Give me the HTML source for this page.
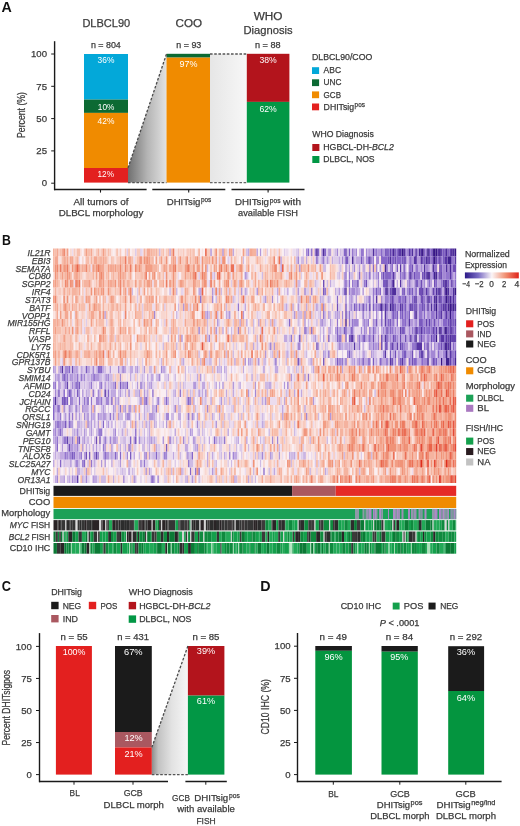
<!DOCTYPE html>
<html><head><meta charset="utf-8"><style>
html,body{margin:0;padding:0;background:#fff;}
svg{display:block;font-family:"Liberation Sans",sans-serif;will-change:transform;}
</style></head><body>
<svg width="520" height="826" viewBox="0 0 520 826">
<defs>
<filter id="hb" filterUnits="userSpaceOnUse" x="52" y="247" width="406" height="238"><feGaussianBlur stdDeviation="0.45 0.6"/></filter>
<linearGradient id="g1" x1="0" x2="1" y1="0" y2="0"><stop offset="0" stop-color="#707070"/><stop offset="0.5" stop-color="#b4b4b4"/><stop offset="1" stop-color="#e2e2e2"/></linearGradient>
<linearGradient id="g2" x1="0" x2="1" y1="0" y2="0"><stop offset="0" stop-color="#e6e6e6"/><stop offset="1" stop-color="#f7f7f7"/></linearGradient>
<linearGradient id="g3" x1="0" x2="1" y1="0" y2="0"><stop offset="0" stop-color="#2c1a88"/><stop offset="0.25" stop-color="#7a6cc4"/><stop offset="0.5" stop-color="#fbf5f7"/><stop offset="0.75" stop-color="#f19274"/><stop offset="1" stop-color="#e0241a"/></linearGradient>
<linearGradient id="g4" x1="0" x2="1" y1="0" y2="0"><stop offset="0" stop-color="#8c8c8c"/><stop offset="0.18" stop-color="#c2c2c2"/><stop offset="0.55" stop-color="#e2e2e2"/><stop offset="1" stop-color="#f6f6f6"/></linearGradient>
</defs>
<text x="1.60" y="11.70" font-size="14.2" fill="#111" stroke="#111" stroke-width="0" font-weight="bold" textLength="10.30" lengthAdjust="spacingAndGlyphs">A</text><text x="82.40" y="27.20" font-size="11.66" fill="#3a3a3a" stroke="#3a3a3a" stroke-width="0.25" textLength="47.80" lengthAdjust="spacingAndGlyphs">DLBCL90</text><text x="175.50" y="27.40" font-size="11.66" fill="#3a3a3a" stroke="#3a3a3a" stroke-width="0.25" textLength="26.50" lengthAdjust="spacingAndGlyphs">COO</text><text x="253.70" y="20.30" font-size="11.66" fill="#3a3a3a" stroke="#3a3a3a" stroke-width="0.25" textLength="28.80" lengthAdjust="spacingAndGlyphs">WHO</text><text x="243.50" y="34.00" font-size="11.66" fill="#3a3a3a" stroke="#3a3a3a" stroke-width="0.25" textLength="49.20" lengthAdjust="spacingAndGlyphs">Diagnosis</text><text x="90.90" y="48.10" font-size="8.86" fill="#3a3a3a" stroke="#3a3a3a" stroke-width="0.25" textLength="29.90" lengthAdjust="spacingAndGlyphs">n = 804</text><text x="176.30" y="48.00" font-size="8.86" fill="#3a3a3a" stroke="#3a3a3a" stroke-width="0.25" textLength="25.00" lengthAdjust="spacingAndGlyphs">n = 93</text><text x="255.00" y="48.10" font-size="8.86" fill="#3a3a3a" stroke="#3a3a3a" stroke-width="0.25" textLength="25.60" lengthAdjust="spacingAndGlyphs">n = 88</text><polygon points="128,168 166.5,54 166.5,182.6 128,182.6" fill="url(#g1)"/><rect x="210" y="54" width="36.8" height="128.6" fill="url(#g2)"/><rect x="84.00" y="54.00" width="44.00" height="45.60" fill="#03a8d9"/><rect x="84.00" y="99.60" width="44.00" height="13.30" fill="#0c6a33"/><rect x="84.00" y="112.90" width="44.00" height="55.10" fill="#f08b00"/><rect x="84.00" y="168.00" width="44.00" height="14.60" fill="#e3201f"/><rect x="166.50" y="53.80" width="43.50" height="3.80" fill="#0c6a33"/><rect x="166.50" y="57.60" width="43.50" height="125.00" fill="#f08b00"/><rect x="246.80" y="53.80" width="42.60" height="48.10" fill="#b3141c"/><rect x="246.80" y="101.90" width="42.60" height="80.70" fill="#029745"/><line x1="128.00" y1="168.00" x2="166.50" y2="54.00" stroke="#4a4a4a" stroke-width="1.3" stroke-dasharray="2.6 1.6"/><line x1="128.00" y1="182.60" x2="166.50" y2="182.60" stroke="#555" stroke-width="1.3" stroke-dasharray="2.6 1.6"/><line x1="210.00" y1="54.00" x2="246.80" y2="54.00" stroke="#555" stroke-width="1.3" stroke-dasharray="2.6 1.6"/><line x1="210.00" y1="182.60" x2="246.80" y2="182.60" stroke="#666" stroke-width="1.3" stroke-dasharray="2.6 1.6"/><text x="97.60" y="62.70" font-size="9.18" fill="#ffffff" stroke="#ffffff" stroke-width="0" textLength="16.80" lengthAdjust="spacingAndGlyphs">36%</text><text x="97.80" y="109.70" font-size="9.18" fill="#ffffff" stroke="#ffffff" stroke-width="0" textLength="16.60" lengthAdjust="spacingAndGlyphs">10%</text><text x="97.60" y="123.50" font-size="9.18" fill="#ffffff" stroke="#ffffff" stroke-width="0" textLength="16.80" lengthAdjust="spacingAndGlyphs">42%</text><text x="97.50" y="177.10" font-size="9.18" fill="#ffffff" stroke="#ffffff" stroke-width="0" textLength="16.50" lengthAdjust="spacingAndGlyphs">12%</text><text x="179.50" y="67.30" font-size="9.18" fill="#ffffff" stroke="#ffffff" stroke-width="0" textLength="18.00" lengthAdjust="spacingAndGlyphs">97%</text><text x="259.40" y="63.10" font-size="9.18" fill="#ffffff" stroke="#ffffff" stroke-width="0" textLength="17.30" lengthAdjust="spacingAndGlyphs">38%</text><text x="259.40" y="111.70" font-size="9.18" fill="#ffffff" stroke="#ffffff" stroke-width="0" textLength="17.30" lengthAdjust="spacingAndGlyphs">62%</text><line x1="54.60" y1="41.20" x2="54.60" y2="190.20" stroke="#1a1a1a" stroke-width="1.4"/><line x1="54.00" y1="189.50" x2="146.60" y2="189.50" stroke="#1a1a1a" stroke-width="1.4"/><line x1="152.30" y1="189.50" x2="225.30" y2="189.50" stroke="#1a1a1a" stroke-width="1.4"/><line x1="231.50" y1="189.50" x2="304.50" y2="189.50" stroke="#1a1a1a" stroke-width="1.4"/><line x1="100.50" y1="189.50" x2="100.50" y2="192.60" stroke="#1a1a1a" stroke-width="1.1"/><line x1="188.70" y1="189.50" x2="188.70" y2="192.60" stroke="#1a1a1a" stroke-width="1.1"/><line x1="268.10" y1="189.50" x2="268.10" y2="192.60" stroke="#1a1a1a" stroke-width="1.1"/><line x1="51.20" y1="54.00" x2="54.70" y2="54.00" stroke="#1a1a1a" stroke-width="1.0"/><text x="47.00" y="57.20" font-size="9.61" fill="#3a3a3a" stroke="#3a3a3a" text-anchor="end" stroke-width="0.25">100</text><line x1="51.20" y1="86.30" x2="54.70" y2="86.30" stroke="#1a1a1a" stroke-width="1.0"/><text x="47.00" y="89.50" font-size="9.61" fill="#3a3a3a" stroke="#3a3a3a" text-anchor="end" stroke-width="0.25">75</text><line x1="51.20" y1="118.60" x2="54.70" y2="118.60" stroke="#1a1a1a" stroke-width="1.0"/><text x="47.00" y="121.80" font-size="9.61" fill="#3a3a3a" stroke="#3a3a3a" text-anchor="end" stroke-width="0.25">50</text><line x1="51.20" y1="150.90" x2="54.70" y2="150.90" stroke="#1a1a1a" stroke-width="1.0"/><text x="47.00" y="154.10" font-size="9.61" fill="#3a3a3a" stroke="#3a3a3a" text-anchor="end" stroke-width="0.25">25</text><line x1="51.20" y1="183.20" x2="54.70" y2="183.20" stroke="#1a1a1a" stroke-width="1.0"/><text x="47.00" y="186.40" font-size="9.61" fill="#3a3a3a" stroke="#3a3a3a" text-anchor="end" stroke-width="0.25">0</text><text transform="translate(21.30,115.00) rotate(-90)" x="-23.00" y="0" font-size="10" fill="#3a3a3a" stroke="#3a3a3a" stroke-width="0.25" textLength="46.00" lengthAdjust="spacingAndGlyphs" dominant-baseline="central">Percent (%)</text><text x="73.50" y="205.00" font-size="9.5" fill="#3a3a3a" stroke="#3a3a3a" stroke-width="0.25" textLength="55.00" lengthAdjust="spacingAndGlyphs">All tumors of</text><text x="58.70" y="216.00" font-size="9.5" fill="#3a3a3a" stroke="#3a3a3a" stroke-width="0.25" textLength="84.60" lengthAdjust="spacingAndGlyphs">DLBCL morphology</text><text x="166.70" y="204.50" font-size="9.5" fill="#3a3a3a" stroke="#3a3a3a" stroke-width="0.25" textLength="33.70" lengthAdjust="spacingAndGlyphs">DHITsig</text><text x="200.90" y="202.10" font-size="7.13" fill="#3a3a3a" stroke="#3a3a3a" stroke-width="0.25" textLength="10.40" lengthAdjust="spacingAndGlyphs">pos</text><text x="235.00" y="205.00" font-size="9.5" fill="#3a3a3a" stroke="#3a3a3a" stroke-width="0.25" textLength="34.00" lengthAdjust="spacingAndGlyphs">DHITsig</text><text x="269.70" y="202.60" font-size="7.13" fill="#3a3a3a" stroke="#3a3a3a" stroke-width="0.25" textLength="10.80" lengthAdjust="spacingAndGlyphs">pos</text><text x="283.10" y="205.00" font-size="9.5" fill="#3a3a3a" stroke="#3a3a3a" stroke-width="0.25" textLength="17.90" lengthAdjust="spacingAndGlyphs">with</text><text x="238.00" y="216.20" font-size="9.5" fill="#3a3a3a" stroke="#3a3a3a" stroke-width="0.25" textLength="60.00" lengthAdjust="spacingAndGlyphs">available FISH</text><text x="312.00" y="59.50" font-size="8.86" fill="#3a3a3a" stroke="#3a3a3a" stroke-width="0.25" textLength="60.30" lengthAdjust="spacingAndGlyphs">DLBCL90/COO</text><rect x="312.00" y="67.20" width="7.10" height="6.80" fill="#03a8d9"/><text x="323.60" y="73.30" font-size="8.86" fill="#3a3a3a" stroke="#3a3a3a" stroke-width="0.25" textLength="17.40" lengthAdjust="spacingAndGlyphs">ABC</text><rect x="312.00" y="79.30" width="7.10" height="6.80" fill="#0c6a33"/><text x="323.60" y="85.40" font-size="8.86" fill="#3a3a3a" stroke="#3a3a3a" stroke-width="0.25" textLength="17.90" lengthAdjust="spacingAndGlyphs">UNC</text><rect x="312.00" y="91.40" width="7.10" height="6.80" fill="#f08b00"/><text x="323.60" y="97.50" font-size="8.86" fill="#3a3a3a" stroke="#3a3a3a" stroke-width="0.25" textLength="17.40" lengthAdjust="spacingAndGlyphs">GCB</text><rect x="312.00" y="103.50" width="7.10" height="6.80" fill="#e3201f"/><text x="323.60" y="109.60" font-size="8.86" fill="#3a3a3a" stroke="#3a3a3a" stroke-width="0.25" textLength="30.50" lengthAdjust="spacingAndGlyphs">DHITsig</text><text x="354.60" y="107.20" font-size="6.64" fill="#3a3a3a" stroke="#3a3a3a" stroke-width="0.25" textLength="10.30" lengthAdjust="spacingAndGlyphs">pos</text><text x="312.30" y="136.90" font-size="8.86" fill="#3a3a3a" stroke="#3a3a3a" stroke-width="0.25" textLength="61.50" lengthAdjust="spacingAndGlyphs">WHO Diagnosis</text><rect x="312.30" y="144.00" width="7.10" height="7.00" fill="#b3141c"/><rect x="312.30" y="156.00" width="7.10" height="7.00" fill="#029745"/><text x="323.30" y="150.40" font-size="8.2" fill="#3a3a3a" stroke="#3a3a3a" stroke-width="0.25" textLength="70.50" lengthAdjust="spacingAndGlyphs"><tspan>HGBCL-DH-</tspan><tspan font-style="italic">BCL2</tspan></text><text x="323.30" y="161.90" font-size="8.86" fill="#3a3a3a" stroke="#3a3a3a" stroke-width="0.25" textLength="51.30" lengthAdjust="spacingAndGlyphs">DLBCL, NOS</text><text x="2.00" y="244.80" font-size="14.2" fill="#111" stroke="#111" stroke-width="0" font-weight="bold" textLength="8.90" lengthAdjust="spacingAndGlyphs">B</text><text x="27.52" y="256.00" font-size="9.4" fill="#3a3a3a" stroke="#3a3a3a" stroke-width="0.25" font-style="italic" textLength="22.98" lengthAdjust="spacingAndGlyphs">IL21R</text><text x="31.83" y="263.82" font-size="9.4" fill="#3a3a3a" stroke="#3a3a3a" stroke-width="0.25" font-style="italic" textLength="18.67" lengthAdjust="spacingAndGlyphs">EBI3</text><text x="15.56" y="271.64" font-size="9.4" fill="#3a3a3a" stroke="#3a3a3a" stroke-width="0.25" font-style="italic" textLength="34.94" lengthAdjust="spacingAndGlyphs">SEMA7A</text><text x="28.48" y="279.46" font-size="9.4" fill="#3a3a3a" stroke="#3a3a3a" stroke-width="0.25" font-style="italic" textLength="22.02" lengthAdjust="spacingAndGlyphs">CD80</text><text x="21.78" y="287.28" font-size="9.4" fill="#3a3a3a" stroke="#3a3a3a" stroke-width="0.25" font-style="italic" textLength="28.72" lengthAdjust="spacingAndGlyphs">SGPP2</text><text x="31.85" y="295.10" font-size="9.4" fill="#3a3a3a" stroke="#3a3a3a" stroke-width="0.25" font-style="italic" textLength="18.65" lengthAdjust="spacingAndGlyphs">IRF4</text><text x="24.98" y="302.92" font-size="9.4" fill="#3a3a3a" stroke="#3a3a3a" stroke-width="0.25" font-style="italic" textLength="25.52" lengthAdjust="spacingAndGlyphs">STAT3</text><text x="29.13" y="310.74" font-size="9.4" fill="#3a3a3a" stroke="#3a3a3a" stroke-width="0.25" font-style="italic" textLength="21.37" lengthAdjust="spacingAndGlyphs">BATF</text><text x="21.78" y="318.56" font-size="9.4" fill="#3a3a3a" stroke="#3a3a3a" stroke-width="0.25" font-style="italic" textLength="28.72" lengthAdjust="spacingAndGlyphs">VOPP1</text><text x="7.44" y="326.38" font-size="9.4" fill="#3a3a3a" stroke="#3a3a3a" stroke-width="0.25" font-style="italic" textLength="43.06" lengthAdjust="spacingAndGlyphs">MIR155HG</text><text x="28.98" y="334.20" font-size="9.4" fill="#3a3a3a" stroke="#3a3a3a" stroke-width="0.25" font-style="italic" textLength="21.52" lengthAdjust="spacingAndGlyphs">RFFL</text><text x="28.00" y="342.02" font-size="9.4" fill="#3a3a3a" stroke="#3a3a3a" stroke-width="0.25" font-style="italic" textLength="22.50" lengthAdjust="spacingAndGlyphs">VASP</text><text x="31.18" y="349.84" font-size="9.4" fill="#3a3a3a" stroke="#3a3a3a" stroke-width="0.25" font-style="italic" textLength="19.32" lengthAdjust="spacingAndGlyphs">LY75</text><text x="16.52" y="357.66" font-size="9.4" fill="#3a3a3a" stroke="#3a3a3a" stroke-width="0.25" font-style="italic" textLength="33.98" lengthAdjust="spacingAndGlyphs">CDK5R1</text><text x="11.73" y="365.48" font-size="9.4" fill="#3a3a3a" stroke="#3a3a3a" stroke-width="0.25" font-style="italic" textLength="38.77" lengthAdjust="spacingAndGlyphs">GPR137B</text><text x="27.06" y="373.30" font-size="9.4" fill="#3a3a3a" stroke="#3a3a3a" stroke-width="0.25" font-style="italic" textLength="23.44" lengthAdjust="spacingAndGlyphs">SYBU</text><text x="18.44" y="381.12" font-size="9.4" fill="#3a3a3a" stroke="#3a3a3a" stroke-width="0.25" font-style="italic" textLength="32.06" lengthAdjust="spacingAndGlyphs">SMIM14</text><text x="23.72" y="388.94" font-size="9.4" fill="#3a3a3a" stroke="#3a3a3a" stroke-width="0.25" font-style="italic" textLength="26.78" lengthAdjust="spacingAndGlyphs">AFMID</text><text x="28.48" y="396.76" font-size="9.4" fill="#3a3a3a" stroke="#3a3a3a" stroke-width="0.25" font-style="italic" textLength="22.02" lengthAdjust="spacingAndGlyphs">CD24</text><text x="19.40" y="404.58" font-size="9.4" fill="#3a3a3a" stroke="#3a3a3a" stroke-width="0.25" font-style="italic" textLength="31.10" lengthAdjust="spacingAndGlyphs">JCHAIN</text><text x="25.14" y="412.40" font-size="9.4" fill="#3a3a3a" stroke="#3a3a3a" stroke-width="0.25" font-style="italic" textLength="25.36" lengthAdjust="spacingAndGlyphs">RGCC</text><text x="22.26" y="420.22" font-size="9.4" fill="#3a3a3a" stroke="#3a3a3a" stroke-width="0.25" font-style="italic" textLength="28.24" lengthAdjust="spacingAndGlyphs">QRSL1</text><text x="16.05" y="428.04" font-size="9.4" fill="#3a3a3a" stroke="#3a3a3a" stroke-width="0.25" font-style="italic" textLength="34.45" lengthAdjust="spacingAndGlyphs">SNHG19</text><text x="25.63" y="435.86" font-size="9.4" fill="#3a3a3a" stroke="#3a3a3a" stroke-width="0.25" font-style="italic" textLength="24.87" lengthAdjust="spacingAndGlyphs">GAMT</text><text x="22.74" y="443.68" font-size="9.4" fill="#3a3a3a" stroke="#3a3a3a" stroke-width="0.25" font-style="italic" textLength="27.76" lengthAdjust="spacingAndGlyphs">PEG10</text><text x="17.98" y="451.50" font-size="9.4" fill="#3a3a3a" stroke="#3a3a3a" stroke-width="0.25" font-style="italic" textLength="32.52" lengthAdjust="spacingAndGlyphs">TNFSF8</text><text x="22.74" y="459.32" font-size="9.4" fill="#3a3a3a" stroke="#3a3a3a" stroke-width="0.25" font-style="italic" textLength="27.76" lengthAdjust="spacingAndGlyphs">ALOX5</text><text x="8.85" y="467.14" font-size="9.4" fill="#3a3a3a" stroke="#3a3a3a" stroke-width="0.25" font-style="italic" textLength="41.65" lengthAdjust="spacingAndGlyphs">SLC25A27</text><text x="31.36" y="474.96" font-size="9.4" fill="#3a3a3a" stroke="#3a3a3a" stroke-width="0.25" font-style="italic" textLength="19.14" lengthAdjust="spacingAndGlyphs">MYC</text><text x="17.47" y="482.78" font-size="9.4" fill="#3a3a3a" stroke="#3a3a3a" stroke-width="0.25" font-style="italic" textLength="33.03" lengthAdjust="spacingAndGlyphs">OR13A1</text><g filter="url(#hb)"><g transform="translate(53.0,248.5) scale(1.70847,7.82)" stroke-width="1" fill="none"><path stroke="#381886" d="M232 7.5h1"/><path stroke="#381886" d="M219 0.5h1"/><path stroke="#381886" d="M235 5.5h1M224 11.5h1M227 14.5h1"/><path stroke="#381886" d="M223 0.5h1M219 3.5h1M230 6.5h1M224 7.5h1"/><path stroke="#381886" d="M204 0.5h1M216 0.5h1M224 0.5h1M226 0.5h1M235 0.5h1M223 1.5h1M230 5.5h1M232 8.5h1M226 10.5h1M229 10.5h1"/><path stroke="#40208e" d="M222 0.5h1M231 1.5h1M232 1.5h1M223 3.5h1M195 5.5h1M197 7.5h1M234 7.5h1M230 13.5h1M230 14.5h1M231 14.5h1"/><path stroke="#482795" d="M199 0.5h1M205 0.5h1M214 0.5h1M233 0.5h1M194 2.5h1M232 2.5h1M224 3.5h1M199 4.5h1M226 5.5h1M224 6.5h1M232 6.5h1M192 7.5h1M231 7.5h1M212 8.5h1M212 11.5h1M229 12.5h1M230 12.5h1M219 14.5h1M235 14.5h1"/><path stroke="#502e9c" d="M154 0.5h1M158 0.5h1M187 0.5h1M210 0.5h1M215 0.5h1M230 0.5h1M234 0.5h1M175 1.5h1M197 1.5h1M218 1.5h1M217 2.5h1M222 2.5h1M230 2.5h1M229 4.5h1M199 5.5h1M200 5.5h1M224 5.5h1M229 5.5h1M231 5.5h1M234 5.5h1M219 6.5h1M223 6.5h1M226 6.5h1M234 6.5h1M221 7.5h1M229 7.5h1M233 7.5h1M235 7.5h1M171 9.5h1M212 10.5h1M230 10.5h1M232 11.5h1M232 12.5h1M1 19.5h1"/><path stroke="#5836a4" d="M202 0.5h1M203 0.5h1M208 0.5h1M212 0.5h1M225 0.5h1M211 1.5h1M212 1.5h1M215 1.5h1M219 1.5h1M222 1.5h1M226 1.5h1M229 1.5h1M230 1.5h1M235 1.5h1M203 2.5h1M199 3.5h1M209 3.5h1M220 3.5h1M232 3.5h1M195 4.5h1M203 4.5h1M230 4.5h1M171 5.5h1M198 5.5h1M218 5.5h1M189 6.5h1M212 6.5h1M194 7.5h1M203 7.5h1M209 7.5h1M219 7.5h1M228 7.5h1M194 8.5h1M224 8.5h1M227 8.5h1M230 8.5h1M208 9.5h1M215 10.5h1M224 10.5h1M233 10.5h1M175 11.5h1M194 11.5h1M227 11.5h1M228 11.5h1M230 11.5h1M176 12.5h1M213 12.5h1M214 12.5h1M215 12.5h1M231 12.5h1M194 13.5h1M232 13.5h1M197 14.5h1M204 14.5h1M5 15.5h1"/><path stroke="#6442ad" d="M197 0.5h1M227 0.5h1M232 0.5h1M185 1.5h1M220 1.5h1M224 1.5h1M226 2.5h1M217 3.5h1M226 3.5h1M228 4.5h1M233 4.5h1M216 5.5h1M222 5.5h1M225 5.5h1M198 6.5h1M229 6.5h1M231 6.5h1M185 7.5h1M198 7.5h1M199 7.5h1M204 7.5h1M212 7.5h1M223 7.5h1M194 9.5h1M218 9.5h1M220 9.5h1M232 9.5h1M235 9.5h1M203 10.5h1M222 10.5h1M232 10.5h1M174 11.5h1M209 11.5h1M231 11.5h1M233 11.5h1M234 11.5h1M235 11.5h1M198 12.5h1M201 12.5h1M203 12.5h1M219 12.5h1M215 13.5h1M216 13.5h1M219 13.5h1M235 13.5h1M232 14.5h1M8 17.5h1M30 18.5h1M8 24.5h1M25 26.5h1M14 29.5h1"/><path stroke="#6f4eb6" d="M171 0.5h1M195 0.5h1M220 0.5h1M229 0.5h1M196 1.5h1M200 1.5h1M205 1.5h1M216 1.5h1M210 2.5h1M234 2.5h1M235 2.5h1M193 3.5h1M195 3.5h1M211 3.5h1M216 3.5h1M218 3.5h1M227 3.5h1M158 4.5h1M178 4.5h1M183 4.5h1M198 4.5h1M212 4.5h1M215 4.5h1M223 4.5h1M194 5.5h1M197 5.5h1M205 5.5h1M214 5.5h1M215 5.5h1M206 6.5h1M211 6.5h1M215 6.5h1M216 6.5h1M220 6.5h1M166 7.5h1M181 7.5h1M191 7.5h1M195 7.5h1M210 7.5h1M216 7.5h1M227 7.5h1M230 7.5h1M171 8.5h1M226 8.5h1M223 9.5h1M231 9.5h1M233 9.5h1M195 10.5h1M227 10.5h1M187 11.5h1M192 11.5h1M199 11.5h1M203 11.5h1M206 11.5h1M215 11.5h1M221 11.5h1M226 11.5h1M192 12.5h1M212 12.5h1M227 12.5h1M200 13.5h1M210 13.5h1M198 14.5h1M210 14.5h1M222 14.5h1M11 15.5h1M6 19.5h1M25 24.5h1M9 25.5h1M19 26.5h1"/><path stroke="#7a5abf" d="M173 0.5h1M194 0.5h1M198 0.5h1M200 0.5h1M209 0.5h1M228 0.5h1M171 1.5h1M172 1.5h1M180 1.5h1M199 1.5h1M204 1.5h1M206 1.5h1M217 1.5h1M228 1.5h1M233 1.5h1M201 2.5h1M205 2.5h1M227 2.5h1M205 3.5h1M208 3.5h1M193 4.5h1M194 4.5h1M213 4.5h1M231 4.5h1M158 5.5h1M189 5.5h1M208 5.5h1M210 5.5h1M212 5.5h1M219 5.5h1M227 6.5h1M233 6.5h1M235 6.5h1M171 7.5h1M176 7.5h1M187 7.5h1M200 7.5h1M206 7.5h1M211 7.5h1M217 7.5h1M226 7.5h1M199 8.5h1M201 8.5h1M204 8.5h1M208 8.5h1M229 8.5h1M189 9.5h1M197 9.5h1M214 9.5h1M215 9.5h1M234 9.5h1M170 10.5h1M204 10.5h1M205 10.5h1M213 10.5h1M217 10.5h1M219 10.5h1M231 10.5h1M235 10.5h1M144 11.5h1M173 11.5h1M182 11.5h1M195 11.5h1M229 11.5h1M154 12.5h1M194 12.5h1M195 12.5h1M204 12.5h1M173 13.5h1M197 13.5h1M205 13.5h1M206 13.5h1M233 13.5h1M143 14.5h1M158 14.5h1M166 14.5h1M181 14.5h1M187 14.5h1M203 14.5h1M224 14.5h1M19 15.5h1M27 15.5h1M6 16.5h1M15 17.5h1M39 17.5h1M43 17.5h1M3 18.5h1M9 18.5h1M14 18.5h1M5 19.5h1M8 19.5h1M20 19.5h1M3 20.5h1M7 22.5h1M15 24.5h1M27 24.5h1M48 24.5h1M66 25.5h1M11 26.5h1M21 26.5h1M45 26.5h1"/><path stroke="#8666c8" d="M149 0.5h1M155 0.5h1M159 0.5h1M170 0.5h1M192 0.5h1M196 0.5h1M201 0.5h1M217 0.5h1M221 0.5h1M231 0.5h1M154 1.5h1M184 1.5h1M192 1.5h1M193 1.5h1M194 1.5h1M195 1.5h1M198 1.5h1M201 1.5h1M202 1.5h1M203 1.5h1M209 1.5h1M225 1.5h1M187 2.5h1M195 2.5h1M198 2.5h1M209 2.5h1M179 3.5h1M185 3.5h1M194 3.5h1M196 3.5h1M197 3.5h1M203 3.5h1M212 3.5h1M222 3.5h1M233 3.5h1M171 4.5h1M173 4.5h1M220 4.5h1M224 4.5h1M235 4.5h1M170 5.5h1M191 5.5h1M204 5.5h1M166 6.5h1M185 6.5h1M195 6.5h1M197 6.5h1M199 6.5h1M202 6.5h1M203 6.5h1M210 6.5h1M221 6.5h1M179 7.5h1M208 7.5h1M192 8.5h1M203 8.5h1M206 8.5h1M211 8.5h1M217 8.5h1M233 8.5h1M234 8.5h1M138 9.5h1M192 9.5h1M196 9.5h1M201 9.5h1M206 9.5h1M216 9.5h1M228 9.5h1M229 9.5h1M230 9.5h1M147 10.5h1M166 10.5h1M171 10.5h1M174 10.5h1M187 10.5h1M197 10.5h1M214 10.5h1M216 10.5h1M220 10.5h1M223 10.5h1M234 10.5h1M161 11.5h1M166 11.5h1M171 11.5h1M181 11.5h1M185 11.5h1M200 11.5h1M211 11.5h1M219 11.5h1M222 11.5h1M223 11.5h1M217 12.5h1M234 12.5h1M214 13.5h1M225 13.5h1M229 13.5h1M191 14.5h1M195 14.5h1M208 14.5h1M211 14.5h1M212 14.5h1M216 14.5h1M223 14.5h1M234 14.5h1M9 15.5h1M26 15.5h1M28 15.5h1M13 17.5h1M36 17.5h1M6 18.5h1M10 18.5h1M32 18.5h1M7 19.5h1M10 19.5h1M15 19.5h1M34 19.5h1M54 19.5h1M66 19.5h1M79 19.5h1M0 20.5h1M0 21.5h1M9 22.5h1M29 22.5h1M4 23.5h1M27 23.5h1M45 24.5h1M94 24.5h1M2 25.5h1M12 26.5h1M30 26.5h1M36 26.5h1M39 26.5h1M60 26.5h1M81 26.5h1M4 27.5h1M18 27.5h1M80 28.5h1M58 29.5h1"/><path stroke="#9476ce" d="M151 0.5h1M153 0.5h1M175 0.5h1M180 0.5h1M181 0.5h1M189 0.5h1M206 0.5h1M218 0.5h1M158 1.5h1M187 1.5h1M221 1.5h1M227 1.5h1M234 1.5h1M208 2.5h1M212 2.5h1M213 2.5h1M223 2.5h1M224 2.5h1M233 2.5h1M171 3.5h1M173 3.5h1M190 3.5h1M192 3.5h1M198 3.5h1M213 3.5h1M214 3.5h1M230 3.5h1M231 3.5h1M235 3.5h1M175 4.5h1M182 4.5h1M208 4.5h1M227 4.5h1M159 5.5h1M173 5.5h1M187 5.5h1M209 5.5h1M223 5.5h1M227 5.5h1M233 5.5h1M86 6.5h1M187 6.5h1M194 6.5h1M204 6.5h1M205 6.5h1M217 6.5h1M225 6.5h1M228 6.5h1M108 7.5h1M177 7.5h1M183 7.5h1M189 7.5h1M205 7.5h1M214 7.5h1M215 7.5h1M158 8.5h1M173 8.5h1M181 8.5h1M198 8.5h1M200 8.5h1M214 8.5h1M215 8.5h1M219 8.5h1M221 8.5h1M222 8.5h1M225 8.5h1M231 8.5h1M235 8.5h1M166 9.5h1M173 9.5h1M175 9.5h1M184 9.5h1M199 9.5h1M204 9.5h1M205 9.5h1M212 9.5h1M219 9.5h1M221 9.5h1M225 9.5h1M151 10.5h1M175 10.5h1M185 10.5h1M198 10.5h1M210 10.5h1M218 10.5h1M221 10.5h1M139 11.5h1M167 11.5h1M168 11.5h1M179 11.5h1M214 11.5h1M179 12.5h1M187 12.5h1M190 12.5h1M197 12.5h1M199 12.5h1M205 12.5h1M210 12.5h1M211 12.5h1M225 12.5h1M226 12.5h1M228 12.5h1M161 13.5h1M204 13.5h1M234 13.5h1M130 14.5h1M169 14.5h1M171 14.5h1M184 14.5h1M185 14.5h1M202 14.5h1M205 14.5h1M233 14.5h1M8 16.5h1M14 16.5h1M16 16.5h1M24 16.5h1M149 16.5h1M1 17.5h1M14 17.5h1M22 17.5h1M28 17.5h1M51 17.5h1M23 18.5h1M58 18.5h1M74 18.5h1M18 19.5h1M22 19.5h1M28 19.5h1M61 19.5h1M13 20.5h1M39 20.5h1M60 20.5h1M4 21.5h1M9 21.5h1M11 21.5h1M33 21.5h1M44 21.5h1M79 21.5h1M2 22.5h1M3 22.5h1M28 23.5h1M48 23.5h1M2 24.5h1M6 24.5h1M7 24.5h1M11 24.5h1M14 24.5h1M30 24.5h1M68 24.5h1M100 24.5h1M29 25.5h1M44 25.5h1M7 26.5h1M10 26.5h1M16 26.5h1M65 26.5h1M17 27.5h1M22 27.5h1M53 27.5h1M79 27.5h1M83 28.5h1M85 28.5h1M123 28.5h1"/><path stroke="#a387d4" d="M148 0.5h1M157 0.5h1M166 0.5h1M177 0.5h1M183 0.5h1M188 0.5h1M207 0.5h1M213 0.5h1M143 1.5h1M169 1.5h1M181 1.5h1M183 1.5h1M186 1.5h1M189 1.5h1M190 1.5h1M208 1.5h1M171 2.5h1M176 2.5h1M185 2.5h1M189 2.5h1M197 2.5h1M215 2.5h1M218 2.5h1M219 2.5h1M228 2.5h1M229 2.5h1M231 2.5h1M204 3.5h1M206 3.5h1M210 3.5h1M225 3.5h1M228 3.5h1M229 3.5h1M190 4.5h1M217 4.5h1M219 4.5h1M234 4.5h1M147 5.5h1M151 5.5h1M175 5.5h1M176 5.5h1M190 5.5h1M196 5.5h1M202 5.5h1M207 5.5h1M217 5.5h1M232 5.5h1M93 6.5h1M128 6.5h1M171 6.5h1M192 6.5h1M196 6.5h1M208 6.5h1M218 6.5h1M158 7.5h1M174 7.5h1M190 7.5h1M193 7.5h1M201 7.5h1M202 7.5h1M222 7.5h1M225 7.5h1M59 8.5h1M169 8.5h1M185 8.5h1M189 8.5h1M195 8.5h1M205 8.5h1M207 8.5h1M223 8.5h1M157 9.5h1M176 9.5h1M177 9.5h1M178 9.5h1M182 9.5h1M187 9.5h1M195 9.5h1M198 9.5h1M217 9.5h1M222 9.5h1M85 10.5h1M108 10.5h1M180 10.5h1M182 10.5h1M188 10.5h1M193 10.5h1M196 10.5h1M200 10.5h1M208 10.5h1M211 10.5h1M228 10.5h1M91 11.5h1M190 11.5h1M197 11.5h1M201 11.5h1M208 11.5h1M216 11.5h1M217 11.5h1M127 12.5h1M143 12.5h1M144 12.5h1M167 12.5h1M185 12.5h1M218 12.5h1M221 12.5h1M223 12.5h1M235 12.5h1M172 13.5h1M193 13.5h1M202 13.5h1M209 13.5h1M221 13.5h1M222 13.5h1M223 13.5h1M228 13.5h1M167 14.5h1M168 14.5h1M179 14.5h1M192 14.5h1M200 14.5h1M209 14.5h1M215 14.5h1M217 14.5h1M218 14.5h1M4 15.5h1M7 15.5h1M8 15.5h1M23 15.5h1M38 15.5h1M41 15.5h1M63 15.5h1M3 16.5h1M5 16.5h1M7 16.5h1M10 16.5h1M18 16.5h1M23 16.5h1M32 16.5h1M39 16.5h1M62 16.5h1M0 17.5h1M3 17.5h1M7 17.5h1M11 17.5h1M27 17.5h1M41 17.5h1M137 17.5h1M1 18.5h1M26 18.5h1M44 18.5h1M118 18.5h1M0 19.5h1M11 19.5h1M25 19.5h1M26 19.5h1M31 19.5h1M32 19.5h1M51 19.5h1M53 19.5h1M80 19.5h1M2 20.5h1M6 20.5h1M9 20.5h1M17 20.5h1M71 20.5h1M90 20.5h1M18 21.5h1M20 21.5h1M26 21.5h1M35 21.5h1M43 21.5h1M66 21.5h1M67 21.5h1M81 21.5h1M148 21.5h1M1 22.5h1M4 22.5h1M10 22.5h1M20 22.5h1M84 22.5h1M1 23.5h1M3 23.5h1M14 23.5h1M36 23.5h1M33 24.5h1M50 24.5h1M76 24.5h1M82 24.5h1M128 24.5h1M131 24.5h1M14 25.5h1M8 26.5h1M24 26.5h1M26 26.5h1M43 26.5h1M54 26.5h1M66 26.5h1M103 26.5h1M105 26.5h1M122 26.5h1M13 27.5h1M14 27.5h1M51 27.5h1M2 29.5h1M11 29.5h1M19 29.5h1M41 29.5h1M57 29.5h1M61 29.5h1"/><path stroke="#b298da" d="M92 0.5h1M99 0.5h1M121 0.5h1M161 0.5h1M162 0.5h1M185 0.5h1M190 0.5h1M191 0.5h1M193 0.5h1M211 0.5h1M157 1.5h1M160 1.5h1M210 1.5h1M213 1.5h1M214 1.5h1M144 2.5h1M173 2.5h1M179 2.5h1M191 2.5h1M112 3.5h1M170 3.5h1M183 3.5h1M187 3.5h1M189 3.5h1M200 3.5h1M221 3.5h1M170 4.5h1M176 4.5h1M177 4.5h1M196 4.5h1M197 4.5h1M207 4.5h1M209 4.5h1M214 4.5h1M216 4.5h1M221 4.5h1M226 4.5h1M232 4.5h1M93 5.5h1M110 5.5h1M119 5.5h1M143 5.5h1M167 5.5h1M174 5.5h1M177 5.5h1M178 5.5h1M181 5.5h1M188 5.5h1M201 5.5h1M220 5.5h1M124 6.5h1M174 6.5h1M177 6.5h1M184 6.5h1M200 6.5h1M201 6.5h1M222 6.5h1M76 7.5h1M143 7.5h1M154 7.5h1M182 7.5h1M188 7.5h1M196 7.5h1M213 7.5h1M218 7.5h1M220 7.5h1M90 8.5h1M103 8.5h1M111 8.5h1M141 8.5h1M147 8.5h1M161 8.5h1M166 8.5h1M216 8.5h1M220 8.5h1M228 8.5h1M96 9.5h1M147 9.5h1M162 9.5h1M181 9.5h1M183 9.5h1M188 9.5h1M207 9.5h1M209 9.5h1M210 9.5h1M224 9.5h1M227 9.5h1M95 10.5h1M148 10.5h1M165 10.5h1M168 10.5h1M183 10.5h1M194 10.5h1M199 10.5h1M225 10.5h1M75 11.5h1M153 11.5h1M158 11.5h1M178 11.5h1M184 11.5h1M196 11.5h1M198 11.5h1M210 11.5h1M220 11.5h1M129 12.5h1M155 12.5h1M168 12.5h1M171 12.5h1M173 12.5h1M188 12.5h1M189 12.5h1M200 12.5h1M206 12.5h1M207 12.5h1M124 13.5h1M158 13.5h1M174 13.5h1M181 13.5h1M186 13.5h1M199 13.5h1M220 13.5h1M226 13.5h1M231 13.5h1M112 14.5h1M114 14.5h1M120 14.5h1M176 14.5h1M178 14.5h1M206 14.5h1M221 14.5h1M228 14.5h1M229 14.5h1M0 15.5h1M13 15.5h1M20 15.5h1M33 15.5h1M40 15.5h1M49 15.5h1M53 15.5h1M123 15.5h1M130 15.5h1M1 16.5h1M11 16.5h1M22 16.5h1M25 16.5h1M26 16.5h1M31 16.5h1M86 16.5h1M139 16.5h1M147 16.5h1M30 17.5h1M35 17.5h1M40 17.5h1M42 17.5h1M49 17.5h1M57 17.5h1M82 17.5h1M83 17.5h1M99 17.5h1M105 17.5h1M118 17.5h1M135 17.5h1M8 18.5h1M15 18.5h1M17 18.5h1M34 18.5h1M39 18.5h1M50 18.5h1M53 18.5h1M85 18.5h1M89 18.5h1M114 18.5h1M27 19.5h1M36 19.5h1M38 19.5h1M78 19.5h1M98 19.5h1M124 19.5h1M152 19.5h1M10 20.5h1M22 20.5h1M24 20.5h1M29 20.5h1M35 20.5h1M42 20.5h1M44 20.5h1M45 20.5h1M58 20.5h1M7 21.5h1M13 21.5h1M15 21.5h1M22 21.5h1M29 21.5h1M30 21.5h1M38 21.5h1M50 21.5h1M56 21.5h1M57 21.5h1M58 21.5h1M162 21.5h1M5 22.5h1M6 22.5h1M11 22.5h1M22 22.5h1M26 22.5h1M32 22.5h1M48 22.5h1M66 22.5h1M95 22.5h1M0 23.5h1M5 23.5h1M18 23.5h1M22 23.5h1M26 23.5h1M80 23.5h1M1 24.5h1M18 24.5h1M35 24.5h1M36 24.5h1M47 24.5h1M57 24.5h1M64 24.5h1M5 25.5h1M10 25.5h1M11 25.5h1M17 25.5h1M25 25.5h1M30 25.5h1M34 25.5h1M45 25.5h1M84 25.5h1M6 26.5h1M9 26.5h1M15 26.5h1M18 26.5h1M31 26.5h1M32 26.5h1M34 26.5h1M37 26.5h1M53 26.5h1M56 26.5h1M78 26.5h1M127 26.5h1M132 26.5h1M10 27.5h1M28 27.5h1M30 27.5h1M39 27.5h1M19 28.5h1M44 28.5h1M54 28.5h1M56 28.5h1M93 28.5h1M6 29.5h1M23 29.5h1M47 29.5h1M81 29.5h1"/><path stroke="#c0a8e0" d="M68 0.5h1M105 0.5h1M114 0.5h1M119 0.5h1M176 0.5h1M184 0.5h1M186 0.5h1M133 1.5h1M148 1.5h1M163 1.5h1M167 1.5h1M177 1.5h1M178 1.5h1M179 1.5h1M133 2.5h1M181 2.5h1M182 2.5h1M206 2.5h1M214 2.5h1M216 2.5h1M220 2.5h1M113 3.5h1M182 3.5h1M234 3.5h1M162 4.5h1M201 4.5h1M211 4.5h1M225 4.5h1M85 5.5h1M86 5.5h1M112 5.5h1M131 5.5h1M137 5.5h1M165 5.5h1M179 5.5h1M193 5.5h1M211 5.5h1M221 5.5h1M228 5.5h1M150 6.5h1M156 6.5h1M161 6.5h1M173 6.5h1M175 6.5h1M183 6.5h1M207 6.5h1M209 6.5h1M213 6.5h1M214 6.5h1M112 7.5h1M136 7.5h1M140 7.5h1M148 7.5h1M173 7.5h1M178 7.5h1M180 7.5h1M207 7.5h1M30 8.5h1M89 8.5h1M101 8.5h1M156 8.5h1M165 8.5h1M167 8.5h1M177 8.5h1M213 8.5h1M109 9.5h1M113 9.5h1M120 9.5h1M156 9.5h1M169 9.5h1M203 9.5h1M211 9.5h1M226 9.5h1M99 10.5h1M140 10.5h1M158 10.5h1M161 10.5h1M162 10.5h1M167 10.5h1M190 10.5h1M192 10.5h1M201 10.5h1M202 10.5h1M206 10.5h1M209 10.5h1M135 11.5h1M136 11.5h1M176 11.5h1M180 11.5h1M183 11.5h1M186 11.5h1M188 11.5h1M193 11.5h1M202 11.5h1M204 11.5h1M205 11.5h1M207 11.5h1M218 11.5h1M117 12.5h1M169 12.5h1M172 12.5h1M174 12.5h1M178 12.5h1M181 12.5h1M186 12.5h1M202 12.5h1M209 12.5h1M224 12.5h1M233 12.5h1M137 13.5h1M159 13.5h1M182 13.5h1M187 13.5h1M207 13.5h1M208 13.5h1M212 13.5h1M217 13.5h1M227 13.5h1M76 14.5h1M106 14.5h1M115 14.5h1M144 14.5h1M151 14.5h1M165 14.5h1M175 14.5h1M180 14.5h1M182 14.5h1M183 14.5h1M189 14.5h1M193 14.5h1M194 14.5h1M199 14.5h1M213 14.5h1M214 14.5h1M225 14.5h1M226 14.5h1M1 15.5h1M3 15.5h1M12 15.5h1M14 15.5h1M16 15.5h1M21 15.5h1M29 15.5h1M42 15.5h1M45 15.5h1M46 15.5h1M48 15.5h1M64 15.5h1M65 15.5h1M96 15.5h1M98 15.5h1M100 15.5h1M111 15.5h1M131 15.5h1M152 15.5h1M169 15.5h1M207 15.5h1M2 16.5h1M12 16.5h1M13 16.5h1M17 16.5h1M20 16.5h1M27 16.5h1M30 16.5h1M45 16.5h1M55 16.5h1M57 16.5h1M58 16.5h1M61 16.5h1M67 16.5h1M84 16.5h1M116 16.5h1M4 17.5h1M6 17.5h1M12 17.5h1M21 17.5h1M32 17.5h1M34 17.5h1M53 17.5h1M56 17.5h1M87 17.5h1M88 17.5h1M95 17.5h1M97 17.5h1M109 17.5h1M126 17.5h1M127 17.5h1M12 18.5h1M19 18.5h1M27 18.5h1M35 18.5h1M36 18.5h1M42 18.5h1M55 18.5h1M71 18.5h1M87 18.5h1M101 18.5h1M105 18.5h1M141 18.5h1M145 18.5h1M2 19.5h1M13 19.5h1M19 19.5h1M55 19.5h1M65 19.5h1M67 19.5h1M82 19.5h1M92 19.5h1M122 19.5h1M135 19.5h1M1 20.5h1M15 20.5h1M18 20.5h1M19 20.5h1M20 20.5h1M36 20.5h1M41 20.5h1M47 20.5h1M53 20.5h1M134 20.5h1M147 20.5h1M2 21.5h1M3 21.5h1M23 21.5h1M24 21.5h1M27 21.5h1M28 21.5h1M42 21.5h1M53 21.5h1M59 21.5h1M73 21.5h1M74 21.5h1M82 21.5h1M84 21.5h1M93 21.5h1M97 21.5h1M134 21.5h1M14 22.5h1M15 22.5h1M24 22.5h1M34 22.5h1M54 22.5h1M56 22.5h1M59 22.5h1M79 22.5h1M122 22.5h1M12 23.5h1M35 23.5h1M40 23.5h1M56 23.5h1M71 23.5h1M81 23.5h1M85 23.5h1M102 23.5h1M0 24.5h1M5 24.5h1M9 24.5h1M10 24.5h1M17 24.5h1M20 24.5h1M37 24.5h1M53 24.5h1M56 24.5h1M59 24.5h1M91 24.5h1M95 24.5h1M97 24.5h1M108 24.5h1M113 24.5h1M1 25.5h1M8 25.5h1M12 25.5h1M13 25.5h1M19 25.5h1M23 25.5h1M39 25.5h1M42 25.5h1M56 25.5h1M60 25.5h1M77 25.5h1M78 25.5h1M83 25.5h1M1 26.5h1M4 26.5h1M5 26.5h1M13 26.5h1M14 26.5h1M29 26.5h1M47 26.5h1M70 26.5h1M79 26.5h1M90 26.5h1M93 26.5h1M100 26.5h1M106 26.5h1M107 26.5h1M138 26.5h1M141 26.5h1M147 26.5h1M0 27.5h1M24 27.5h1M34 27.5h1M44 27.5h1M90 27.5h1M2 28.5h1M14 28.5h1M15 28.5h1M75 28.5h1M129 28.5h1M159 28.5h1M1 29.5h1M9 29.5h1M12 29.5h1M13 29.5h1M17 29.5h1M24 29.5h1M25 29.5h1M35 29.5h1M59 29.5h1M78 29.5h1M106 29.5h1M114 29.5h1"/><path stroke="#cebae4" d="M62 0.5h1M113 0.5h1M143 0.5h1M165 0.5h1M168 0.5h1M172 0.5h1M179 0.5h1M111 1.5h1M142 1.5h1M145 1.5h1M146 1.5h1M155 1.5h1M161 1.5h1M170 1.5h1M173 1.5h1M176 1.5h1M207 1.5h1M90 2.5h1M158 2.5h1M159 2.5h1M168 2.5h1M175 2.5h1M200 2.5h1M211 2.5h1M221 2.5h1M94 3.5h1M122 3.5h1M167 3.5h1M174 3.5h1M175 3.5h1M178 3.5h1M181 3.5h1M184 3.5h1M188 3.5h1M143 4.5h1M144 4.5h1M153 4.5h1M160 4.5h1M172 4.5h1M181 4.5h1M187 4.5h1M204 4.5h1M210 4.5h1M46 5.5h1M68 5.5h1M72 5.5h1M98 5.5h1M113 5.5h1M169 5.5h1M185 5.5h1M206 5.5h1M95 6.5h1M105 6.5h1M123 6.5h1M131 6.5h1M143 6.5h1M144 6.5h1M157 6.5h1M158 6.5h1M182 6.5h1M193 6.5h1M73 7.5h1M101 7.5h1M156 7.5h1M163 7.5h1M175 7.5h1M184 7.5h1M72 8.5h1M91 8.5h1M96 8.5h1M102 8.5h1M143 8.5h1M144 8.5h1M145 8.5h1M151 8.5h1M159 8.5h1M162 8.5h1M172 8.5h1M175 8.5h1M183 8.5h1M187 8.5h1M196 8.5h1M197 8.5h1M218 8.5h1M90 9.5h1M117 9.5h1M124 9.5h1M127 9.5h1M129 9.5h1M143 9.5h1M149 9.5h1M154 9.5h1M158 9.5h1M159 9.5h1M174 9.5h1M213 9.5h1M90 10.5h1M104 10.5h1M114 10.5h1M117 10.5h1M131 10.5h1M144 10.5h1M149 10.5h1M156 10.5h1M169 10.5h1M172 10.5h1M173 10.5h1M186 10.5h1M189 10.5h1M207 10.5h1M67 11.5h1M73 11.5h1M90 11.5h1M104 11.5h1M119 11.5h1M138 11.5h1M141 11.5h1M148 11.5h1M152 11.5h1M156 11.5h1M165 11.5h1M64 12.5h1M72 12.5h1M112 12.5h1M119 12.5h1M126 12.5h1M159 12.5h1M166 12.5h1M170 12.5h1M175 12.5h1M177 12.5h1M220 12.5h1M85 13.5h1M91 13.5h1M101 13.5h1M105 13.5h1M128 13.5h1M131 13.5h1M136 13.5h1M141 13.5h1M148 13.5h1M166 13.5h1M175 13.5h1M179 13.5h1M188 13.5h1M198 13.5h1M203 13.5h1M63 14.5h1M75 14.5h1M86 14.5h1M91 14.5h1M92 14.5h1M97 14.5h1M116 14.5h1M123 14.5h1M124 14.5h1M129 14.5h1M136 14.5h1M150 14.5h1M170 14.5h1M174 14.5h1M188 14.5h1M196 14.5h1M6 15.5h1M10 15.5h1M17 15.5h1M25 15.5h1M30 15.5h1M56 15.5h1M57 15.5h1M77 15.5h1M93 15.5h1M97 15.5h1M101 15.5h1M142 15.5h1M145 15.5h1M9 16.5h1M21 16.5h1M28 16.5h1M33 16.5h1M34 16.5h1M52 16.5h1M60 16.5h1M71 16.5h1M77 16.5h1M101 16.5h1M10 17.5h1M18 17.5h1M20 17.5h1M33 17.5h1M52 17.5h1M55 17.5h1M74 17.5h1M76 17.5h1M124 17.5h1M125 17.5h1M2 18.5h1M20 18.5h1M21 18.5h1M31 18.5h1M38 18.5h1M48 18.5h1M49 18.5h1M66 18.5h1M70 18.5h1M78 18.5h1M80 18.5h1M125 18.5h1M136 18.5h1M188 18.5h1M3 19.5h1M12 19.5h1M17 19.5h1M30 19.5h1M37 19.5h1M50 19.5h1M58 19.5h1M73 19.5h1M87 19.5h1M89 19.5h1M100 19.5h1M103 19.5h1M11 20.5h1M14 20.5h1M28 20.5h1M30 20.5h1M38 20.5h1M55 20.5h1M59 20.5h1M73 20.5h1M74 20.5h1M83 20.5h1M95 20.5h1M105 20.5h1M111 20.5h1M182 20.5h1M6 21.5h1M19 21.5h1M31 21.5h1M39 21.5h1M40 21.5h1M45 21.5h1M48 21.5h1M69 21.5h1M70 21.5h1M78 21.5h1M100 21.5h1M108 21.5h1M110 21.5h1M122 21.5h1M145 21.5h1M155 21.5h1M16 22.5h1M18 22.5h1M21 22.5h1M31 22.5h1M36 22.5h1M41 22.5h1M42 22.5h1M45 22.5h1M52 22.5h1M60 22.5h1M64 22.5h1M74 22.5h1M87 22.5h1M99 22.5h1M123 22.5h1M141 22.5h1M2 23.5h1M11 23.5h1M13 23.5h1M16 23.5h1M19 23.5h1M21 23.5h1M25 23.5h1M43 23.5h1M50 23.5h1M53 23.5h1M87 23.5h1M126 23.5h1M141 23.5h1M12 24.5h1M22 24.5h1M24 24.5h1M29 24.5h1M31 24.5h1M34 24.5h1M41 24.5h1M42 24.5h1M51 24.5h1M55 24.5h1M58 24.5h1M70 24.5h1M72 24.5h1M79 24.5h1M83 24.5h1M88 24.5h1M98 24.5h1M107 24.5h1M121 24.5h1M123 24.5h1M150 24.5h1M160 24.5h1M21 25.5h1M27 25.5h1M52 25.5h1M53 25.5h1M82 25.5h1M87 25.5h1M103 25.5h1M107 25.5h1M114 25.5h1M123 25.5h1M132 25.5h1M3 26.5h1M23 26.5h1M33 26.5h1M35 26.5h1M50 26.5h1M58 26.5h1M59 26.5h1M61 26.5h1M62 26.5h1M64 26.5h1M74 26.5h1M80 26.5h1M98 26.5h1M118 26.5h1M120 26.5h1M128 26.5h1M139 26.5h1M140 26.5h1M146 26.5h1M170 26.5h1M186 26.5h1M6 27.5h1M15 27.5h1M20 27.5h1M45 27.5h1M61 27.5h1M80 27.5h1M81 27.5h1M95 27.5h1M104 27.5h1M121 27.5h1M139 27.5h1M40 28.5h1M46 28.5h1M69 28.5h1M117 28.5h1M126 28.5h1M150 28.5h1M179 28.5h1M4 29.5h1M5 29.5h1M8 29.5h1M28 29.5h1M29 29.5h1M30 29.5h1M48 29.5h1M77 29.5h1M85 29.5h1M95 29.5h1M107 29.5h1M116 29.5h1M118 29.5h1"/><path stroke="#ddcbe9" d="M43 0.5h1M48 0.5h1M51 0.5h1M125 0.5h1M135 0.5h1M142 0.5h1M146 0.5h1M150 0.5h1M160 0.5h1M164 0.5h1M169 0.5h1M174 0.5h1M98 1.5h1M102 1.5h1M151 1.5h1M153 1.5h1M156 1.5h1M159 1.5h1M164 1.5h1M165 1.5h1M166 1.5h1M168 1.5h1M174 1.5h1M182 1.5h1M141 2.5h1M167 2.5h1M172 2.5h1M178 2.5h1M192 2.5h1M196 2.5h1M204 2.5h1M85 3.5h1M93 3.5h1M145 3.5h1M166 3.5h1M202 3.5h1M207 3.5h1M215 3.5h1M91 4.5h1M104 4.5h1M108 4.5h1M141 4.5h1M149 4.5h1M154 4.5h1M164 4.5h1M184 4.5h1M189 4.5h1M192 4.5h1M205 4.5h1M49 5.5h1M75 5.5h1M94 5.5h1M96 5.5h1M102 5.5h1M108 5.5h1M135 5.5h1M140 5.5h1M141 5.5h1M148 5.5h1M149 5.5h1M154 5.5h1M156 5.5h1M161 5.5h1M166 5.5h1M186 5.5h1M213 5.5h1M49 6.5h1M106 6.5h1M108 6.5h1M112 6.5h1M160 6.5h1M162 6.5h1M169 6.5h1M188 6.5h1M52 7.5h1M65 7.5h1M79 7.5h1M90 7.5h1M135 7.5h1M137 7.5h1M144 7.5h1M153 7.5h1M155 7.5h1M161 7.5h1M167 7.5h1M168 7.5h1M52 8.5h1M108 8.5h1M119 8.5h1M140 8.5h1M153 8.5h1M155 8.5h1M164 8.5h1M174 8.5h1M182 8.5h1M184 8.5h1M190 8.5h1M202 8.5h1M19 9.5h1M31 9.5h1M65 9.5h1M97 9.5h1M105 9.5h1M130 9.5h1M137 9.5h1M144 9.5h1M163 9.5h1M190 9.5h1M191 9.5h1M193 9.5h1M200 9.5h1M18 10.5h1M68 10.5h1M73 10.5h1M102 10.5h1M121 10.5h1M163 10.5h1M176 10.5h1M181 10.5h1M36 11.5h1M60 11.5h1M123 11.5h1M130 11.5h1M137 11.5h1M143 11.5h1M146 11.5h1M151 11.5h1M154 11.5h1M163 11.5h1M164 11.5h1M189 11.5h1M213 11.5h1M51 12.5h1M76 12.5h1M94 12.5h1M100 12.5h1M105 12.5h1M107 12.5h1M137 12.5h1M140 12.5h1M148 12.5h1M157 12.5h1M160 12.5h1M184 12.5h1M196 12.5h1M208 12.5h1M127 13.5h1M143 13.5h1M147 13.5h1M154 13.5h1M155 13.5h1M160 13.5h1M169 13.5h1M177 13.5h1M183 13.5h1M189 13.5h1M192 13.5h1M195 13.5h1M201 13.5h1M213 13.5h1M224 13.5h1M5 14.5h1M43 14.5h1M49 14.5h1M52 14.5h1M89 14.5h1M90 14.5h1M100 14.5h1M119 14.5h1M132 14.5h1M149 14.5h1M162 14.5h1M163 14.5h1M177 14.5h1M220 14.5h1M18 15.5h1M22 15.5h1M24 15.5h1M39 15.5h1M44 15.5h1M50 15.5h1M52 15.5h1M60 15.5h1M69 15.5h1M79 15.5h1M82 15.5h1M83 15.5h1M85 15.5h1M104 15.5h1M116 15.5h1M137 15.5h1M138 15.5h1M140 15.5h1M143 15.5h1M151 15.5h1M181 15.5h1M4 16.5h1M15 16.5h1M19 16.5h1M29 16.5h1M36 16.5h1M47 16.5h1M49 16.5h1M51 16.5h1M53 16.5h1M65 16.5h1M66 16.5h1M80 16.5h1M88 16.5h1M94 16.5h1M98 16.5h1M119 16.5h1M141 16.5h1M5 17.5h1M16 17.5h1M17 17.5h1M19 17.5h1M23 17.5h1M25 17.5h1M31 17.5h1M38 17.5h1M46 17.5h1M58 17.5h1M64 17.5h1M66 17.5h1M71 17.5h1M72 17.5h1M77 17.5h1M84 17.5h1M91 17.5h1M94 17.5h1M108 17.5h1M139 17.5h1M169 17.5h1M4 18.5h1M5 18.5h1M11 18.5h1M13 18.5h1M24 18.5h1M33 18.5h1M40 18.5h1M54 18.5h1M81 18.5h1M83 18.5h1M86 18.5h1M92 18.5h1M137 18.5h1M4 19.5h1M29 19.5h1M33 19.5h1M60 19.5h1M62 19.5h1M70 19.5h1M88 19.5h1M97 19.5h1M101 19.5h1M107 19.5h1M109 19.5h1M112 19.5h1M117 19.5h1M120 19.5h1M123 19.5h1M133 19.5h1M184 19.5h1M4 20.5h1M7 20.5h1M32 20.5h1M54 20.5h1M56 20.5h1M70 20.5h1M88 20.5h1M98 20.5h1M104 20.5h1M115 20.5h1M1 21.5h1M10 21.5h1M16 21.5h1M32 21.5h1M34 21.5h1M36 21.5h1M54 21.5h1M60 21.5h1M62 21.5h1M65 21.5h1M88 21.5h1M91 21.5h1M94 21.5h1M102 21.5h1M103 21.5h1M116 21.5h1M123 21.5h1M128 21.5h1M0 22.5h1M8 22.5h1M17 22.5h1M28 22.5h1M39 22.5h1M50 22.5h1M55 22.5h1M62 22.5h1M69 22.5h1M78 22.5h1M85 22.5h1M89 22.5h1M103 22.5h1M105 22.5h1M113 22.5h1M118 22.5h1M120 22.5h1M15 23.5h1M23 23.5h1M30 23.5h1M38 23.5h1M41 23.5h1M55 23.5h1M77 23.5h1M84 23.5h1M88 23.5h1M92 23.5h1M98 23.5h1M133 23.5h1M165 23.5h1M3 24.5h1M4 24.5h1M19 24.5h1M39 24.5h1M40 24.5h1M44 24.5h1M52 24.5h1M60 24.5h1M69 24.5h1M77 24.5h1M86 24.5h1M96 24.5h1M99 24.5h1M106 24.5h1M118 24.5h1M135 24.5h1M144 24.5h1M170 24.5h1M15 25.5h1M38 25.5h1M41 25.5h1M47 25.5h1M48 25.5h1M55 25.5h1M61 25.5h1M62 25.5h1M72 25.5h1M97 25.5h1M98 25.5h1M109 25.5h1M110 25.5h1M146 25.5h1M0 26.5h1M2 26.5h1M42 26.5h1M57 26.5h1M84 26.5h1M97 26.5h1M101 26.5h1M110 26.5h1M121 26.5h1M123 26.5h1M145 26.5h1M153 26.5h1M180 26.5h1M2 27.5h1M7 27.5h1M8 27.5h1M9 27.5h1M12 27.5h1M23 27.5h1M38 27.5h1M52 27.5h1M54 27.5h1M55 27.5h1M62 27.5h1M66 27.5h1M71 27.5h1M94 27.5h1M102 27.5h1M153 27.5h1M155 27.5h1M9 28.5h1M11 28.5h1M16 28.5h1M17 28.5h1M22 28.5h1M24 28.5h1M37 28.5h1M39 28.5h1M41 28.5h1M42 28.5h1M47 28.5h1M57 28.5h1M65 28.5h1M76 28.5h1M91 28.5h1M94 28.5h1M103 28.5h1M154 28.5h1M160 28.5h1M10 29.5h1M18 29.5h1M20 29.5h1M26 29.5h1M45 29.5h1M51 29.5h1M65 29.5h1M66 29.5h1M70 29.5h1M75 29.5h1M82 29.5h1M99 29.5h1"/><path stroke="#ecdcee" d="M11 0.5h1M52 0.5h1M102 0.5h1M131 0.5h1M136 0.5h1M137 0.5h1M140 0.5h1M141 0.5h1M167 0.5h1M15 1.5h1M47 1.5h1M72 1.5h1M86 1.5h1M96 1.5h1M103 1.5h1M124 1.5h1M144 1.5h1M22 2.5h1M106 2.5h1M112 2.5h1M118 2.5h1M138 2.5h1M154 2.5h1M199 2.5h1M202 2.5h1M65 3.5h1M73 3.5h1M90 3.5h1M104 3.5h1M114 3.5h1M120 3.5h1M136 3.5h1M137 3.5h1M150 3.5h1M151 3.5h1M153 3.5h1M155 3.5h1M168 3.5h1M186 3.5h1M201 3.5h1M12 4.5h1M58 4.5h1M72 4.5h1M90 4.5h1M116 4.5h1M155 4.5h1M163 4.5h1M179 4.5h1M185 4.5h1M191 4.5h1M218 4.5h1M222 4.5h1M18 5.5h1M43 5.5h1M51 5.5h1M76 5.5h1M105 5.5h1M107 5.5h1M118 5.5h1M129 5.5h1M130 5.5h1M133 5.5h1M136 5.5h1M144 5.5h1M153 5.5h1M168 5.5h1M192 5.5h1M203 5.5h1M18 6.5h1M31 6.5h1M73 6.5h1M122 6.5h1M137 6.5h1M165 6.5h1M176 6.5h1M186 6.5h1M19 7.5h1M49 7.5h1M58 7.5h1M59 7.5h1M81 7.5h1M104 7.5h1M105 7.5h1M107 7.5h1M111 7.5h1M151 7.5h1M169 7.5h1M172 7.5h1M186 7.5h1M12 8.5h1M19 8.5h1M41 8.5h1M69 8.5h1M73 8.5h1M76 8.5h1M93 8.5h1M120 8.5h1M121 8.5h1M154 8.5h1M179 8.5h1M180 8.5h1M210 8.5h1M11 9.5h1M17 9.5h1M52 9.5h1M58 9.5h1M63 9.5h1M68 9.5h1M76 9.5h1M93 9.5h1M99 9.5h1M125 9.5h1M136 9.5h1M150 9.5h1M152 9.5h1M153 9.5h1M160 9.5h1M164 9.5h1M12 10.5h1M17 10.5h1M22 10.5h1M93 10.5h1M96 10.5h1M105 10.5h1M111 10.5h1M115 10.5h1M123 10.5h1M133 10.5h1M137 10.5h1M157 10.5h1M177 10.5h1M178 10.5h1M179 10.5h1M15 11.5h1M32 11.5h1M47 11.5h1M57 11.5h1M64 11.5h1M86 11.5h1M88 11.5h1M93 11.5h1M96 11.5h1M114 11.5h1M159 11.5h1M162 11.5h1M225 11.5h1M18 12.5h1M62 12.5h1M114 12.5h1M120 12.5h1M136 12.5h1M138 12.5h1M142 12.5h1M150 12.5h1M165 12.5h1M182 12.5h1M193 12.5h1M216 12.5h1M222 12.5h1M16 13.5h1M30 13.5h1M73 13.5h1M109 13.5h1M138 13.5h1M178 13.5h1M180 13.5h1M190 13.5h1M191 13.5h1M218 13.5h1M4 14.5h1M11 14.5h1M12 14.5h1M41 14.5h1M62 14.5h1M71 14.5h1M99 14.5h1M101 14.5h1M110 14.5h1M164 14.5h1M173 14.5h1M190 14.5h1M15 15.5h1M31 15.5h1M32 15.5h1M34 15.5h1M35 15.5h1M36 15.5h1M37 15.5h1M43 15.5h1M47 15.5h1M58 15.5h1M66 15.5h1M70 15.5h1M71 15.5h1M80 15.5h1M81 15.5h1M95 15.5h1M106 15.5h1M109 15.5h1M114 15.5h1M115 15.5h1M122 15.5h1M126 15.5h1M129 15.5h1M147 15.5h1M156 15.5h1M177 15.5h1M199 15.5h1M0 16.5h1M43 16.5h1M46 16.5h1M56 16.5h1M70 16.5h1M82 16.5h1M83 16.5h1M100 16.5h1M111 16.5h1M112 16.5h1M120 16.5h1M124 16.5h1M126 16.5h1M140 16.5h1M152 16.5h1M9 17.5h1M24 17.5h1M29 17.5h1M44 17.5h1M48 17.5h1M59 17.5h1M60 17.5h1M63 17.5h1M67 17.5h1M70 17.5h1M78 17.5h1M79 17.5h1M80 17.5h1M81 17.5h1M86 17.5h1M89 17.5h1M106 17.5h1M113 17.5h1M114 17.5h1M115 17.5h1M116 17.5h1M130 17.5h1M131 17.5h1M140 17.5h1M146 17.5h1M149 17.5h1M157 17.5h1M216 17.5h1M0 18.5h1M18 18.5h1M29 18.5h1M41 18.5h1M45 18.5h1M46 18.5h1M69 18.5h1M75 18.5h1M84 18.5h1M88 18.5h1M103 18.5h1M106 18.5h1M108 18.5h1M115 18.5h1M121 18.5h1M134 18.5h1M144 18.5h1M149 18.5h1M150 18.5h1M162 18.5h1M172 18.5h1M207 18.5h1M14 19.5h1M16 19.5h1M23 19.5h1M24 19.5h1M42 19.5h1M43 19.5h1M45 19.5h1M49 19.5h1M69 19.5h1M71 19.5h1M72 19.5h1M84 19.5h1M104 19.5h1M127 19.5h1M128 19.5h1M129 19.5h1M130 19.5h1M138 19.5h1M153 19.5h1M174 19.5h1M182 19.5h1M8 20.5h1M12 20.5h1M21 20.5h1M27 20.5h1M34 20.5h1M49 20.5h1M51 20.5h1M62 20.5h1M66 20.5h1M69 20.5h1M81 20.5h1M84 20.5h1M87 20.5h1M101 20.5h1M102 20.5h1M103 20.5h1M112 20.5h1M116 20.5h1M117 20.5h1M121 20.5h1M124 20.5h1M132 20.5h1M133 20.5h1M135 20.5h1M8 21.5h1M14 21.5h1M21 21.5h1M52 21.5h1M76 21.5h1M106 21.5h1M113 21.5h1M121 21.5h1M126 21.5h1M129 21.5h1M23 22.5h1M25 22.5h1M33 22.5h1M38 22.5h1M40 22.5h1M51 22.5h1M63 22.5h1M72 22.5h1M80 22.5h1M83 22.5h1M90 22.5h1M91 22.5h1M92 22.5h1M94 22.5h1M104 22.5h1M116 22.5h1M121 22.5h1M139 22.5h1M148 22.5h1M152 22.5h1M163 22.5h1M186 22.5h1M6 23.5h1M7 23.5h1M9 23.5h1M17 23.5h1M31 23.5h1M33 23.5h1M34 23.5h1M39 23.5h1M44 23.5h1M46 23.5h1M47 23.5h1M52 23.5h1M68 23.5h1M69 23.5h1M75 23.5h1M79 23.5h1M90 23.5h1M104 23.5h1M107 23.5h1M119 23.5h1M132 23.5h1M142 23.5h1M155 23.5h1M16 24.5h1M21 24.5h1M28 24.5h1M32 24.5h1M43 24.5h1M54 24.5h1M73 24.5h1M81 24.5h1M89 24.5h1M93 24.5h1M104 24.5h1M115 24.5h1M122 24.5h1M162 24.5h1M166 24.5h1M180 24.5h1M4 25.5h1M6 25.5h1M7 25.5h1M20 25.5h1M24 25.5h1M26 25.5h1M32 25.5h1M35 25.5h1M64 25.5h1M68 25.5h1M69 25.5h1M75 25.5h1M79 25.5h1M91 25.5h1M105 25.5h1M125 25.5h1M130 25.5h1M133 25.5h1M17 26.5h1M20 26.5h1M27 26.5h1M28 26.5h1M40 26.5h1M46 26.5h1M67 26.5h1M68 26.5h1M69 26.5h1M71 26.5h1M72 26.5h1M75 26.5h1M92 26.5h1M94 26.5h1M108 26.5h1M113 26.5h1M115 26.5h1M116 26.5h1M134 26.5h1M142 26.5h1M144 26.5h1M149 26.5h1M151 26.5h1M157 26.5h1M163 26.5h1M165 26.5h1M176 26.5h1M3 27.5h1M5 27.5h1M11 27.5h1M16 27.5h1M25 27.5h1M32 27.5h1M36 27.5h1M37 27.5h1M41 27.5h1M48 27.5h1M58 27.5h1M65 27.5h1M69 27.5h1M73 27.5h1M75 27.5h1M82 27.5h1M88 27.5h1M107 27.5h1M116 27.5h1M130 27.5h1M132 27.5h1M141 27.5h1M164 27.5h1M4 28.5h1M6 28.5h1M30 28.5h1M32 28.5h1M35 28.5h1M38 28.5h1M45 28.5h1M51 28.5h1M52 28.5h1M71 28.5h1M82 28.5h1M92 28.5h1M96 28.5h1M112 28.5h1M121 28.5h1M128 28.5h1M130 28.5h1M141 28.5h1M142 28.5h1M195 28.5h1M210 28.5h1M0 29.5h1M21 29.5h1M37 29.5h1M42 29.5h1M43 29.5h1M53 29.5h1M55 29.5h1M56 29.5h1M74 29.5h1M80 29.5h1M86 29.5h1M102 29.5h1"/><path stroke="#faeef2" d="M9 0.5h1M17 0.5h1M35 0.5h1M40 0.5h1M41 0.5h1M45 0.5h1M83 0.5h1M86 0.5h1M88 0.5h1M110 0.5h1M120 0.5h1M122 0.5h1M126 0.5h1M134 0.5h1M138 0.5h1M145 0.5h1M147 0.5h1M178 0.5h1M182 0.5h1M16 1.5h1M18 1.5h1M59 1.5h1M68 1.5h1M101 1.5h1M109 1.5h1M112 1.5h1M130 1.5h1M138 1.5h1M140 1.5h1M188 1.5h1M62 2.5h1M115 2.5h1M160 2.5h1M161 2.5h1M170 2.5h1M190 2.5h1M207 2.5h1M47 3.5h1M55 3.5h1M60 3.5h1M74 3.5h1M91 3.5h1M111 3.5h1M115 3.5h1M146 3.5h1M160 3.5h1M161 3.5h1M172 3.5h1M177 3.5h1M191 3.5h1M16 4.5h1M61 4.5h1M95 4.5h1M98 4.5h1M112 4.5h1M145 4.5h1M146 4.5h1M157 4.5h1M165 4.5h1M166 4.5h1M168 4.5h1M169 4.5h1M174 4.5h1M186 4.5h1M200 4.5h1M202 4.5h1M16 5.5h1M47 5.5h1M54 5.5h1M64 5.5h1M67 5.5h1M73 5.5h1M84 5.5h1M88 5.5h1M90 5.5h1M114 5.5h1M123 5.5h1M134 5.5h1M138 5.5h1M139 5.5h1M162 5.5h1M163 5.5h1M180 5.5h1M182 5.5h1M5 6.5h1M12 6.5h1M26 6.5h1M28 6.5h1M37 6.5h1M52 6.5h1M59 6.5h1M61 6.5h1M72 6.5h1M94 6.5h1M99 6.5h1M118 6.5h1M120 6.5h1M130 6.5h1M132 6.5h1M163 6.5h1M172 6.5h1M46 7.5h1M63 7.5h1M72 7.5h1M86 7.5h1M92 7.5h1M99 7.5h1M115 7.5h1M124 7.5h1M128 7.5h1M142 7.5h1M3 8.5h1M11 8.5h1M40 8.5h1M43 8.5h1M61 8.5h1M71 8.5h1M83 8.5h1M85 8.5h1M100 8.5h1M109 8.5h1M112 8.5h1M115 8.5h1M127 8.5h1M133 8.5h1M178 8.5h1M188 8.5h1M191 8.5h1M193 8.5h1M209 8.5h1M40 9.5h1M46 9.5h1M48 9.5h1M59 9.5h1M62 9.5h1M114 9.5h1M118 9.5h1M135 9.5h1M140 9.5h1M145 9.5h1M148 9.5h1M161 9.5h1M167 9.5h1M179 9.5h1M180 9.5h1M185 9.5h1M202 9.5h1M36 10.5h1M43 10.5h1M49 10.5h1M50 10.5h1M55 10.5h1M62 10.5h1M63 10.5h1M100 10.5h1M103 10.5h1M143 10.5h1M154 10.5h1M159 10.5h1M164 10.5h1M191 10.5h1M19 11.5h1M23 11.5h1M26 11.5h1M46 11.5h1M48 11.5h1M65 11.5h1M66 11.5h1M72 11.5h1M76 11.5h1M98 11.5h1M100 11.5h1M115 11.5h1M116 11.5h1M126 11.5h1M142 11.5h1M150 11.5h1M157 11.5h1M172 11.5h1M12 12.5h1M40 12.5h1M46 12.5h1M47 12.5h1M55 12.5h1M58 12.5h1M59 12.5h1M79 12.5h1M91 12.5h1M95 12.5h1M96 12.5h1M102 12.5h1M109 12.5h1M145 12.5h1M151 12.5h1M162 12.5h1M180 12.5h1M183 12.5h1M36 13.5h1M59 13.5h1M63 13.5h1M67 13.5h1M72 13.5h1M87 13.5h1M111 13.5h1M117 13.5h1M126 13.5h1M133 13.5h1M149 13.5h1M150 13.5h1M152 13.5h1M167 13.5h1M168 13.5h1M170 13.5h1M171 13.5h1M196 13.5h1M211 13.5h1M31 14.5h1M44 14.5h1M48 14.5h1M53 14.5h1M59 14.5h1M73 14.5h1M80 14.5h1M113 14.5h1M125 14.5h1M133 14.5h1M138 14.5h1M148 14.5h1M155 14.5h1M157 14.5h1M161 14.5h1M186 14.5h1M62 15.5h1M67 15.5h1M72 15.5h1M74 15.5h1M78 15.5h1M99 15.5h1M103 15.5h1M105 15.5h1M107 15.5h1M112 15.5h1M120 15.5h1M125 15.5h1M136 15.5h1M139 15.5h1M150 15.5h1M183 15.5h1M194 15.5h1M196 15.5h1M54 16.5h1M59 16.5h1M63 16.5h1M64 16.5h1M69 16.5h1M72 16.5h1M75 16.5h1M87 16.5h1M90 16.5h1M91 16.5h1M99 16.5h1M105 16.5h1M109 16.5h1M110 16.5h1M128 16.5h1M132 16.5h1M135 16.5h1M190 16.5h1M2 17.5h1M26 17.5h1M47 17.5h1M62 17.5h1M92 17.5h1M96 17.5h1M98 17.5h1M110 17.5h1M112 17.5h1M119 17.5h1M122 17.5h1M134 17.5h1M136 17.5h1M150 17.5h1M154 17.5h1M162 17.5h1M165 17.5h1M170 17.5h1M176 17.5h1M7 18.5h1M16 18.5h1M25 18.5h1M37 18.5h1M57 18.5h1M61 18.5h1M63 18.5h1M64 18.5h1M65 18.5h1M91 18.5h1M93 18.5h1M96 18.5h1M112 18.5h1M117 18.5h1M132 18.5h1M151 18.5h1M155 18.5h1M167 18.5h1M174 18.5h1M187 18.5h1M205 18.5h1M216 18.5h1M9 19.5h1M21 19.5h1M40 19.5h1M46 19.5h1M47 19.5h1M48 19.5h1M59 19.5h1M63 19.5h1M74 19.5h1M83 19.5h1M95 19.5h1M96 19.5h1M110 19.5h1M116 19.5h1M144 19.5h1M149 19.5h1M154 19.5h1M163 19.5h1M165 19.5h1M167 19.5h1M177 19.5h1M181 19.5h1M209 19.5h1M25 20.5h1M31 20.5h1M33 20.5h1M52 20.5h1M63 20.5h1M64 20.5h1M68 20.5h1M76 20.5h1M86 20.5h1M100 20.5h1M126 20.5h1M129 20.5h1M138 20.5h1M145 20.5h1M160 20.5h1M168 20.5h1M211 20.5h1M5 21.5h1M25 21.5h1M41 21.5h1M46 21.5h1M49 21.5h1M61 21.5h1M63 21.5h1M68 21.5h1M71 21.5h1M75 21.5h1M83 21.5h1M87 21.5h1M95 21.5h1M107 21.5h1M112 21.5h1M117 21.5h1M124 21.5h1M132 21.5h1M142 21.5h1M156 21.5h1M180 21.5h1M186 21.5h1M210 21.5h1M12 22.5h1M30 22.5h1M35 22.5h1M44 22.5h1M61 22.5h1M65 22.5h1M71 22.5h1M73 22.5h1M75 22.5h1M82 22.5h1M110 22.5h1M114 22.5h1M115 22.5h1M129 22.5h1M133 22.5h1M149 22.5h1M155 22.5h1M20 23.5h1M24 23.5h1M29 23.5h1M37 23.5h1M54 23.5h1M59 23.5h1M63 23.5h1M64 23.5h1M66 23.5h1M70 23.5h1M74 23.5h1M76 23.5h1M82 23.5h1M83 23.5h1M89 23.5h1M93 23.5h1M94 23.5h1M103 23.5h1M109 23.5h1M114 23.5h1M115 23.5h1M124 23.5h1M125 23.5h1M138 23.5h1M144 23.5h1M23 24.5h1M49 24.5h1M63 24.5h1M66 24.5h1M80 24.5h1M90 24.5h1M92 24.5h1M102 24.5h1M103 24.5h1M105 24.5h1M109 24.5h1M114 24.5h1M120 24.5h1M139 24.5h1M147 24.5h1M161 24.5h1M202 24.5h1M0 25.5h1M3 25.5h1M28 25.5h1M36 25.5h1M49 25.5h1M51 25.5h1M70 25.5h1M71 25.5h1M81 25.5h1M90 25.5h1M96 25.5h1M108 25.5h1M140 25.5h1M157 25.5h1M162 25.5h1M38 26.5h1M44 26.5h1M48 26.5h1M49 26.5h1M52 26.5h1M76 26.5h1M89 26.5h1M95 26.5h1M104 26.5h1M109 26.5h1M112 26.5h1M135 26.5h1M137 26.5h1M150 26.5h1M155 26.5h1M181 26.5h1M200 26.5h1M213 26.5h1M31 27.5h1M33 27.5h1M42 27.5h1M46 27.5h1M50 27.5h1M56 27.5h1M57 27.5h1M70 27.5h1M72 27.5h1M92 27.5h1M96 27.5h1M97 27.5h1M99 27.5h1M103 27.5h1M105 27.5h1M115 27.5h1M118 27.5h1M120 27.5h1M122 27.5h1M124 27.5h1M125 27.5h1M136 27.5h1M152 27.5h1M159 27.5h1M168 27.5h1M1 28.5h1M5 28.5h1M8 28.5h1M12 28.5h1M23 28.5h1M33 28.5h1M34 28.5h1M43 28.5h1M48 28.5h1M50 28.5h1M58 28.5h1M59 28.5h1M62 28.5h1M79 28.5h1M86 28.5h1M87 28.5h1M97 28.5h1M102 28.5h1M107 28.5h1M108 28.5h1M110 28.5h1M111 28.5h1M120 28.5h1M122 28.5h1M124 28.5h1M135 28.5h1M138 28.5h1M146 28.5h1M157 28.5h1M174 28.5h1M184 28.5h1M188 28.5h1M189 28.5h1M202 28.5h1M218 28.5h1M7 29.5h1M15 29.5h1M22 29.5h1M44 29.5h1M49 29.5h1M50 29.5h1M52 29.5h1M60 29.5h1M63 29.5h1M69 29.5h1M71 29.5h1M84 29.5h1M110 29.5h1M119 29.5h1M145 29.5h1M154 29.5h1M167 29.5h1M176 29.5h1M221 29.5h1"/><path stroke="#f9e2e0" d="M16 0.5h1M24 0.5h1M34 0.5h1M36 0.5h1M38 0.5h1M46 0.5h1M47 0.5h1M65 0.5h1M71 0.5h1M72 0.5h1M77 0.5h1M84 0.5h1M87 0.5h1M93 0.5h1M96 0.5h1M106 0.5h1M108 0.5h1M109 0.5h1M128 0.5h1M133 0.5h1M139 0.5h1M144 0.5h1M156 0.5h1M163 0.5h1M3 1.5h1M4 1.5h1M33 1.5h1M36 1.5h1M61 1.5h1M67 1.5h1M105 1.5h1M108 1.5h1M115 1.5h1M116 1.5h1M117 1.5h1M123 1.5h1M125 1.5h1M136 1.5h1M150 1.5h1M191 1.5h1M88 2.5h1M91 2.5h1M93 2.5h1M96 2.5h1M119 2.5h1M120 2.5h1M131 2.5h1M135 2.5h1M155 2.5h1M166 2.5h1M174 2.5h1M177 2.5h1M180 2.5h1M183 2.5h1M225 2.5h1M0 3.5h1M11 3.5h1M18 3.5h1M33 3.5h1M46 3.5h1M57 3.5h1M99 3.5h1M119 3.5h1M121 3.5h1M135 3.5h1M143 3.5h1M156 3.5h1M158 3.5h1M159 3.5h1M165 3.5h1M4 4.5h1M23 4.5h1M65 4.5h1M67 4.5h1M86 4.5h1M96 4.5h1M115 4.5h1M119 4.5h1M159 4.5h1M167 4.5h1M188 4.5h1M206 4.5h1M23 5.5h1M40 5.5h1M48 5.5h1M56 5.5h1M59 5.5h1M63 5.5h1M74 5.5h1M80 5.5h1M81 5.5h1M91 5.5h1M99 5.5h1M111 5.5h1M152 5.5h1M164 5.5h1M172 5.5h1M184 5.5h1M9 6.5h1M22 6.5h1M38 6.5h1M44 6.5h1M100 6.5h1M107 6.5h1M119 6.5h1M129 6.5h1M138 6.5h1M141 6.5h1M159 6.5h1M164 6.5h1M167 6.5h1M170 6.5h1M178 6.5h1M181 6.5h1M190 6.5h1M28 7.5h1M43 7.5h1M44 7.5h1M67 7.5h1M69 7.5h1M70 7.5h1M85 7.5h1M89 7.5h1M91 7.5h1M93 7.5h1M109 7.5h1M113 7.5h1M121 7.5h1M125 7.5h1M130 7.5h1M160 7.5h1M162 7.5h1M165 7.5h1M0 8.5h1M9 8.5h1M15 8.5h1M32 8.5h1M35 8.5h1M45 8.5h1M47 8.5h1M55 8.5h1M62 8.5h1M67 8.5h1M68 8.5h1M84 8.5h1M86 8.5h1M97 8.5h1M104 8.5h1M105 8.5h1M107 8.5h1M113 8.5h1M123 8.5h1M131 8.5h1M134 8.5h1M163 8.5h1M170 8.5h1M186 8.5h1M9 9.5h1M12 9.5h1M21 9.5h1M24 9.5h1M30 9.5h1M36 9.5h1M37 9.5h1M45 9.5h1M49 9.5h1M67 9.5h1M72 9.5h1M95 9.5h1M98 9.5h1M131 9.5h1M141 9.5h1M142 9.5h1M165 9.5h1M186 9.5h1M31 10.5h1M32 10.5h1M46 10.5h1M48 10.5h1M52 10.5h1M61 10.5h1M77 10.5h1M79 10.5h1M91 10.5h1M113 10.5h1M116 10.5h1M120 10.5h1M125 10.5h1M127 10.5h1M136 10.5h1M139 10.5h1M155 10.5h1M184 10.5h1M12 11.5h1M16 11.5h1M17 11.5h1M25 11.5h1M68 11.5h1M99 11.5h1M120 11.5h1M124 11.5h1M132 11.5h1M133 11.5h1M134 11.5h1M149 11.5h1M177 11.5h1M14 12.5h1M21 12.5h1M25 12.5h1M35 12.5h1M37 12.5h1M41 12.5h1M44 12.5h1M50 12.5h1M52 12.5h1M53 12.5h1M57 12.5h1M61 12.5h1M63 12.5h1M75 12.5h1M84 12.5h1M85 12.5h1M104 12.5h1M108 12.5h1M111 12.5h1M121 12.5h1M123 12.5h1M133 12.5h1M147 12.5h1M153 12.5h1M156 12.5h1M161 12.5h1M164 12.5h1M34 13.5h1M37 13.5h1M50 13.5h1M58 13.5h1M61 13.5h1M68 13.5h1M86 13.5h1M94 13.5h1M99 13.5h1M103 13.5h1M106 13.5h1M107 13.5h1M113 13.5h1M115 13.5h1M120 13.5h1M122 13.5h1M144 13.5h1M157 13.5h1M176 13.5h1M184 13.5h1M8 14.5h1M17 14.5h1M18 14.5h1M23 14.5h1M26 14.5h1M30 14.5h1M35 14.5h1M38 14.5h1M46 14.5h1M58 14.5h1M65 14.5h1M68 14.5h1M70 14.5h1M72 14.5h1M77 14.5h1M78 14.5h1M83 14.5h1M93 14.5h1M96 14.5h1M121 14.5h1M127 14.5h1M128 14.5h1M131 14.5h1M140 14.5h1M153 14.5h1M160 14.5h1M201 14.5h1M207 14.5h1M2 15.5h1M88 15.5h1M102 15.5h1M108 15.5h1M113 15.5h1M119 15.5h1M121 15.5h1M124 15.5h1M128 15.5h1M132 15.5h1M133 15.5h1M134 15.5h1M149 15.5h1M160 15.5h1M186 15.5h1M192 15.5h1M213 15.5h1M41 16.5h1M42 16.5h1M44 16.5h1M50 16.5h1M68 16.5h1M73 16.5h1M76 16.5h1M78 16.5h1M81 16.5h1M92 16.5h1M95 16.5h1M102 16.5h1M103 16.5h1M106 16.5h1M108 16.5h1M114 16.5h1M115 16.5h1M133 16.5h1M134 16.5h1M151 16.5h1M154 16.5h1M179 16.5h1M186 16.5h1M187 16.5h1M206 16.5h1M214 16.5h1M45 17.5h1M50 17.5h1M54 17.5h1M93 17.5h1M101 17.5h1M102 17.5h1M107 17.5h1M111 17.5h1M121 17.5h1M128 17.5h1M132 17.5h1M145 17.5h1M147 17.5h1M156 17.5h1M159 17.5h1M164 17.5h1M173 17.5h1M189 17.5h1M220 17.5h1M52 18.5h1M59 18.5h1M60 18.5h1M62 18.5h1M68 18.5h1M72 18.5h1M100 18.5h1M109 18.5h1M130 18.5h1M142 18.5h1M147 18.5h1M165 18.5h1M168 18.5h1M184 18.5h1M39 19.5h1M41 19.5h1M57 19.5h1M68 19.5h1M75 19.5h1M76 19.5h1M85 19.5h1M90 19.5h1M91 19.5h1M115 19.5h1M134 19.5h1M137 19.5h1M140 19.5h1M147 19.5h1M155 19.5h1M178 19.5h1M186 19.5h1M16 20.5h1M26 20.5h1M57 20.5h1M77 20.5h1M93 20.5h1M107 20.5h1M109 20.5h1M110 20.5h1M123 20.5h1M154 20.5h1M172 20.5h1M181 20.5h1M12 21.5h1M17 21.5h1M47 21.5h1M72 21.5h1M86 21.5h1M96 21.5h1M101 21.5h1M105 21.5h1M115 21.5h1M125 21.5h1M146 21.5h1M152 21.5h1M170 21.5h1M172 21.5h1M178 21.5h1M13 22.5h1M37 22.5h1M43 22.5h1M96 22.5h1M97 22.5h1M107 22.5h1M111 22.5h1M126 22.5h1M130 22.5h1M142 22.5h1M154 22.5h1M157 22.5h1M177 22.5h1M191 22.5h1M10 23.5h1M32 23.5h1M45 23.5h1M49 23.5h1M60 23.5h1M62 23.5h1M65 23.5h1M67 23.5h1M72 23.5h1M86 23.5h1M91 23.5h1M99 23.5h1M111 23.5h1M137 23.5h1M140 23.5h1M143 23.5h1M145 23.5h1M149 23.5h1M153 23.5h1M157 23.5h1M161 23.5h1M167 23.5h1M26 24.5h1M38 24.5h1M46 24.5h1M62 24.5h1M65 24.5h1M71 24.5h1M87 24.5h1M111 24.5h1M127 24.5h1M130 24.5h1M132 24.5h1M138 24.5h1M154 24.5h1M169 24.5h1M184 24.5h1M188 24.5h1M210 24.5h1M18 25.5h1M22 25.5h1M40 25.5h1M54 25.5h1M57 25.5h1M63 25.5h1M74 25.5h1M76 25.5h1M80 25.5h1M89 25.5h1M95 25.5h1M99 25.5h1M100 25.5h1M104 25.5h1M111 25.5h1M113 25.5h1M115 25.5h1M118 25.5h1M121 25.5h1M124 25.5h1M128 25.5h1M139 25.5h1M141 25.5h1M147 25.5h1M151 25.5h1M152 25.5h1M158 25.5h1M165 25.5h1M185 25.5h1M22 26.5h1M63 26.5h1M77 26.5h1M82 26.5h1M83 26.5h1M99 26.5h1M102 26.5h1M114 26.5h1M125 26.5h1M129 26.5h1M133 26.5h1M148 26.5h1M152 26.5h1M160 26.5h1M179 26.5h1M1 27.5h1M19 27.5h1M27 27.5h1M29 27.5h1M40 27.5h1M60 27.5h1M63 27.5h1M77 27.5h1M87 27.5h1M119 27.5h1M128 27.5h1M133 27.5h1M134 27.5h1M135 27.5h1M143 27.5h1M10 28.5h1M25 28.5h1M26 28.5h1M27 28.5h1M28 28.5h1M36 28.5h1M64 28.5h1M78 28.5h1M88 28.5h1M90 28.5h1M100 28.5h1M105 28.5h1M116 28.5h1M125 28.5h1M134 28.5h1M136 28.5h1M145 28.5h1M152 28.5h1M164 28.5h1M169 28.5h1M176 28.5h1M183 28.5h1M191 28.5h1M201 28.5h1M209 28.5h1M31 29.5h1M39 29.5h1M40 29.5h1M62 29.5h1M64 29.5h1M76 29.5h1M88 29.5h1M89 29.5h1M94 29.5h1M112 29.5h1M117 29.5h1M123 29.5h1M134 29.5h1M138 29.5h1M140 29.5h1M149 29.5h1M160 29.5h1M175 29.5h1M190 29.5h1"/><path stroke="#f8d6cf" d="M10 0.5h1M13 0.5h1M23 0.5h1M27 0.5h1M31 0.5h1M74 0.5h1M75 0.5h1M107 0.5h1M112 0.5h1M123 0.5h1M130 0.5h1M152 0.5h1M12 1.5h1M17 1.5h1M21 1.5h1M32 1.5h1M43 1.5h1M48 1.5h1M64 1.5h1M79 1.5h1M107 1.5h1M118 1.5h1M122 1.5h1M131 1.5h1M134 1.5h1M135 1.5h1M137 1.5h1M147 1.5h1M149 1.5h1M162 1.5h1M10 2.5h1M47 2.5h1M67 2.5h1M83 2.5h1M86 2.5h1M103 2.5h1M111 2.5h1M117 2.5h1M123 2.5h1M126 2.5h1M136 2.5h1M140 2.5h1M150 2.5h1M165 2.5h1M169 2.5h1M184 2.5h1M186 2.5h1M17 3.5h1M24 3.5h1M26 3.5h1M30 3.5h1M43 3.5h1M63 3.5h1M67 3.5h1M68 3.5h1M72 3.5h1M84 3.5h1M95 3.5h1M98 3.5h1M101 3.5h1M108 3.5h1M117 3.5h1M126 3.5h1M140 3.5h1M152 3.5h1M24 4.5h1M37 4.5h1M47 4.5h1M49 4.5h1M52 4.5h1M78 4.5h1M93 4.5h1M99 4.5h1M103 4.5h1M121 4.5h1M126 4.5h1M134 4.5h1M140 4.5h1M156 4.5h1M161 4.5h1M180 4.5h1M0 5.5h1M2 5.5h1M5 5.5h1M21 5.5h1M30 5.5h1M31 5.5h1M35 5.5h1M52 5.5h1M58 5.5h1M62 5.5h1M65 5.5h1M66 5.5h1M69 5.5h1M92 5.5h1M104 5.5h1M116 5.5h1M125 5.5h1M127 5.5h1M145 5.5h1M146 5.5h1M157 5.5h1M183 5.5h1M3 6.5h1M4 6.5h1M7 6.5h1M10 6.5h1M15 6.5h1M23 6.5h1M32 6.5h1M43 6.5h1M48 6.5h1M50 6.5h1M53 6.5h1M63 6.5h1M79 6.5h1M84 6.5h1M90 6.5h1M109 6.5h1M113 6.5h1M115 6.5h1M135 6.5h1M136 6.5h1M151 6.5h1M155 6.5h1M168 6.5h1M179 6.5h1M180 6.5h1M191 6.5h1M3 7.5h1M5 7.5h1M10 7.5h1M14 7.5h1M20 7.5h1M22 7.5h1M30 7.5h1M31 7.5h1M40 7.5h1M41 7.5h1M47 7.5h1M62 7.5h1M68 7.5h1M88 7.5h1M106 7.5h1M110 7.5h1M116 7.5h1M122 7.5h1M138 7.5h1M141 7.5h1M146 7.5h1M164 7.5h1M170 7.5h1M1 8.5h1M5 8.5h1M16 8.5h1M18 8.5h1M26 8.5h1M28 8.5h1M36 8.5h1M37 8.5h1M46 8.5h1M54 8.5h1M60 8.5h1M63 8.5h1M64 8.5h1M65 8.5h1M75 8.5h1M78 8.5h1M117 8.5h1M118 8.5h1M122 8.5h1M124 8.5h1M128 8.5h1M129 8.5h1M137 8.5h1M138 8.5h1M157 8.5h1M160 8.5h1M168 8.5h1M176 8.5h1M18 9.5h1M20 9.5h1M32 9.5h1M43 9.5h1M44 9.5h1M51 9.5h1M64 9.5h1M73 9.5h1M74 9.5h1M75 9.5h1M91 9.5h1M92 9.5h1M100 9.5h1M104 9.5h1M112 9.5h1M115 9.5h1M119 9.5h1M122 9.5h1M134 9.5h1M155 9.5h1M172 9.5h1M10 10.5h1M15 10.5h1M23 10.5h1M26 10.5h1M27 10.5h1M37 10.5h1M58 10.5h1M64 10.5h1M67 10.5h1M75 10.5h1M86 10.5h1M89 10.5h1M110 10.5h1M118 10.5h1M119 10.5h1M124 10.5h1M128 10.5h1M130 10.5h1M134 10.5h1M135 10.5h1M142 10.5h1M145 10.5h1M146 10.5h1M160 10.5h1M3 11.5h1M11 11.5h1M18 11.5h1M21 11.5h1M22 11.5h1M40 11.5h1M55 11.5h1M58 11.5h1M59 11.5h1M61 11.5h1M70 11.5h1M87 11.5h1M94 11.5h1M108 11.5h1M112 11.5h1M117 11.5h1M127 11.5h1M129 11.5h1M131 11.5h1M147 11.5h1M191 11.5h1M13 12.5h1M17 12.5h1M19 12.5h1M23 12.5h1M24 12.5h1M28 12.5h1M32 12.5h1M68 12.5h1M73 12.5h1M89 12.5h1M90 12.5h1M93 12.5h1M106 12.5h1M110 12.5h1M118 12.5h1M125 12.5h1M134 12.5h1M135 12.5h1M141 12.5h1M158 12.5h1M4 13.5h1M17 13.5h1M43 13.5h1M44 13.5h1M46 13.5h1M48 13.5h1M49 13.5h1M51 13.5h1M52 13.5h1M76 13.5h1M78 13.5h1M125 13.5h1M145 13.5h1M151 13.5h1M156 13.5h1M165 13.5h1M185 13.5h1M0 14.5h1M2 14.5h1M14 14.5h1M16 14.5h1M19 14.5h1M20 14.5h1M21 14.5h1M47 14.5h1M50 14.5h1M51 14.5h1M55 14.5h1M57 14.5h1M60 14.5h1M67 14.5h1M69 14.5h1M79 14.5h1M98 14.5h1M103 14.5h1M105 14.5h1M109 14.5h1M134 14.5h1M135 14.5h1M146 14.5h1M147 14.5h1M51 15.5h1M54 15.5h1M55 15.5h1M61 15.5h1M86 15.5h1M89 15.5h1M110 15.5h1M117 15.5h1M127 15.5h1M135 15.5h1M144 15.5h1M148 15.5h1M165 15.5h1M167 15.5h1M178 15.5h1M188 15.5h1M211 15.5h1M40 16.5h1M74 16.5h1M79 16.5h1M89 16.5h1M93 16.5h1M96 16.5h1M97 16.5h1M117 16.5h1M127 16.5h1M129 16.5h1M131 16.5h1M136 16.5h1M145 16.5h1M148 16.5h1M150 16.5h1M159 16.5h1M161 16.5h1M171 16.5h1M172 16.5h1M185 16.5h1M189 16.5h1M61 17.5h1M69 17.5h1M75 17.5h1M100 17.5h1M104 17.5h1M123 17.5h1M133 17.5h1M138 17.5h1M151 17.5h1M155 17.5h1M163 17.5h1M168 17.5h1M174 17.5h1M184 17.5h1M206 17.5h1M215 17.5h1M22 18.5h1M43 18.5h1M56 18.5h1M67 18.5h1M77 18.5h1M102 18.5h1M104 18.5h1M107 18.5h1M111 18.5h1M116 18.5h1M123 18.5h1M126 18.5h1M131 18.5h1M135 18.5h1M139 18.5h1M146 18.5h1M148 18.5h1M157 18.5h1M35 19.5h1M44 19.5h1M64 19.5h1M77 19.5h1M99 19.5h1M111 19.5h1M119 19.5h1M121 19.5h1M145 19.5h1M157 19.5h1M159 19.5h1M160 19.5h1M164 19.5h1M172 19.5h1M206 19.5h1M210 19.5h1M43 20.5h1M65 20.5h1M75 20.5h1M85 20.5h1M94 20.5h1M118 20.5h1M120 20.5h1M122 20.5h1M125 20.5h1M131 20.5h1M139 20.5h1M142 20.5h1M148 20.5h1M149 20.5h1M151 20.5h1M155 20.5h1M165 20.5h1M169 20.5h1M186 20.5h1M187 20.5h1M200 20.5h1M210 20.5h1M51 21.5h1M64 21.5h1M77 21.5h1M80 21.5h1M90 21.5h1M118 21.5h1M130 21.5h1M131 21.5h1M138 21.5h1M140 21.5h1M157 21.5h1M159 21.5h1M160 21.5h1M175 21.5h1M184 21.5h1M196 21.5h1M206 21.5h1M27 22.5h1M49 22.5h1M58 22.5h1M76 22.5h1M77 22.5h1M86 22.5h1M101 22.5h1M102 22.5h1M117 22.5h1M134 22.5h1M140 22.5h1M145 22.5h1M150 22.5h1M153 22.5h1M156 22.5h1M162 22.5h1M164 22.5h1M8 23.5h1M51 23.5h1M58 23.5h1M61 23.5h1M78 23.5h1M97 23.5h1M101 23.5h1M106 23.5h1M112 23.5h1M117 23.5h1M118 23.5h1M122 23.5h1M127 23.5h1M134 23.5h1M135 23.5h1M152 23.5h1M159 23.5h1M170 23.5h1M178 23.5h1M184 23.5h1M209 23.5h1M210 23.5h1M61 24.5h1M75 24.5h1M78 24.5h1M84 24.5h1M85 24.5h1M101 24.5h1M110 24.5h1M125 24.5h1M137 24.5h1M142 24.5h1M143 24.5h1M148 24.5h1M156 24.5h1M164 24.5h1M167 24.5h1M172 24.5h1M179 24.5h1M31 25.5h1M43 25.5h1M50 25.5h1M58 25.5h1M86 25.5h1M93 25.5h1M101 25.5h1M102 25.5h1M106 25.5h1M116 25.5h1M126 25.5h1M135 25.5h1M137 25.5h1M142 25.5h1M143 25.5h1M148 25.5h1M149 25.5h1M160 25.5h1M186 25.5h1M194 25.5h1M51 26.5h1M88 26.5h1M96 26.5h1M111 26.5h1M130 26.5h1M131 26.5h1M136 26.5h1M162 26.5h1M166 26.5h1M177 26.5h1M26 27.5h1M35 27.5h1M47 27.5h1M49 27.5h1M67 27.5h1M74 27.5h1M76 27.5h1M78 27.5h1M83 27.5h1M89 27.5h1M98 27.5h1M100 27.5h1M101 27.5h1M109 27.5h1M111 27.5h1M114 27.5h1M123 27.5h1M142 27.5h1M148 27.5h1M150 27.5h1M160 27.5h1M175 27.5h1M188 27.5h1M228 27.5h1M0 28.5h1M7 28.5h1M31 28.5h1M61 28.5h1M81 28.5h1M89 28.5h1M109 28.5h1M113 28.5h1M114 28.5h1M118 28.5h1M139 28.5h1M144 28.5h1M147 28.5h1M151 28.5h1M153 28.5h1M155 28.5h1M163 28.5h1M173 28.5h1M192 28.5h1M196 28.5h1M233 28.5h1M3 29.5h1M33 29.5h1M34 29.5h1M36 29.5h1M54 29.5h1M68 29.5h1M73 29.5h1M87 29.5h1M90 29.5h1M100 29.5h1M103 29.5h1M111 29.5h1M120 29.5h1M121 29.5h1M130 29.5h1M131 29.5h1M132 29.5h1M159 29.5h1M161 29.5h1"/><path stroke="#f8cabe" d="M3 0.5h1M7 0.5h1M12 0.5h1M18 0.5h1M25 0.5h1M28 0.5h1M33 0.5h1M39 0.5h1M42 0.5h1M49 0.5h1M50 0.5h1M54 0.5h1M61 0.5h1M63 0.5h1M66 0.5h1M73 0.5h1M76 0.5h1M78 0.5h1M79 0.5h1M81 0.5h1M90 0.5h1M91 0.5h1M94 0.5h1M101 0.5h1M124 0.5h1M127 0.5h1M129 0.5h1M9 1.5h1M23 1.5h1M35 1.5h1M37 1.5h1M38 1.5h1M52 1.5h1M65 1.5h1M75 1.5h1M76 1.5h1M81 1.5h1M92 1.5h1M94 1.5h1M113 1.5h1M120 1.5h1M121 1.5h1M126 1.5h1M128 1.5h1M139 1.5h1M152 1.5h1M30 2.5h1M31 2.5h1M41 2.5h1M46 2.5h1M52 2.5h1M53 2.5h1M63 2.5h1M72 2.5h1M76 2.5h1M116 2.5h1M122 2.5h1M124 2.5h1M132 2.5h1M143 2.5h1M148 2.5h1M157 2.5h1M163 2.5h1M164 2.5h1M193 2.5h1M3 3.5h1M16 3.5h1M19 3.5h1M21 3.5h1M22 3.5h1M36 3.5h1M37 3.5h1M49 3.5h1M50 3.5h1M69 3.5h1M75 3.5h1M76 3.5h1M106 3.5h1M109 3.5h1M123 3.5h1M127 3.5h1M129 3.5h1M134 3.5h1M147 3.5h1M149 3.5h1M163 3.5h1M169 3.5h1M176 3.5h1M180 3.5h1M6 4.5h1M9 4.5h1M22 4.5h1M26 4.5h1M30 4.5h1M31 4.5h1M40 4.5h1M42 4.5h1M45 4.5h1M46 4.5h1M73 4.5h1M79 4.5h1M80 4.5h1M81 4.5h1M117 4.5h1M123 4.5h1M132 4.5h1M133 4.5h1M139 4.5h1M152 4.5h1M3 5.5h1M4 5.5h1M7 5.5h1M10 5.5h1M17 5.5h1M20 5.5h1M34 5.5h1M37 5.5h1M38 5.5h1M61 5.5h1M79 5.5h1M89 5.5h1M100 5.5h1M109 5.5h1M115 5.5h1M121 5.5h1M126 5.5h1M142 5.5h1M150 5.5h1M155 5.5h1M2 6.5h1M16 6.5h1M36 6.5h1M40 6.5h1M46 6.5h1M47 6.5h1M64 6.5h1M67 6.5h1M68 6.5h1M71 6.5h1M76 6.5h1M78 6.5h1M80 6.5h1M82 6.5h1M91 6.5h1M96 6.5h1M98 6.5h1M114 6.5h1M126 6.5h1M127 6.5h1M139 6.5h1M140 6.5h1M142 6.5h1M146 6.5h1M147 6.5h1M0 7.5h1M33 7.5h1M36 7.5h1M38 7.5h1M51 7.5h1M66 7.5h1M74 7.5h1M97 7.5h1M102 7.5h1M103 7.5h1M119 7.5h1M126 7.5h1M127 7.5h1M131 7.5h1M145 7.5h1M150 7.5h1M6 8.5h1M17 8.5h1M20 8.5h1M24 8.5h1M25 8.5h1M39 8.5h1M44 8.5h1M53 8.5h1M57 8.5h1M66 8.5h1M74 8.5h1M77 8.5h1M79 8.5h1M94 8.5h1M99 8.5h1M114 8.5h1M132 8.5h1M139 8.5h1M149 8.5h1M152 8.5h1M4 9.5h1M7 9.5h1M15 9.5h1M23 9.5h1M26 9.5h1M35 9.5h1M42 9.5h1M56 9.5h1M78 9.5h1M79 9.5h1M80 9.5h1M81 9.5h1M83 9.5h1M87 9.5h1M123 9.5h1M126 9.5h1M132 9.5h1M133 9.5h1M151 9.5h1M168 9.5h1M170 9.5h1M5 10.5h1M6 10.5h1M8 10.5h1M21 10.5h1M24 10.5h1M25 10.5h1M28 10.5h1M38 10.5h1M51 10.5h1M53 10.5h1M59 10.5h1M65 10.5h1M66 10.5h1M74 10.5h1M76 10.5h1M83 10.5h1M98 10.5h1M107 10.5h1M132 10.5h1M138 10.5h1M153 10.5h1M2 11.5h1M4 11.5h1M5 11.5h1M8 11.5h1M9 11.5h1M14 11.5h1M31 11.5h1M39 11.5h1M42 11.5h1M43 11.5h1M44 11.5h1M52 11.5h1M62 11.5h1M63 11.5h1M81 11.5h1M85 11.5h1M92 11.5h1M97 11.5h1M101 11.5h1M125 11.5h1M140 11.5h1M155 11.5h1M160 11.5h1M170 11.5h1M2 12.5h1M8 12.5h1M9 12.5h1M16 12.5h1M29 12.5h1M31 12.5h1M34 12.5h1M38 12.5h1M42 12.5h1M48 12.5h1M49 12.5h1M65 12.5h1M67 12.5h1M71 12.5h1M86 12.5h1M98 12.5h1M103 12.5h1M115 12.5h1M128 12.5h1M132 12.5h1M146 12.5h1M149 12.5h1M2 13.5h1M5 13.5h1M11 13.5h1M12 13.5h1M22 13.5h1M23 13.5h1M31 13.5h1M47 13.5h1M64 13.5h1M65 13.5h1M74 13.5h1M75 13.5h1M82 13.5h1M90 13.5h1M93 13.5h1M98 13.5h1M114 13.5h1M134 13.5h1M135 13.5h1M146 13.5h1M162 13.5h1M7 14.5h1M9 14.5h1M36 14.5h1M37 14.5h1M61 14.5h1M82 14.5h1M85 14.5h1M94 14.5h1M117 14.5h1M122 14.5h1M126 14.5h1M139 14.5h1M159 14.5h1M172 14.5h1M76 15.5h1M84 15.5h1M87 15.5h1M91 15.5h1M118 15.5h1M141 15.5h1M170 15.5h1M171 15.5h1M172 15.5h1M198 15.5h1M202 15.5h1M206 15.5h1M222 15.5h1M35 16.5h1M37 16.5h1M38 16.5h1M48 16.5h1M107 16.5h1M118 16.5h1M125 16.5h1M137 16.5h1M142 16.5h1M144 16.5h1M153 16.5h1M156 16.5h1M164 16.5h1M169 16.5h1M180 16.5h1M202 16.5h1M203 16.5h1M207 16.5h1M225 16.5h1M37 17.5h1M65 17.5h1M73 17.5h1M85 17.5h1M90 17.5h1M103 17.5h1M129 17.5h1M142 17.5h1M144 17.5h1M152 17.5h1M166 17.5h1M175 17.5h1M181 17.5h1M185 17.5h1M218 17.5h1M28 18.5h1M47 18.5h1M73 18.5h1M79 18.5h1M94 18.5h1M119 18.5h1M140 18.5h1M152 18.5h1M153 18.5h1M160 18.5h1M163 18.5h1M180 18.5h1M189 18.5h1M56 19.5h1M94 19.5h1M102 19.5h1M105 19.5h1M113 19.5h1M131 19.5h1M142 19.5h1M146 19.5h1M170 19.5h1M173 19.5h1M189 19.5h1M196 19.5h1M5 20.5h1M37 20.5h1M46 20.5h1M67 20.5h1M80 20.5h1M92 20.5h1M108 20.5h1M113 20.5h1M119 20.5h1M128 20.5h1M130 20.5h1M136 20.5h1M140 20.5h1M146 20.5h1M174 20.5h1M183 20.5h1M202 20.5h1M55 21.5h1M92 21.5h1M104 21.5h1M109 21.5h1M120 21.5h1M149 21.5h1M151 21.5h1M174 21.5h1M177 21.5h1M187 21.5h1M202 21.5h1M204 21.5h1M205 21.5h1M47 22.5h1M53 22.5h1M67 22.5h1M70 22.5h1M88 22.5h1M106 22.5h1M124 22.5h1M125 22.5h1M128 22.5h1M131 22.5h1M135 22.5h1M137 22.5h1M146 22.5h1M147 22.5h1M173 22.5h1M180 22.5h1M183 22.5h1M199 22.5h1M202 22.5h1M209 22.5h1M42 23.5h1M57 23.5h1M73 23.5h1M100 23.5h1M105 23.5h1M123 23.5h1M139 23.5h1M151 23.5h1M154 23.5h1M162 23.5h1M172 23.5h1M196 23.5h1M218 23.5h1M231 23.5h1M116 24.5h1M119 24.5h1M129 24.5h1M133 24.5h1M136 24.5h1M140 24.5h1M141 24.5h1M149 24.5h1M153 24.5h1M157 24.5h1M158 24.5h1M159 24.5h1M171 24.5h1M178 24.5h1M183 24.5h1M201 24.5h1M211 24.5h1M233 24.5h1M16 25.5h1M33 25.5h1M65 25.5h1M67 25.5h1M88 25.5h1M92 25.5h1M136 25.5h1M138 25.5h1M150 25.5h1M153 25.5h1M154 25.5h1M161 25.5h1M163 25.5h1M164 25.5h1M170 25.5h1M171 25.5h1M183 25.5h1M213 25.5h1M41 26.5h1M55 26.5h1M86 26.5h1M87 26.5h1M91 26.5h1M117 26.5h1M119 26.5h1M126 26.5h1M154 26.5h1M159 26.5h1M164 26.5h1M167 26.5h1M168 26.5h1M173 26.5h1M174 26.5h1M183 26.5h1M191 26.5h1M198 26.5h1M202 26.5h1M203 26.5h1M217 26.5h1M68 27.5h1M106 27.5h1M110 27.5h1M126 27.5h1M127 27.5h1M129 27.5h1M140 27.5h1M151 27.5h1M156 27.5h1M172 27.5h1M173 27.5h1M176 27.5h1M181 27.5h1M187 27.5h1M206 27.5h1M220 27.5h1M3 28.5h1M13 28.5h1M18 28.5h1M21 28.5h1M49 28.5h1M53 28.5h1M55 28.5h1M63 28.5h1M66 28.5h1M72 28.5h1M77 28.5h1M101 28.5h1M127 28.5h1M131 28.5h1M156 28.5h1M161 28.5h1M162 28.5h1M165 28.5h1M168 28.5h1M208 28.5h1M220 28.5h1M228 28.5h1M234 28.5h1M27 29.5h1M38 29.5h1M46 29.5h1M79 29.5h1M91 29.5h1M93 29.5h1M96 29.5h1M98 29.5h1M108 29.5h1M109 29.5h1M115 29.5h1M124 29.5h1M125 29.5h1M126 29.5h1M128 29.5h1M129 29.5h1M135 29.5h1M136 29.5h1M144 29.5h1M147 29.5h1M152 29.5h1M153 29.5h1M158 29.5h1M188 29.5h1M189 29.5h1"/><path stroke="#f7beac" d="M1 0.5h1M4 0.5h1M14 0.5h1M15 0.5h1M20 0.5h1M21 0.5h1M30 0.5h1M32 0.5h1M37 0.5h1M44 0.5h1M58 0.5h1M59 0.5h1M64 0.5h1M67 0.5h1M69 0.5h1M80 0.5h1M82 0.5h1M97 0.5h1M98 0.5h1M132 0.5h1M0 1.5h1M5 1.5h1M13 1.5h1M19 1.5h1M26 1.5h1M31 1.5h1M34 1.5h1M40 1.5h1M41 1.5h1M46 1.5h1M49 1.5h1M57 1.5h1M62 1.5h1M73 1.5h1M77 1.5h1M82 1.5h1M85 1.5h1M88 1.5h1M106 1.5h1M114 1.5h1M127 1.5h1M141 1.5h1M0 2.5h1M3 2.5h1M5 2.5h1M9 2.5h1M16 2.5h1M20 2.5h1M40 2.5h1M44 2.5h1M61 2.5h1M73 2.5h1M74 2.5h1M75 2.5h1M80 2.5h1M81 2.5h1M92 2.5h1M99 2.5h1M107 2.5h1M108 2.5h1M113 2.5h1M125 2.5h1M127 2.5h1M137 2.5h1M146 2.5h1M151 2.5h1M152 2.5h1M162 2.5h1M188 2.5h1M4 3.5h1M6 3.5h1M20 3.5h1M31 3.5h1M34 3.5h1M44 3.5h1M48 3.5h1M51 3.5h1M52 3.5h1M61 3.5h1M64 3.5h1M71 3.5h1M78 3.5h1M79 3.5h1M86 3.5h1M100 3.5h1M107 3.5h1M125 3.5h1M131 3.5h1M132 3.5h1M141 3.5h1M144 3.5h1M164 3.5h1M3 4.5h1M5 4.5h1M17 4.5h1M25 4.5h1M54 4.5h1M62 4.5h1M63 4.5h1M69 4.5h1M71 4.5h1M77 4.5h1M84 4.5h1M105 4.5h1M107 4.5h1M111 4.5h1M113 4.5h1M122 4.5h1M135 4.5h1M137 4.5h1M138 4.5h1M151 4.5h1M8 5.5h1M14 5.5h1M19 5.5h1M27 5.5h1M33 5.5h1M36 5.5h1M55 5.5h1M60 5.5h1M71 5.5h1M83 5.5h1M117 5.5h1M124 5.5h1M160 5.5h1M17 6.5h1M24 6.5h1M27 6.5h1M30 6.5h1M39 6.5h1M41 6.5h1M62 6.5h1M69 6.5h1M70 6.5h1M74 6.5h1M81 6.5h1M89 6.5h1M92 6.5h1M103 6.5h1M121 6.5h1M125 6.5h1M133 6.5h1M154 6.5h1M4 7.5h1M8 7.5h1M12 7.5h1M16 7.5h1M17 7.5h1M18 7.5h1M32 7.5h1M45 7.5h1M53 7.5h1M54 7.5h1M56 7.5h1M57 7.5h1M61 7.5h1M64 7.5h1M75 7.5h1M94 7.5h1M95 7.5h1M114 7.5h1M117 7.5h1M120 7.5h1M133 7.5h1M147 7.5h1M149 7.5h1M159 7.5h1M14 8.5h1M21 8.5h1M31 8.5h1M33 8.5h1M38 8.5h1M49 8.5h1M50 8.5h1M51 8.5h1M70 8.5h1M80 8.5h1M130 8.5h1M135 8.5h1M136 8.5h1M8 9.5h1M10 9.5h1M16 9.5h1M28 9.5h1M29 9.5h1M38 9.5h1M41 9.5h1M47 9.5h1M61 9.5h1M69 9.5h1M71 9.5h1M86 9.5h1M101 9.5h1M103 9.5h1M108 9.5h1M116 9.5h1M139 9.5h1M146 9.5h1M2 10.5h1M3 10.5h1M4 10.5h1M16 10.5h1M19 10.5h1M33 10.5h1M40 10.5h1M45 10.5h1M47 10.5h1M57 10.5h1M71 10.5h1M72 10.5h1M80 10.5h1M84 10.5h1M88 10.5h1M126 10.5h1M141 10.5h1M0 11.5h1M1 11.5h1M7 11.5h1M24 11.5h1M35 11.5h1M37 11.5h1M41 11.5h1M50 11.5h1M54 11.5h1M56 11.5h1M77 11.5h1M84 11.5h1M103 11.5h1M107 11.5h1M128 11.5h1M145 11.5h1M169 11.5h1M1 12.5h1M3 12.5h1M5 12.5h1M7 12.5h1M11 12.5h1M20 12.5h1M26 12.5h1M30 12.5h1M43 12.5h1M56 12.5h1M60 12.5h1M69 12.5h1M74 12.5h1M80 12.5h1M82 12.5h1M83 12.5h1M88 12.5h1M101 12.5h1M116 12.5h1M130 12.5h1M131 12.5h1M152 12.5h1M191 12.5h1M8 13.5h1M15 13.5h1M26 13.5h1M33 13.5h1M38 13.5h1M40 13.5h1M53 13.5h1M57 13.5h1M62 13.5h1M69 13.5h1M81 13.5h1M83 13.5h1M97 13.5h1M104 13.5h1M108 13.5h1M112 13.5h1M118 13.5h1M123 13.5h1M130 13.5h1M140 13.5h1M163 13.5h1M3 14.5h1M22 14.5h1M32 14.5h1M33 14.5h1M34 14.5h1M42 14.5h1M45 14.5h1M56 14.5h1M74 14.5h1M102 14.5h1M107 14.5h1M108 14.5h1M137 14.5h1M141 14.5h1M142 14.5h1M154 14.5h1M156 14.5h1M75 15.5h1M92 15.5h1M157 15.5h1M158 15.5h1M163 15.5h1M191 15.5h1M193 15.5h1M195 15.5h1M210 15.5h1M224 15.5h1M225 15.5h1M85 16.5h1M113 16.5h1M121 16.5h1M122 16.5h1M157 16.5h1M168 16.5h1M177 16.5h1M182 16.5h1M183 16.5h1M192 16.5h1M208 16.5h1M211 16.5h1M212 16.5h1M222 16.5h1M68 17.5h1M117 17.5h1M143 17.5h1M153 17.5h1M158 17.5h1M160 17.5h1M161 17.5h1M177 17.5h1M178 17.5h1M179 17.5h1M188 17.5h1M196 17.5h1M197 17.5h1M203 17.5h1M51 18.5h1M76 18.5h1M82 18.5h1M90 18.5h1M95 18.5h1M97 18.5h1M99 18.5h1M120 18.5h1M161 18.5h1M196 18.5h1M201 18.5h1M209 18.5h1M222 18.5h1M228 18.5h1M93 19.5h1M108 19.5h1M156 19.5h1M166 19.5h1M171 19.5h1M188 19.5h1M190 19.5h1M191 19.5h1M193 19.5h1M197 19.5h1M40 20.5h1M61 20.5h1M72 20.5h1M78 20.5h1M89 20.5h1M91 20.5h1M96 20.5h1M99 20.5h1M114 20.5h1M127 20.5h1M141 20.5h1M150 20.5h1M152 20.5h1M156 20.5h1M167 20.5h1M170 20.5h1M176 20.5h1M177 20.5h1M185 20.5h1M189 20.5h1M204 20.5h1M207 20.5h1M209 20.5h1M212 20.5h1M219 20.5h1M220 20.5h1M221 20.5h1M37 21.5h1M98 21.5h1M99 21.5h1M111 21.5h1M127 21.5h1M133 21.5h1M143 21.5h1M144 21.5h1M150 21.5h1M154 21.5h1M165 21.5h1M167 21.5h1M169 21.5h1M179 21.5h1M188 21.5h1M191 21.5h1M194 21.5h1M198 21.5h1M201 21.5h1M212 21.5h1M218 21.5h1M219 21.5h1M220 21.5h1M234 21.5h1M19 22.5h1M57 22.5h1M81 22.5h1M93 22.5h1M98 22.5h1M100 22.5h1M108 22.5h1M127 22.5h1M144 22.5h1M151 22.5h1M161 22.5h1M168 22.5h1M169 22.5h1M174 22.5h1M179 22.5h1M185 22.5h1M193 22.5h1M197 22.5h1M207 22.5h1M215 22.5h1M226 22.5h1M95 23.5h1M116 23.5h1M121 23.5h1M129 23.5h1M130 23.5h1M131 23.5h1M160 23.5h1M180 23.5h1M183 23.5h1M13 24.5h1M124 24.5h1M126 24.5h1M134 24.5h1M151 24.5h1M173 24.5h1M186 24.5h1M190 24.5h1M203 24.5h1M209 24.5h1M218 24.5h1M222 24.5h1M37 25.5h1M46 25.5h1M85 25.5h1M117 25.5h1M122 25.5h1M134 25.5h1M144 25.5h1M156 25.5h1M166 25.5h1M180 25.5h1M73 26.5h1M124 26.5h1M156 26.5h1M158 26.5h1M171 26.5h1M182 26.5h1M190 26.5h1M197 26.5h1M201 26.5h1M204 26.5h1M207 26.5h1M211 26.5h1M223 26.5h1M59 27.5h1M85 27.5h1M91 27.5h1M93 27.5h1M145 27.5h1M166 27.5h1M169 27.5h1M177 27.5h1M178 27.5h1M190 27.5h1M197 27.5h1M199 27.5h1M217 27.5h1M222 27.5h1M29 28.5h1M60 28.5h1M68 28.5h1M73 28.5h1M99 28.5h1M104 28.5h1M137 28.5h1M140 28.5h1M143 28.5h1M158 28.5h1M175 28.5h1M187 28.5h1M190 28.5h1M198 28.5h1M199 28.5h1M203 28.5h1M206 28.5h1M214 28.5h1M215 28.5h1M217 28.5h1M222 28.5h1M227 28.5h1M230 28.5h1M16 29.5h1M67 29.5h1M97 29.5h1M101 29.5h1M155 29.5h1M162 29.5h1M165 29.5h1M180 29.5h1M181 29.5h1M185 29.5h1M193 29.5h1M201 29.5h1M204 29.5h1M208 29.5h1M218 29.5h1M225 29.5h1"/><path stroke="#f5b39f" d="M0 0.5h1M26 0.5h1M53 0.5h1M57 0.5h1M60 0.5h1M85 0.5h1M100 0.5h1M117 0.5h1M118 0.5h1M7 1.5h1M14 1.5h1M20 1.5h1M22 1.5h1M27 1.5h1M28 1.5h1M30 1.5h1M58 1.5h1M69 1.5h1M80 1.5h1M89 1.5h1M90 1.5h1M97 1.5h1M104 1.5h1M110 1.5h1M119 1.5h1M12 2.5h1M18 2.5h1M21 2.5h1M24 2.5h1M37 2.5h1M38 2.5h1M43 2.5h1M49 2.5h1M59 2.5h1M60 2.5h1M64 2.5h1M69 2.5h1M102 2.5h1M147 2.5h1M153 2.5h1M7 3.5h1M10 3.5h1M12 3.5h1M15 3.5h1M23 3.5h1M32 3.5h1M35 3.5h1M40 3.5h1M42 3.5h1M53 3.5h1M62 3.5h1M81 3.5h1M103 3.5h1M116 3.5h1M124 3.5h1M128 3.5h1M154 3.5h1M162 3.5h1M2 4.5h1M18 4.5h1M19 4.5h1M35 4.5h1M43 4.5h1M44 4.5h1M50 4.5h1M51 4.5h1M59 4.5h1M60 4.5h1M76 4.5h1M85 4.5h1M114 4.5h1M120 4.5h1M124 4.5h1M130 4.5h1M147 4.5h1M148 4.5h1M150 4.5h1M1 5.5h1M9 5.5h1M11 5.5h1M12 5.5h1M13 5.5h1M25 5.5h1M41 5.5h1M50 5.5h1M57 5.5h1M78 5.5h1M103 5.5h1M106 5.5h1M120 5.5h1M128 5.5h1M11 6.5h1M14 6.5h1M29 6.5h1M33 6.5h1M54 6.5h1M55 6.5h1M65 6.5h1M66 6.5h1M87 6.5h1M88 6.5h1M110 6.5h1M1 7.5h1M9 7.5h1M13 7.5h1M15 7.5h1M23 7.5h1M26 7.5h1M27 7.5h1M29 7.5h1M34 7.5h1M35 7.5h1M39 7.5h1M48 7.5h1M50 7.5h1M55 7.5h1M80 7.5h1M83 7.5h1M100 7.5h1M129 7.5h1M132 7.5h1M152 7.5h1M34 8.5h1M56 8.5h1M92 8.5h1M116 8.5h1M125 8.5h1M126 8.5h1M142 8.5h1M146 8.5h1M148 8.5h1M0 9.5h1M1 9.5h1M3 9.5h1M6 9.5h1M13 9.5h1M25 9.5h1M27 9.5h1M33 9.5h1M39 9.5h1M50 9.5h1M54 9.5h1M60 9.5h1M85 9.5h1M89 9.5h1M94 9.5h1M106 9.5h1M107 9.5h1M111 9.5h1M0 10.5h1M20 10.5h1M35 10.5h1M41 10.5h1M54 10.5h1M56 10.5h1M69 10.5h1M78 10.5h1M82 10.5h1M97 10.5h1M106 10.5h1M112 10.5h1M150 10.5h1M10 11.5h1M13 11.5h1M30 11.5h1M33 11.5h1M38 11.5h1M51 11.5h1M106 11.5h1M109 11.5h1M110 11.5h1M111 11.5h1M113 11.5h1M118 11.5h1M0 12.5h1M4 12.5h1M6 12.5h1M10 12.5h1M15 12.5h1M22 12.5h1M36 12.5h1M39 12.5h1M54 12.5h1M66 12.5h1M70 12.5h1M78 12.5h1M92 12.5h1M99 12.5h1M113 12.5h1M139 12.5h1M163 12.5h1M18 13.5h1M19 13.5h1M24 13.5h1M28 13.5h1M35 13.5h1M45 13.5h1M54 13.5h1M60 13.5h1M84 13.5h1M121 13.5h1M10 14.5h1M13 14.5h1M15 14.5h1M24 14.5h1M28 14.5h1M64 14.5h1M66 14.5h1M84 14.5h1M68 15.5h1M90 15.5h1M94 15.5h1M153 15.5h1M175 15.5h1M180 15.5h1M182 15.5h1M221 15.5h1M223 15.5h1M104 16.5h1M123 16.5h1M130 16.5h1M146 16.5h1M160 16.5h1M163 16.5h1M165 16.5h1M174 16.5h1M181 16.5h1M194 16.5h1M220 16.5h1M221 16.5h1M232 16.5h1M120 17.5h1M141 17.5h1M183 17.5h1M191 17.5h1M202 17.5h1M207 17.5h1M211 17.5h1M219 17.5h1M222 17.5h1M223 17.5h1M228 17.5h1M98 18.5h1M110 18.5h1M122 18.5h1M124 18.5h1M129 18.5h1M133 18.5h1M156 18.5h1M158 18.5h1M166 18.5h1M169 18.5h1M171 18.5h1M173 18.5h1M175 18.5h1M177 18.5h1M178 18.5h1M183 18.5h1M191 18.5h1M195 18.5h1M215 18.5h1M217 18.5h1M235 18.5h1M52 19.5h1M81 19.5h1M106 19.5h1M118 19.5h1M125 19.5h1M132 19.5h1M139 19.5h1M141 19.5h1M150 19.5h1M158 19.5h1M161 19.5h1M162 19.5h1M169 19.5h1M180 19.5h1M183 19.5h1M195 19.5h1M207 19.5h1M208 19.5h1M215 19.5h1M218 19.5h1M221 19.5h1M223 19.5h1M227 19.5h1M231 19.5h1M233 19.5h1M23 20.5h1M79 20.5h1M82 20.5h1M106 20.5h1M144 20.5h1M157 20.5h1M158 20.5h1M164 20.5h1M171 20.5h1M173 20.5h1M179 20.5h1M197 20.5h1M199 20.5h1M205 20.5h1M223 20.5h1M89 21.5h1M114 21.5h1M141 21.5h1M158 21.5h1M164 21.5h1M166 21.5h1M168 21.5h1M173 21.5h1M217 21.5h1M225 21.5h1M228 21.5h1M109 22.5h1M119 22.5h1M138 22.5h1M160 22.5h1M167 22.5h1M170 22.5h1M172 22.5h1M175 22.5h1M181 22.5h1M182 22.5h1M188 22.5h1M206 22.5h1M208 22.5h1M220 22.5h1M222 22.5h1M96 23.5h1M128 23.5h1M136 23.5h1M146 23.5h1M164 23.5h1M168 23.5h1M169 23.5h1M171 23.5h1M176 23.5h1M182 23.5h1M188 23.5h1M191 23.5h1M220 23.5h1M221 23.5h1M67 24.5h1M74 24.5h1M112 24.5h1M145 24.5h1M146 24.5h1M163 24.5h1M165 24.5h1M177 24.5h1M187 24.5h1M194 24.5h1M223 24.5h1M226 24.5h1M227 24.5h1M73 25.5h1M94 25.5h1M120 25.5h1M177 25.5h1M178 25.5h1M184 25.5h1M187 25.5h1M189 25.5h1M201 25.5h1M208 25.5h1M209 25.5h1M214 25.5h1M217 25.5h1M218 25.5h1M172 26.5h1M178 26.5h1M188 26.5h1M192 26.5h1M208 26.5h1M209 26.5h1M220 26.5h1M221 26.5h1M222 26.5h1M225 26.5h1M226 26.5h1M21 27.5h1M43 27.5h1M64 27.5h1M86 27.5h1M112 27.5h1M113 27.5h1M131 27.5h1M144 27.5h1M149 27.5h1M154 27.5h1M157 27.5h1M165 27.5h1M171 27.5h1M183 27.5h1M186 27.5h1M196 27.5h1M226 27.5h1M20 28.5h1M67 28.5h1M70 28.5h1M106 28.5h1M133 28.5h1M149 28.5h1M167 28.5h1M170 28.5h1M171 28.5h1M172 28.5h1M178 28.5h1M180 28.5h1M186 28.5h1M193 28.5h1M200 28.5h1M211 28.5h1M213 28.5h1M221 28.5h1M232 28.5h1M235 28.5h1M72 29.5h1M83 29.5h1M92 29.5h1M104 29.5h1M113 29.5h1M133 29.5h1M137 29.5h1M139 29.5h1M141 29.5h1M143 29.5h1M146 29.5h1M150 29.5h1M163 29.5h1M178 29.5h1M182 29.5h1M191 29.5h1M209 29.5h1M214 29.5h1M223 29.5h1"/><path stroke="#f4a892" d="M2 0.5h1M5 0.5h1M22 0.5h1M55 0.5h1M56 0.5h1M104 0.5h1M115 0.5h1M116 0.5h1M1 1.5h1M2 1.5h1M6 1.5h1M8 1.5h1M11 1.5h1M24 1.5h1M25 1.5h1M29 1.5h1M39 1.5h1M45 1.5h1M50 1.5h1M71 1.5h1M83 1.5h1M91 1.5h1M17 2.5h1M28 2.5h1M29 2.5h1M33 2.5h1M35 2.5h1M51 2.5h1M58 2.5h1M66 2.5h1M95 2.5h1M100 2.5h1M121 2.5h1M128 2.5h1M139 2.5h1M142 2.5h1M145 2.5h1M2 3.5h1M14 3.5h1M38 3.5h1M41 3.5h1M45 3.5h1M56 3.5h1M80 3.5h1M110 3.5h1M118 3.5h1M130 3.5h1M148 3.5h1M0 4.5h1M20 4.5h1M28 4.5h1M33 4.5h1M34 4.5h1M38 4.5h1M53 4.5h1M57 4.5h1M64 4.5h1M83 4.5h1M87 4.5h1M97 4.5h1M100 4.5h1M118 4.5h1M129 4.5h1M136 4.5h1M6 5.5h1M15 5.5h1M26 5.5h1M44 5.5h1M77 5.5h1M101 5.5h1M122 5.5h1M132 5.5h1M20 6.5h1M21 6.5h1M35 6.5h1M51 6.5h1M57 6.5h1M77 6.5h1M97 6.5h1M104 6.5h1M117 6.5h1M134 6.5h1M149 6.5h1M152 6.5h1M2 7.5h1M11 7.5h1M25 7.5h1M37 7.5h1M60 7.5h1M77 7.5h1M78 7.5h1M96 7.5h1M118 7.5h1M123 7.5h1M134 7.5h1M2 8.5h1M7 8.5h1M8 8.5h1M10 8.5h1M22 8.5h1M23 8.5h1M48 8.5h1M58 8.5h1M88 8.5h1M106 8.5h1M2 9.5h1M14 9.5h1M55 9.5h1M66 9.5h1M70 9.5h1M77 9.5h1M88 9.5h1M110 9.5h1M121 9.5h1M7 10.5h1M9 10.5h1M13 10.5h1M30 10.5h1M34 10.5h1M42 10.5h1M44 10.5h1M70 10.5h1M81 10.5h1M87 10.5h1M94 10.5h1M101 10.5h1M152 10.5h1M20 11.5h1M28 11.5h1M34 11.5h1M45 11.5h1M71 11.5h1M79 11.5h1M82 11.5h1M105 11.5h1M122 11.5h1M27 12.5h1M33 12.5h1M97 12.5h1M124 12.5h1M0 13.5h1M3 13.5h1M13 13.5h1M14 13.5h1M20 13.5h1M21 13.5h1M41 13.5h1M56 13.5h1M70 13.5h1M77 13.5h1M88 13.5h1M95 13.5h1M96 13.5h1M110 13.5h1M119 13.5h1M129 13.5h1M139 13.5h1M153 13.5h1M164 13.5h1M27 14.5h1M29 14.5h1M39 14.5h1M40 14.5h1M81 14.5h1M87 14.5h1M95 14.5h1M104 14.5h1M111 14.5h1M118 14.5h1M145 14.5h1M152 14.5h1M146 15.5h1M154 15.5h1M159 15.5h1M161 15.5h1M162 15.5h1M174 15.5h1M190 15.5h1M200 15.5h1M201 15.5h1M214 15.5h1M218 15.5h1M138 16.5h1M155 16.5h1M170 16.5h1M173 16.5h1M178 16.5h1M184 16.5h1M197 16.5h1M198 16.5h1M199 16.5h1M216 16.5h1M219 16.5h1M229 16.5h1M231 16.5h1M167 17.5h1M182 17.5h1M195 17.5h1M198 17.5h1M199 17.5h1M200 17.5h1M209 17.5h1M210 17.5h1M221 17.5h1M235 17.5h1M127 18.5h1M154 18.5h1M159 18.5h1M164 18.5h1M181 18.5h1M182 18.5h1M186 18.5h1M200 18.5h1M210 18.5h1M211 18.5h1M219 18.5h1M221 18.5h1M229 18.5h1M233 18.5h1M114 19.5h1M136 19.5h1M148 19.5h1M151 19.5h1M168 19.5h1M179 19.5h1M187 19.5h1M194 19.5h1M198 19.5h1M201 19.5h1M204 19.5h1M205 19.5h1M225 19.5h1M48 20.5h1M50 20.5h1M137 20.5h1M153 20.5h1M159 20.5h1M163 20.5h1M166 20.5h1M175 20.5h1M180 20.5h1M184 20.5h1M190 20.5h1M194 20.5h1M201 20.5h1M206 20.5h1M216 20.5h1M217 20.5h1M225 20.5h1M85 21.5h1M135 21.5h1M139 21.5h1M147 21.5h1M153 21.5h1M163 21.5h1M176 21.5h1M182 21.5h1M189 21.5h1M195 21.5h1M207 21.5h1M221 21.5h1M226 21.5h1M227 21.5h1M46 22.5h1M136 22.5h1M171 22.5h1M184 22.5h1M219 22.5h1M113 23.5h1M150 23.5h1M163 23.5h1M173 23.5h1M185 23.5h1M187 23.5h1M192 23.5h1M197 23.5h1M201 23.5h1M211 23.5h1M223 23.5h1M233 23.5h1M117 24.5h1M185 24.5h1M189 24.5h1M193 24.5h1M200 24.5h1M206 24.5h1M207 24.5h1M59 25.5h1M112 25.5h1M127 25.5h1M129 25.5h1M131 25.5h1M159 25.5h1M169 25.5h1M172 25.5h1M176 25.5h1M191 25.5h1M192 25.5h1M204 25.5h1M210 25.5h1M225 25.5h1M143 26.5h1M205 26.5h1M212 26.5h1M229 26.5h1M231 26.5h1M234 26.5h1M147 27.5h1M158 27.5h1M170 27.5h1M180 27.5h1M184 27.5h1M185 27.5h1M189 27.5h1M207 27.5h1M211 27.5h1M218 27.5h1M225 27.5h1M233 27.5h1M95 28.5h1M98 28.5h1M115 28.5h1M132 28.5h1M166 28.5h1M177 28.5h1M182 28.5h1M185 28.5h1M207 28.5h1M224 28.5h1M226 28.5h1M32 29.5h1M105 29.5h1M122 29.5h1M127 29.5h1M148 29.5h1M156 29.5h1M157 29.5h1M170 29.5h1M172 29.5h1M183 29.5h1M184 29.5h1M186 29.5h1M192 29.5h1M194 29.5h1M196 29.5h1M205 29.5h1M207 29.5h1"/><path stroke="#f29e85" d="M8 0.5h1M19 0.5h1M29 0.5h1M103 0.5h1M111 0.5h1M10 1.5h1M44 1.5h1M54 1.5h1M56 1.5h1M60 1.5h1M63 1.5h1M70 1.5h1M95 1.5h1M7 2.5h1M15 2.5h1M23 2.5h1M32 2.5h1M34 2.5h1M36 2.5h1M55 2.5h1M56 2.5h1M57 2.5h1M65 2.5h1M68 2.5h1M77 2.5h1M84 2.5h1M85 2.5h1M94 2.5h1M114 2.5h1M156 2.5h1M5 3.5h1M9 3.5h1M13 3.5h1M25 3.5h1M29 3.5h1M58 3.5h1M77 3.5h1M89 3.5h1M105 3.5h1M133 3.5h1M138 3.5h1M1 4.5h1M11 4.5h1M21 4.5h1M29 4.5h1M32 4.5h1M41 4.5h1M48 4.5h1M55 4.5h1M56 4.5h1M74 4.5h1M75 4.5h1M94 4.5h1M109 4.5h1M128 4.5h1M28 5.5h1M42 5.5h1M53 5.5h1M97 5.5h1M0 6.5h1M13 6.5h1M19 6.5h1M25 6.5h1M56 6.5h1M58 6.5h1M60 6.5h1M85 6.5h1M116 6.5h1M153 6.5h1M6 7.5h1M21 7.5h1M42 7.5h1M71 7.5h1M82 7.5h1M87 7.5h1M98 7.5h1M139 7.5h1M4 8.5h1M13 8.5h1M81 8.5h1M82 8.5h1M22 9.5h1M34 9.5h1M57 9.5h1M84 9.5h1M102 9.5h1M128 9.5h1M1 10.5h1M14 10.5h1M60 10.5h1M92 10.5h1M109 10.5h1M6 11.5h1M29 11.5h1M53 11.5h1M69 11.5h1M74 11.5h1M80 11.5h1M83 11.5h1M77 12.5h1M81 12.5h1M1 13.5h1M10 13.5h1M25 13.5h1M42 13.5h1M66 13.5h1M80 13.5h1M100 13.5h1M102 13.5h1M1 14.5h1M54 14.5h1M59 15.5h1M73 15.5h1M164 15.5h1M205 15.5h1M212 15.5h1M217 15.5h1M226 15.5h1M228 15.5h1M162 16.5h1M188 16.5h1M191 16.5h1M193 16.5h1M196 16.5h1M200 16.5h1M204 16.5h1M209 16.5h1M210 16.5h1M213 16.5h1M226 16.5h1M230 16.5h1M235 16.5h1M148 17.5h1M171 17.5h1M186 17.5h1M187 17.5h1M190 17.5h1M201 17.5h1M204 17.5h1M208 17.5h1M212 17.5h1M217 17.5h1M233 17.5h1M128 18.5h1M138 18.5h1M170 18.5h1M185 18.5h1M192 18.5h1M193 18.5h1M212 18.5h1M213 18.5h1M225 18.5h1M126 19.5h1M213 19.5h1M214 19.5h1M216 19.5h1M222 19.5h1M229 19.5h1M230 19.5h1M143 20.5h1M161 20.5h1M162 20.5h1M188 20.5h1M192 20.5h1M196 20.5h1M198 20.5h1M208 20.5h1M218 20.5h1M228 20.5h1M232 20.5h1M119 21.5h1M137 21.5h1M185 21.5h1M190 21.5h1M193 21.5h1M200 21.5h1M203 21.5h1M208 21.5h1M215 21.5h1M224 21.5h1M229 21.5h1M230 21.5h1M233 21.5h1M68 22.5h1M112 22.5h1M132 22.5h1M158 22.5h1M159 22.5h1M165 22.5h1M190 22.5h1M198 22.5h1M214 22.5h1M218 22.5h1M225 22.5h1M229 22.5h1M230 22.5h1M233 22.5h1M108 23.5h1M110 23.5h1M120 23.5h1M148 23.5h1M158 23.5h1M166 23.5h1M174 23.5h1M181 23.5h1M189 23.5h1M193 23.5h1M198 23.5h1M203 23.5h1M207 23.5h1M219 23.5h1M224 23.5h1M225 23.5h1M152 24.5h1M168 24.5h1M174 24.5h1M181 24.5h1M182 24.5h1M191 24.5h1M192 24.5h1M196 24.5h1M212 24.5h1M215 24.5h1M217 24.5h1M219 24.5h1M145 25.5h1M167 25.5h1M168 25.5h1M182 25.5h1M202 25.5h1M222 25.5h1M232 25.5h1M85 26.5h1M161 26.5h1M169 26.5h1M185 26.5h1M187 26.5h1M194 26.5h1M196 26.5h1M228 26.5h1M84 27.5h1M108 27.5h1M138 27.5h1M146 27.5h1M161 27.5h1M162 27.5h1M167 27.5h1M182 27.5h1M200 27.5h1M201 27.5h1M205 27.5h1M212 27.5h1M214 27.5h1M227 27.5h1M74 28.5h1M148 28.5h1M181 28.5h1M194 28.5h1M205 28.5h1M212 28.5h1M216 28.5h1M229 28.5h1M142 29.5h1M169 29.5h1M174 29.5h1M195 29.5h1M217 29.5h1M227 29.5h1M229 29.5h1"/><path stroke="#f09378" d="M95 0.5h1M53 1.5h1M55 1.5h1M66 1.5h1M74 1.5h1M78 1.5h1M84 1.5h1M87 1.5h1M93 1.5h1M99 1.5h1M100 1.5h1M1 2.5h1M6 2.5h1M11 2.5h1M25 2.5h1M27 2.5h1M50 2.5h1M54 2.5h1M82 2.5h1M87 2.5h1M89 2.5h1M97 2.5h1M109 2.5h1M110 2.5h1M129 2.5h1M149 2.5h1M1 3.5h1M8 3.5h1M27 3.5h1M39 3.5h1M59 3.5h1M66 3.5h1M70 3.5h1M88 3.5h1M92 3.5h1M102 3.5h1M142 3.5h1M157 3.5h1M8 4.5h1M14 4.5h1M27 4.5h1M36 4.5h1M68 4.5h1M70 4.5h1M82 4.5h1M88 4.5h1M89 4.5h1M101 4.5h1M106 4.5h1M110 4.5h1M125 4.5h1M131 4.5h1M142 4.5h1M22 5.5h1M24 5.5h1M29 5.5h1M32 5.5h1M82 5.5h1M6 6.5h1M8 6.5h1M34 6.5h1M42 6.5h1M102 6.5h1M148 6.5h1M7 7.5h1M24 7.5h1M157 7.5h1M27 8.5h1M29 8.5h1M150 8.5h1M5 9.5h1M53 9.5h1M82 9.5h1M11 10.5h1M39 10.5h1M129 10.5h1M49 11.5h1M78 11.5h1M89 11.5h1M95 11.5h1M45 12.5h1M122 12.5h1M6 13.5h1M9 13.5h1M27 13.5h1M55 13.5h1M71 13.5h1M89 13.5h1M92 13.5h1M132 13.5h1M142 13.5h1M6 14.5h1M168 15.5h1M173 15.5h1M179 15.5h1M184 15.5h1M185 15.5h1M189 15.5h1M204 15.5h1M208 15.5h1M209 15.5h1M227 15.5h1M229 15.5h1M230 15.5h1M235 15.5h1M167 16.5h1M223 16.5h1M234 16.5h1M172 17.5h1M193 17.5h1M194 17.5h1M230 17.5h1M113 18.5h1M179 18.5h1M197 18.5h1M198 18.5h1M202 18.5h1M203 18.5h1M208 18.5h1M214 18.5h1M218 18.5h1M220 18.5h1M226 18.5h1M232 18.5h1M143 19.5h1M192 19.5h1M200 19.5h1M212 19.5h1M97 20.5h1M178 20.5h1M191 20.5h1M214 20.5h1M215 20.5h1M227 20.5h1M136 21.5h1M161 21.5h1M171 21.5h1M181 21.5h1M192 21.5h1M211 21.5h1M214 21.5h1M222 21.5h1M231 21.5h1M232 21.5h1M166 22.5h1M176 22.5h1M178 22.5h1M187 22.5h1M200 22.5h1M201 22.5h1M210 22.5h1M211 22.5h1M213 22.5h1M217 22.5h1M156 23.5h1M190 23.5h1M214 23.5h1M227 23.5h1M232 23.5h1M235 23.5h1M155 24.5h1M175 24.5h1M176 24.5h1M204 24.5h1M213 24.5h1M228 24.5h1M230 24.5h1M234 24.5h1M119 25.5h1M155 25.5h1M174 25.5h1M179 25.5h1M193 25.5h1M197 25.5h1M198 25.5h1M199 25.5h1M200 25.5h1M206 25.5h1M207 25.5h1M223 25.5h1M231 25.5h1M175 26.5h1M184 26.5h1M210 26.5h1M214 26.5h1M215 26.5h1M227 26.5h1M230 26.5h1M235 26.5h1M117 27.5h1M137 27.5h1M163 27.5h1M174 27.5h1M191 27.5h1M203 27.5h1M204 27.5h1M221 27.5h1M224 27.5h1M84 28.5h1M119 28.5h1M197 28.5h1M204 28.5h1M223 28.5h1M225 28.5h1M231 28.5h1M187 29.5h1M202 29.5h1M203 29.5h1M206 29.5h1M215 29.5h1M222 29.5h1M224 29.5h1M228 29.5h1M230 29.5h1M231 29.5h1"/><path stroke="#ee876c" d="M6 0.5h1M51 1.5h1M129 1.5h1M2 2.5h1M13 2.5h1M19 2.5h1M39 2.5h1M42 2.5h1M48 2.5h1M70 2.5h1M78 2.5h1M101 2.5h1M28 3.5h1M82 3.5h1M139 3.5h1M7 4.5h1M10 4.5h1M39 4.5h1M102 4.5h1M39 5.5h1M45 5.5h1M70 5.5h1M95 5.5h1M1 6.5h1M45 6.5h1M75 6.5h1M83 6.5h1M101 6.5h1M145 6.5h1M42 8.5h1M95 8.5h1M98 8.5h1M29 10.5h1M27 11.5h1M32 13.5h1M39 13.5h1M79 13.5h1M25 14.5h1M88 14.5h1M155 15.5h1M166 15.5h1M176 15.5h1M187 15.5h1M197 15.5h1M215 15.5h1M219 15.5h1M231 15.5h1M166 16.5h1M176 16.5h1M205 16.5h1M215 16.5h1M218 16.5h1M228 16.5h1M180 17.5h1M213 17.5h1M224 17.5h1M229 17.5h1M234 17.5h1M194 18.5h1M199 18.5h1M204 18.5h1M206 18.5h1M86 19.5h1M185 19.5h1M202 19.5h1M203 19.5h1M217 19.5h1M219 19.5h1M220 19.5h1M224 19.5h1M195 20.5h1M235 20.5h1M183 21.5h1M199 21.5h1M213 21.5h1M235 21.5h1M194 22.5h1M196 22.5h1M203 22.5h1M221 22.5h1M235 22.5h1M147 23.5h1M175 23.5h1M177 23.5h1M179 23.5h1M186 23.5h1M200 23.5h1M208 23.5h1M216 23.5h1M230 23.5h1M198 24.5h1M199 24.5h1M205 24.5h1M214 24.5h1M216 24.5h1M220 24.5h1M221 24.5h1M224 24.5h1M231 24.5h1M175 25.5h1M190 25.5h1M203 25.5h1M205 25.5h1M216 25.5h1M228 25.5h1M233 25.5h1M189 26.5h1M193 26.5h1M224 26.5h1M194 27.5h1M195 27.5h1M198 27.5h1M202 27.5h1M213 27.5h1M216 27.5h1M229 27.5h1M235 27.5h1M219 28.5h1M151 29.5h1M164 29.5h1M168 29.5h1M171 29.5h1M177 29.5h1M179 29.5h1M197 29.5h1M199 29.5h1M200 29.5h1M212 29.5h1"/><path stroke="#ec7b61" d="M70 0.5h1M42 1.5h1M4 2.5h1M8 2.5h1M26 2.5h1M45 2.5h1M71 2.5h1M79 2.5h1M98 2.5h1M130 2.5h1M54 3.5h1M87 3.5h1M96 3.5h1M13 4.5h1M15 4.5h1M66 4.5h1M92 4.5h1M127 4.5h1M84 7.5h1M87 8.5h1M110 8.5h1M121 11.5h1M7 13.5h1M29 13.5h1M116 13.5h1M216 15.5h1M220 15.5h1M233 15.5h1M143 16.5h1M175 16.5h1M224 16.5h1M192 17.5h1M205 17.5h1M227 17.5h1M232 17.5h1M143 18.5h1M176 18.5h1M190 18.5h1M234 18.5h1M175 19.5h1M226 19.5h1M213 20.5h1M222 20.5h1M209 21.5h1M216 21.5h1M143 22.5h1M192 22.5h1M204 22.5h1M205 22.5h1M223 22.5h1M227 22.5h1M195 23.5h1M199 23.5h1M213 23.5h1M228 23.5h1M197 24.5h1M229 24.5h1M173 25.5h1M195 25.5h1M212 25.5h1M219 25.5h1M227 25.5h1M195 26.5h1M216 26.5h1M219 26.5h1M233 26.5h1M193 27.5h1M208 27.5h1M209 27.5h1M231 27.5h1M232 27.5h1M166 29.5h1M198 29.5h1M211 29.5h1M213 29.5h1M216 29.5h1M219 29.5h1M234 29.5h1"/><path stroke="#eb6f56" d="M89 0.5h1M132 1.5h1M104 2.5h1M105 2.5h1M83 3.5h1M111 6.5h1M122 10.5h1M102 11.5h1M232 15.5h1M201 16.5h1M233 16.5h1M214 17.5h1M226 17.5h1M231 17.5h1M223 18.5h1M227 18.5h1M231 18.5h1M199 19.5h1M228 19.5h1M232 19.5h1M193 20.5h1M203 20.5h1M224 20.5h1M231 20.5h1M233 20.5h1M197 21.5h1M223 21.5h1M189 22.5h1M224 22.5h1M232 22.5h1M194 23.5h1M204 23.5h1M206 23.5h1M212 23.5h1M215 23.5h1M226 23.5h1M229 23.5h1M195 24.5h1M232 24.5h1M235 24.5h1M181 25.5h1M211 25.5h1M234 25.5h1M199 26.5h1M206 26.5h1M218 26.5h1M179 27.5h1M210 27.5h1M234 27.5h1M173 29.5h1M210 29.5h1M232 29.5h1"/><path stroke="#e9634a" d="M14 2.5h1M134 2.5h1M97 3.5h1M87 5.5h1M203 15.5h1M234 15.5h1M158 16.5h1M195 16.5h1M217 16.5h1M227 16.5h1M211 19.5h1M235 19.5h1M229 20.5h1M230 20.5h1M216 22.5h1M228 22.5h1M202 23.5h1M205 23.5h1M217 23.5h1M222 23.5h1M208 24.5h1M188 25.5h1M196 25.5h1M220 25.5h1M221 25.5h1M230 25.5h1M232 26.5h1M192 27.5h1M220 29.5h1"/><path stroke="#e6563f" d="M87 12.5h1M225 17.5h1M224 18.5h1M230 18.5h1M176 19.5h1M234 19.5h1M234 20.5h1M212 22.5h1M231 22.5h1M234 22.5h1M225 24.5h1M226 25.5h1M229 25.5h1"/><path stroke="#e44834" d="M195 22.5h1M234 23.5h1M215 25.5h1M235 25.5h1M219 27.5h1M223 27.5h1M233 29.5h1M235 29.5h1"/><path stroke="#e13b29" d="M226 20.5h1M224 25.5h1"/><path stroke="#de2e1e" d="M215 27.5h1M226 29.5h1"/><path stroke="#de2e1e" d="M230 27.5h1"/></g></g><rect x="53.50" y="485.80" width="238.60" height="10.10" fill="#1b1b1b"/><rect x="292.10" y="485.80" width="43.60" height="10.10" fill="#aa5860"/><rect x="335.70" y="485.80" width="120.50" height="10.10" fill="#e52a27"/><rect x="53.50" y="496.80" width="402.70" height="11.20" fill="#f08b00"/><rect x="53.50" y="508.90" width="402.70" height="10.30" fill="#1ca157"/><rect x="355.00" y="508.90" width="2.00" height="10.30" fill="#8f9aa8"/><rect x="357.00" y="508.90" width="2.00" height="10.30" fill="#8f9aa8"/><rect x="362.50" y="508.90" width="2.00" height="10.30" fill="#8f9aa8"/><rect x="365.50" y="508.90" width="1.50" height="10.30" fill="#8f9aa8"/><rect x="367.00" y="508.90" width="1.50" height="10.30" fill="#9c8fb4"/><rect x="368.50" y="508.90" width="1.50" height="10.30" fill="#b08ac6"/><rect x="370.00" y="508.90" width="1.50" height="10.30" fill="#b08ac6"/><rect x="373.00" y="508.90" width="1.50" height="10.30" fill="#a887c4"/><rect x="374.50" y="508.90" width="1.50" height="10.30" fill="#b08ac6"/><rect x="376.00" y="508.90" width="1.50" height="10.30" fill="#8f9aa8"/><rect x="379.00" y="508.90" width="1.00" height="10.30" fill="#9c8fb4"/><rect x="380.00" y="508.90" width="1.50" height="10.30" fill="#b08ac6"/><rect x="381.50" y="508.90" width="1.50" height="10.30" fill="#8f9aa8"/><rect x="388.00" y="508.90" width="1.00" height="10.30" fill="#a887c4"/><rect x="393.00" y="508.90" width="2.00" height="10.30" fill="#b08ac6"/><rect x="395.00" y="508.90" width="1.50" height="10.30" fill="#8f9aa8"/><rect x="396.50" y="508.90" width="1.50" height="10.30" fill="#b08ac6"/><rect x="398.00" y="508.90" width="1.00" height="10.30" fill="#9c8fb4"/><rect x="399.00" y="508.90" width="1.00" height="10.30" fill="#9c8fb4"/><rect x="401.50" y="508.90" width="2.00" height="10.30" fill="#9c8fb4"/><rect x="408.00" y="508.90" width="2.00" height="10.30" fill="#a887c4"/><rect x="411.00" y="508.90" width="1.00" height="10.30" fill="#9c8fb4"/><rect x="412.00" y="508.90" width="1.50" height="10.30" fill="#8f9aa8"/><rect x="413.50" y="508.90" width="1.50" height="10.30" fill="#9c8fb4"/><rect x="415.00" y="508.90" width="1.50" height="10.30" fill="#9c8fb4"/><rect x="418.50" y="508.90" width="2.00" height="10.30" fill="#9c8fb4"/><rect x="420.50" y="508.90" width="1.00" height="10.30" fill="#8f9aa8"/><rect x="421.50" y="508.90" width="1.00" height="10.30" fill="#b08ac6"/><rect x="424.50" y="508.90" width="2.00" height="10.30" fill="#b08ac6"/><rect x="432.00" y="508.90" width="2.00" height="10.30" fill="#8f9aa8"/><rect x="434.00" y="508.90" width="1.00" height="10.30" fill="#9c8fb4"/><rect x="435.00" y="508.90" width="1.00" height="10.30" fill="#b08ac6"/><rect x="436.00" y="508.90" width="1.50" height="10.30" fill="#a887c4"/><rect x="439.00" y="508.90" width="1.00" height="10.30" fill="#b08ac6"/><rect x="440.00" y="508.90" width="1.50" height="10.30" fill="#a887c4"/><rect x="441.50" y="508.90" width="1.00" height="10.30" fill="#9c8fb4"/><rect x="442.50" y="508.90" width="1.50" height="10.30" fill="#b08ac6"/><rect x="444.00" y="508.90" width="1.50" height="10.30" fill="#8f9aa8"/><rect x="445.50" y="508.90" width="1.00" height="10.30" fill="#b08ac6"/><rect x="446.50" y="508.90" width="1.50" height="10.30" fill="#8f9aa8"/><rect x="448.00" y="508.90" width="1.00" height="10.30" fill="#a887c4"/><rect x="450.50" y="508.90" width="1.00" height="10.30" fill="#a887c4"/><rect x="451.50" y="508.90" width="1.00" height="10.30" fill="#b08ac6"/><rect x="452.50" y="508.90" width="1.00" height="10.30" fill="#8f9aa8"/><rect x="453.50" y="508.90" width="2.00" height="10.30" fill="#a887c4"/><rect x="455.50" y="508.90" width="0.70" height="10.30" fill="#a887c4"/><rect x="53.50" y="520.10" width="4.00" height="10.30" fill="#2a2426"/><rect x="57.50" y="520.10" width="1.30" height="10.30" fill="#3c3a3a"/><rect x="58.80" y="520.10" width="1.30" height="10.30" fill="#2a2426"/><rect x="60.10" y="520.10" width="1.30" height="10.30" fill="#2c2c2c"/><rect x="61.40" y="520.10" width="4.00" height="10.30" fill="#353535"/><rect x="65.40" y="520.10" width="1.00" height="10.30" fill="#cfcfcf"/><rect x="66.40" y="520.10" width="2.80" height="10.30" fill="#2c2c2c"/><rect x="69.20" y="520.10" width="1.30" height="10.30" fill="#2c2c2c"/><rect x="70.50" y="520.10" width="1.70" height="10.30" fill="#353535"/><rect x="72.20" y="520.10" width="3.40" height="10.30" fill="#353535"/><rect x="75.60" y="520.10" width="1.00" height="10.30" fill="#cfcfcf"/><rect x="76.60" y="520.10" width="1.00" height="10.30" fill="#cfcfcf"/><rect x="77.60" y="520.10" width="1.70" height="10.30" fill="#353535"/><rect x="79.30" y="520.10" width="2.20" height="10.30" fill="#2c2c2c"/><rect x="81.50" y="520.10" width="3.40" height="10.30" fill="#353535"/><rect x="84.90" y="520.10" width="1.70" height="10.30" fill="#2a2426"/><rect x="86.60" y="520.10" width="3.40" height="10.30" fill="#353535"/><rect x="90.00" y="520.10" width="1.70" height="10.30" fill="#2c2c2c"/><rect x="91.70" y="520.10" width="1.30" height="10.30" fill="#353535"/><rect x="93.00" y="520.10" width="4.00" height="10.30" fill="#2a2426"/><rect x="97.00" y="520.10" width="2.20" height="10.30" fill="#2a2426"/><rect x="99.20" y="520.10" width="1.00" height="10.30" fill="#cfcfcf"/><rect x="100.20" y="520.10" width="1.00" height="10.30" fill="#cfcfcf"/><rect x="101.20" y="520.10" width="1.30" height="10.30" fill="#3c3a3a"/><rect x="102.50" y="520.10" width="2.80" height="10.30" fill="#2a2426"/><rect x="105.30" y="520.10" width="1.00" height="10.30" fill="#cfcfcf"/><rect x="106.30" y="520.10" width="1.30" height="10.30" fill="#3c3a3a"/><rect x="107.60" y="520.10" width="1.30" height="10.30" fill="#2c2c2c"/><rect x="108.90" y="520.10" width="3.40" height="10.30" fill="#22a957"/><rect x="112.30" y="520.10" width="3.40" height="10.30" fill="#2a2426"/><rect x="115.70" y="520.10" width="2.80" height="10.30" fill="#353535"/><rect x="118.50" y="520.10" width="2.20" height="10.30" fill="#2c2c2c"/><rect x="120.70" y="520.10" width="3.40" height="10.30" fill="#2c2c2c"/><rect x="124.10" y="520.10" width="2.80" height="10.30" fill="#2c2c2c"/><rect x="126.90" y="520.10" width="2.20" height="10.30" fill="#2c2c2c"/><rect x="129.10" y="520.10" width="4.00" height="10.30" fill="#3c3a3a"/><rect x="133.10" y="520.10" width="1.30" height="10.30" fill="#353535"/><rect x="134.40" y="520.10" width="4.00" height="10.30" fill="#22a957"/><rect x="138.40" y="520.10" width="2.80" height="10.30" fill="#3c3a3a"/><rect x="141.20" y="520.10" width="1.70" height="10.30" fill="#2a2426"/><rect x="142.90" y="520.10" width="1.30" height="10.30" fill="#2a2426"/><rect x="144.20" y="520.10" width="1.30" height="10.30" fill="#353535"/><rect x="145.50" y="520.10" width="2.20" height="10.30" fill="#353535"/><rect x="147.70" y="520.10" width="4.00" height="10.30" fill="#2a2426"/><rect x="151.70" y="520.10" width="1.00" height="10.30" fill="#cfcfcf"/><rect x="152.70" y="520.10" width="2.80" height="10.30" fill="#2a2426"/><rect x="155.50" y="520.10" width="2.20" height="10.30" fill="#22a957"/><rect x="157.70" y="520.10" width="1.30" height="10.30" fill="#0b7a35"/><rect x="159.00" y="520.10" width="2.20" height="10.30" fill="#3c3a3a"/><rect x="161.20" y="520.10" width="1.00" height="10.30" fill="#cfcfcf"/><rect x="162.20" y="520.10" width="3.40" height="10.30" fill="#2a2426"/><rect x="165.60" y="520.10" width="1.70" height="10.30" fill="#2c2c2c"/><rect x="167.30" y="520.10" width="1.30" height="10.30" fill="#3c3a3a"/><rect x="168.60" y="520.10" width="3.40" height="10.30" fill="#353535"/><rect x="172.00" y="520.10" width="3.40" height="10.30" fill="#353535"/><rect x="175.40" y="520.10" width="2.80" height="10.30" fill="#14a04c"/><rect x="178.20" y="520.10" width="1.30" height="10.30" fill="#3c3a3a"/><rect x="179.50" y="520.10" width="1.30" height="10.30" fill="#2c2c2c"/><rect x="180.80" y="520.10" width="4.00" height="10.30" fill="#353535"/><rect x="184.80" y="520.10" width="2.80" height="10.30" fill="#3c3a3a"/><rect x="187.60" y="520.10" width="1.70" height="10.30" fill="#3c3a3a"/><rect x="189.30" y="520.10" width="1.30" height="10.30" fill="#0b7a35"/><rect x="190.60" y="520.10" width="1.00" height="10.30" fill="#cfcfcf"/><rect x="191.60" y="520.10" width="2.20" height="10.30" fill="#2c2c2c"/><rect x="193.80" y="520.10" width="1.70" height="10.30" fill="#2a2426"/><rect x="195.50" y="520.10" width="4.00" height="10.30" fill="#2c2c2c"/><rect x="199.50" y="520.10" width="1.00" height="10.30" fill="#cfcfcf"/><rect x="200.50" y="520.10" width="3.40" height="10.30" fill="#2a2426"/><rect x="203.90" y="520.10" width="1.00" height="10.30" fill="#cfcfcf"/><rect x="204.90" y="520.10" width="1.00" height="10.30" fill="#cfcfcf"/><rect x="205.90" y="520.10" width="1.70" height="10.30" fill="#2c2c2c"/><rect x="207.60" y="520.10" width="2.20" height="10.30" fill="#3c3a3a"/><rect x="209.80" y="520.10" width="4.00" height="10.30" fill="#2c2c2c"/><rect x="213.80" y="520.10" width="2.20" height="10.30" fill="#2a2426"/><rect x="216.00" y="520.10" width="3.40" height="10.30" fill="#2c2c2c"/><rect x="219.40" y="520.10" width="2.20" height="10.30" fill="#2a2426"/><rect x="221.60" y="520.10" width="2.80" height="10.30" fill="#353535"/><rect x="224.40" y="520.10" width="2.80" height="10.30" fill="#353535"/><rect x="227.20" y="520.10" width="4.00" height="10.30" fill="#3c3a3a"/><rect x="231.20" y="520.10" width="1.30" height="10.30" fill="#2a2426"/><rect x="232.50" y="520.10" width="2.20" height="10.30" fill="#353535"/><rect x="234.70" y="520.10" width="1.00" height="10.30" fill="#cfcfcf"/><rect x="235.70" y="520.10" width="4.00" height="10.30" fill="#2c2c2c"/><rect x="239.70" y="520.10" width="1.70" height="10.30" fill="#353535"/><rect x="241.40" y="520.10" width="1.70" height="10.30" fill="#3c3a3a"/><rect x="243.10" y="520.10" width="1.30" height="10.30" fill="#2a2426"/><rect x="244.40" y="520.10" width="2.80" height="10.30" fill="#353535"/><rect x="247.20" y="520.10" width="2.80" height="10.30" fill="#353535"/><rect x="250.00" y="520.10" width="3.40" height="10.30" fill="#353535"/><rect x="253.40" y="520.10" width="1.70" height="10.30" fill="#2a2426"/><rect x="255.10" y="520.10" width="2.20" height="10.30" fill="#2a2426"/><rect x="257.30" y="520.10" width="4.00" height="10.30" fill="#2c2c2c"/><rect x="261.30" y="520.10" width="4.00" height="10.30" fill="#3c3a3a"/><rect x="265.30" y="520.10" width="3.40" height="10.30" fill="#0f8a3e"/><rect x="268.70" y="520.10" width="2.80" height="10.30" fill="#22a957"/><rect x="271.50" y="520.10" width="1.30" height="10.30" fill="#3c3a3a"/><rect x="272.80" y="520.10" width="3.40" height="10.30" fill="#2a2426"/><rect x="276.20" y="520.10" width="2.20" height="10.30" fill="#14a04c"/><rect x="278.40" y="520.10" width="3.40" height="10.30" fill="#353535"/><rect x="281.80" y="520.10" width="2.20" height="10.30" fill="#2c2c2c"/><rect x="284.00" y="520.10" width="1.30" height="10.30" fill="#3c3a3a"/><rect x="285.30" y="520.10" width="3.40" height="10.30" fill="#22a957"/><rect x="288.70" y="520.10" width="3.40" height="10.30" fill="#0f8a3e"/><rect x="292.10" y="520.10" width="2.20" height="10.30" fill="#22a957"/><rect x="294.30" y="520.10" width="3.40" height="10.30" fill="#14a04c"/><rect x="297.70" y="520.10" width="1.00" height="10.30" fill="#cfcfcf"/><rect x="298.70" y="520.10" width="2.20" height="10.30" fill="#353535"/><rect x="300.90" y="520.10" width="3.40" height="10.30" fill="#2c2c2c"/><rect x="304.30" y="520.10" width="4.00" height="10.30" fill="#0f8a3e"/><rect x="308.30" y="520.10" width="2.80" height="10.30" fill="#3c3a3a"/><rect x="311.10" y="520.10" width="3.40" height="10.30" fill="#3c3a3a"/><rect x="314.50" y="520.10" width="1.00" height="10.30" fill="#cfcfcf"/><rect x="315.50" y="520.10" width="3.40" height="10.30" fill="#14a04c"/><rect x="318.90" y="520.10" width="1.70" height="10.30" fill="#3c3a3a"/><rect x="320.60" y="520.10" width="1.30" height="10.30" fill="#2c2c2c"/><rect x="321.90" y="520.10" width="1.70" height="10.30" fill="#353535"/><rect x="323.60" y="520.10" width="3.40" height="10.30" fill="#0f8a3e"/><rect x="327.00" y="520.10" width="2.20" height="10.30" fill="#0f8a3e"/><rect x="329.20" y="520.10" width="1.00" height="10.30" fill="#cfcfcf"/><rect x="330.20" y="520.10" width="2.80" height="10.30" fill="#0f8a3e"/><rect x="333.00" y="520.10" width="1.30" height="10.30" fill="#3c3a3a"/><rect x="334.30" y="520.10" width="4.00" height="10.30" fill="#2c2c2c"/><rect x="338.30" y="520.10" width="3.40" height="10.30" fill="#14a04c"/><rect x="341.70" y="520.10" width="2.80" height="10.30" fill="#22a957"/><rect x="344.50" y="520.10" width="3.40" height="10.30" fill="#0f8a3e"/><rect x="347.90" y="520.10" width="2.80" height="10.30" fill="#22a957"/><rect x="350.70" y="520.10" width="3.40" height="10.30" fill="#2c2c2c"/><rect x="354.10" y="520.10" width="2.80" height="10.30" fill="#0b7a35"/><rect x="356.90" y="520.10" width="3.40" height="10.30" fill="#3c3a3a"/><rect x="360.30" y="520.10" width="4.00" height="10.30" fill="#0b7a35"/><rect x="364.30" y="520.10" width="1.00" height="10.30" fill="#cfcfcf"/><rect x="365.30" y="520.10" width="3.40" height="10.30" fill="#14a04c"/><rect x="368.70" y="520.10" width="2.80" height="10.30" fill="#14a04c"/><rect x="371.50" y="520.10" width="1.70" height="10.30" fill="#14a04c"/><rect x="373.20" y="520.10" width="1.00" height="10.30" fill="#cfcfcf"/><rect x="374.20" y="520.10" width="2.20" height="10.30" fill="#0b7a35"/><rect x="376.40" y="520.10" width="2.80" height="10.30" fill="#0b7a35"/><rect x="379.20" y="520.10" width="2.20" height="10.30" fill="#0b7a35"/><rect x="381.40" y="520.10" width="2.20" height="10.30" fill="#353535"/><rect x="383.60" y="520.10" width="1.00" height="10.30" fill="#cfcfcf"/><rect x="384.60" y="520.10" width="3.40" height="10.30" fill="#22a957"/><rect x="388.00" y="520.10" width="2.20" height="10.30" fill="#14a04c"/><rect x="390.20" y="520.10" width="2.20" height="10.30" fill="#0f8a3e"/><rect x="392.40" y="520.10" width="1.00" height="10.30" fill="#cfcfcf"/><rect x="393.40" y="520.10" width="1.70" height="10.30" fill="#3c3a3a"/><rect x="395.10" y="520.10" width="1.30" height="10.30" fill="#22a957"/><rect x="396.40" y="520.10" width="2.80" height="10.30" fill="#2a2426"/><rect x="399.20" y="520.10" width="2.20" height="10.30" fill="#22a957"/><rect x="401.40" y="520.10" width="3.40" height="10.30" fill="#22a957"/><rect x="404.80" y="520.10" width="4.00" height="10.30" fill="#0b7a35"/><rect x="408.80" y="520.10" width="2.20" height="10.30" fill="#14a04c"/><rect x="411.00" y="520.10" width="2.20" height="10.30" fill="#0f8a3e"/><rect x="413.20" y="520.10" width="4.00" height="10.30" fill="#22a957"/><rect x="417.20" y="520.10" width="1.70" height="10.30" fill="#0f8a3e"/><rect x="418.90" y="520.10" width="2.80" height="10.30" fill="#2c2c2c"/><rect x="421.70" y="520.10" width="4.00" height="10.30" fill="#22a957"/><rect x="425.70" y="520.10" width="1.30" height="10.30" fill="#0b7a35"/><rect x="427.00" y="520.10" width="3.40" height="10.30" fill="#0b7a35"/><rect x="430.40" y="520.10" width="2.20" height="10.30" fill="#0b7a35"/><rect x="432.60" y="520.10" width="1.00" height="10.30" fill="#cfcfcf"/><rect x="433.60" y="520.10" width="1.30" height="10.30" fill="#14a04c"/><rect x="434.90" y="520.10" width="1.30" height="10.30" fill="#22a957"/><rect x="436.20" y="520.10" width="3.40" height="10.30" fill="#22a957"/><rect x="439.60" y="520.10" width="1.70" height="10.30" fill="#14a04c"/><rect x="441.30" y="520.10" width="3.40" height="10.30" fill="#0f8a3e"/><rect x="444.70" y="520.10" width="1.00" height="10.30" fill="#cfcfcf"/><rect x="445.70" y="520.10" width="1.00" height="10.30" fill="#cfcfcf"/><rect x="446.70" y="520.10" width="1.70" height="10.30" fill="#0f8a3e"/><rect x="448.40" y="520.10" width="1.00" height="10.30" fill="#cfcfcf"/><rect x="449.40" y="520.10" width="3.40" height="10.30" fill="#22a957"/><rect x="452.80" y="520.10" width="2.80" height="10.30" fill="#0f8a3e"/><rect x="455.60" y="520.10" width="0.60" height="10.30" fill="#22a957"/><rect x="53.50" y="531.50" width="2.20" height="10.40" fill="#0b7a35"/><rect x="55.70" y="531.50" width="2.20" height="10.40" fill="#3c3a3a"/><rect x="57.90" y="531.50" width="1.30" height="10.40" fill="#0f8a3e"/><rect x="59.20" y="531.50" width="1.70" height="10.40" fill="#3c3a3a"/><rect x="60.90" y="531.50" width="1.70" height="10.40" fill="#0b7a35"/><rect x="62.60" y="531.50" width="1.00" height="10.40" fill="#cfcfcf"/><rect x="63.60" y="531.50" width="1.70" height="10.40" fill="#22a957"/><rect x="65.30" y="531.50" width="1.30" height="10.40" fill="#0f8a3e"/><rect x="66.60" y="531.50" width="1.70" height="10.40" fill="#14a04c"/><rect x="68.30" y="531.50" width="4.00" height="10.40" fill="#2a2426"/><rect x="72.30" y="531.50" width="3.40" height="10.40" fill="#0b7a35"/><rect x="75.70" y="531.50" width="2.80" height="10.40" fill="#14a04c"/><rect x="78.50" y="531.50" width="3.40" height="10.40" fill="#353535"/><rect x="81.90" y="531.50" width="4.00" height="10.40" fill="#22a957"/><rect x="85.90" y="531.50" width="1.70" height="10.40" fill="#0b7a35"/><rect x="87.60" y="531.50" width="1.00" height="10.40" fill="#cfcfcf"/><rect x="88.60" y="531.50" width="1.70" height="10.40" fill="#353535"/><rect x="90.30" y="531.50" width="1.70" height="10.40" fill="#14a04c"/><rect x="92.00" y="531.50" width="1.70" height="10.40" fill="#0f8a3e"/><rect x="93.70" y="531.50" width="3.40" height="10.40" fill="#353535"/><rect x="97.10" y="531.50" width="1.00" height="10.40" fill="#cfcfcf"/><rect x="98.10" y="531.50" width="1.70" height="10.40" fill="#353535"/><rect x="99.80" y="531.50" width="2.80" height="10.40" fill="#14a04c"/><rect x="102.60" y="531.50" width="2.80" height="10.40" fill="#14a04c"/><rect x="105.40" y="531.50" width="2.80" height="10.40" fill="#14a04c"/><rect x="108.20" y="531.50" width="2.80" height="10.40" fill="#2c2c2c"/><rect x="111.00" y="531.50" width="2.80" height="10.40" fill="#0f8a3e"/><rect x="113.80" y="531.50" width="2.80" height="10.40" fill="#14a04c"/><rect x="116.60" y="531.50" width="3.40" height="10.40" fill="#3c3a3a"/><rect x="120.00" y="531.50" width="1.30" height="10.40" fill="#2a2426"/><rect x="121.30" y="531.50" width="3.40" height="10.40" fill="#0f8a3e"/><rect x="124.70" y="531.50" width="1.30" height="10.40" fill="#14a04c"/><rect x="126.00" y="531.50" width="1.00" height="10.40" fill="#cfcfcf"/><rect x="127.00" y="531.50" width="1.30" height="10.40" fill="#2a2426"/><rect x="128.30" y="531.50" width="3.40" height="10.40" fill="#2a2426"/><rect x="131.70" y="531.50" width="1.00" height="10.40" fill="#cfcfcf"/><rect x="132.70" y="531.50" width="4.00" height="10.40" fill="#2c2c2c"/><rect x="136.70" y="531.50" width="1.30" height="10.40" fill="#0f8a3e"/><rect x="138.00" y="531.50" width="1.30" height="10.40" fill="#2c2c2c"/><rect x="139.30" y="531.50" width="3.40" height="10.40" fill="#0f8a3e"/><rect x="142.70" y="531.50" width="2.20" height="10.40" fill="#0b7a35"/><rect x="144.90" y="531.50" width="1.30" height="10.40" fill="#3c3a3a"/><rect x="146.20" y="531.50" width="1.00" height="10.40" fill="#cfcfcf"/><rect x="147.20" y="531.50" width="2.80" height="10.40" fill="#0b7a35"/><rect x="150.00" y="531.50" width="1.70" height="10.40" fill="#14a04c"/><rect x="151.70" y="531.50" width="2.80" height="10.40" fill="#353535"/><rect x="154.50" y="531.50" width="2.20" height="10.40" fill="#3c3a3a"/><rect x="156.70" y="531.50" width="1.30" height="10.40" fill="#0f8a3e"/><rect x="158.00" y="531.50" width="2.80" height="10.40" fill="#0f8a3e"/><rect x="160.80" y="531.50" width="2.80" height="10.40" fill="#2c2c2c"/><rect x="163.60" y="531.50" width="3.40" height="10.40" fill="#0f8a3e"/><rect x="167.00" y="531.50" width="2.20" height="10.40" fill="#2a2426"/><rect x="169.20" y="531.50" width="2.80" height="10.40" fill="#0b7a35"/><rect x="172.00" y="531.50" width="2.80" height="10.40" fill="#0b7a35"/><rect x="174.80" y="531.50" width="2.20" height="10.40" fill="#2a2426"/><rect x="177.00" y="531.50" width="1.70" height="10.40" fill="#3c3a3a"/><rect x="178.70" y="531.50" width="3.40" height="10.40" fill="#22a957"/><rect x="182.10" y="531.50" width="1.00" height="10.40" fill="#cfcfcf"/><rect x="183.10" y="531.50" width="1.00" height="10.40" fill="#cfcfcf"/><rect x="184.10" y="531.50" width="1.70" height="10.40" fill="#14a04c"/><rect x="185.80" y="531.50" width="1.30" height="10.40" fill="#3c3a3a"/><rect x="187.10" y="531.50" width="1.00" height="10.40" fill="#cfcfcf"/><rect x="188.10" y="531.50" width="2.20" height="10.40" fill="#0f8a3e"/><rect x="190.30" y="531.50" width="1.00" height="10.40" fill="#cfcfcf"/><rect x="191.30" y="531.50" width="3.40" height="10.40" fill="#353535"/><rect x="194.70" y="531.50" width="3.40" height="10.40" fill="#14a04c"/><rect x="198.10" y="531.50" width="1.30" height="10.40" fill="#2a2426"/><rect x="199.40" y="531.50" width="4.00" height="10.40" fill="#0f8a3e"/><rect x="203.40" y="531.50" width="1.00" height="10.40" fill="#cfcfcf"/><rect x="204.40" y="531.50" width="2.80" height="10.40" fill="#0f8a3e"/><rect x="207.20" y="531.50" width="4.00" height="10.40" fill="#0f8a3e"/><rect x="211.20" y="531.50" width="2.80" height="10.40" fill="#14a04c"/><rect x="214.00" y="531.50" width="2.80" height="10.40" fill="#14a04c"/><rect x="216.80" y="531.50" width="2.20" height="10.40" fill="#353535"/><rect x="219.00" y="531.50" width="2.80" height="10.40" fill="#22a957"/><rect x="221.80" y="531.50" width="3.40" height="10.40" fill="#0f8a3e"/><rect x="225.20" y="531.50" width="1.70" height="10.40" fill="#14a04c"/><rect x="226.90" y="531.50" width="4.00" height="10.40" fill="#22a957"/><rect x="230.90" y="531.50" width="1.00" height="10.40" fill="#cfcfcf"/><rect x="231.90" y="531.50" width="1.70" height="10.40" fill="#0f8a3e"/><rect x="233.60" y="531.50" width="4.00" height="10.40" fill="#14a04c"/><rect x="237.60" y="531.50" width="2.20" height="10.40" fill="#14a04c"/><rect x="239.80" y="531.50" width="1.70" height="10.40" fill="#3c3a3a"/><rect x="241.50" y="531.50" width="3.40" height="10.40" fill="#0b7a35"/><rect x="244.90" y="531.50" width="2.80" height="10.40" fill="#14a04c"/><rect x="247.70" y="531.50" width="3.40" height="10.40" fill="#14a04c"/><rect x="251.10" y="531.50" width="1.30" height="10.40" fill="#0f8a3e"/><rect x="252.40" y="531.50" width="3.40" height="10.40" fill="#0f8a3e"/><rect x="255.80" y="531.50" width="2.20" height="10.40" fill="#14a04c"/><rect x="258.00" y="531.50" width="1.70" height="10.40" fill="#22a957"/><rect x="259.70" y="531.50" width="2.20" height="10.40" fill="#14a04c"/><rect x="261.90" y="531.50" width="3.40" height="10.40" fill="#3c3a3a"/><rect x="265.30" y="531.50" width="2.20" height="10.40" fill="#22a957"/><rect x="267.50" y="531.50" width="1.70" height="10.40" fill="#2a2426"/><rect x="269.20" y="531.50" width="3.40" height="10.40" fill="#22a957"/><rect x="272.60" y="531.50" width="2.20" height="10.40" fill="#14a04c"/><rect x="274.80" y="531.50" width="3.40" height="10.40" fill="#22a957"/><rect x="278.20" y="531.50" width="2.20" height="10.40" fill="#353535"/><rect x="280.40" y="531.50" width="2.80" height="10.40" fill="#14a04c"/><rect x="283.20" y="531.50" width="1.00" height="10.40" fill="#cfcfcf"/><rect x="284.20" y="531.50" width="3.40" height="10.40" fill="#22a957"/><rect x="287.60" y="531.50" width="1.70" height="10.40" fill="#0f8a3e"/><rect x="289.30" y="531.50" width="3.40" height="10.40" fill="#22a957"/><rect x="292.70" y="531.50" width="1.30" height="10.40" fill="#3c3a3a"/><rect x="294.00" y="531.50" width="1.30" height="10.40" fill="#14a04c"/><rect x="295.30" y="531.50" width="2.80" height="10.40" fill="#2a2426"/><rect x="298.10" y="531.50" width="2.20" height="10.40" fill="#2a2426"/><rect x="300.30" y="531.50" width="2.80" height="10.40" fill="#0f8a3e"/><rect x="303.10" y="531.50" width="4.00" height="10.40" fill="#14a04c"/><rect x="307.10" y="531.50" width="1.30" height="10.40" fill="#353535"/><rect x="308.40" y="531.50" width="2.20" height="10.40" fill="#2c2c2c"/><rect x="310.60" y="531.50" width="3.40" height="10.40" fill="#0f8a3e"/><rect x="314.00" y="531.50" width="2.20" height="10.40" fill="#0f8a3e"/><rect x="316.20" y="531.50" width="4.00" height="10.40" fill="#2a2426"/><rect x="320.20" y="531.50" width="3.40" height="10.40" fill="#0f8a3e"/><rect x="323.60" y="531.50" width="1.00" height="10.40" fill="#cfcfcf"/><rect x="324.60" y="531.50" width="2.20" height="10.40" fill="#3c3a3a"/><rect x="326.80" y="531.50" width="3.40" height="10.40" fill="#2c2c2c"/><rect x="330.20" y="531.50" width="1.30" height="10.40" fill="#0b7a35"/><rect x="331.50" y="531.50" width="2.80" height="10.40" fill="#0f8a3e"/><rect x="334.30" y="531.50" width="1.30" height="10.40" fill="#14a04c"/><rect x="335.60" y="531.50" width="2.80" height="10.40" fill="#0f8a3e"/><rect x="338.40" y="531.50" width="3.40" height="10.40" fill="#0b7a35"/><rect x="341.80" y="531.50" width="2.20" height="10.40" fill="#2a2426"/><rect x="344.00" y="531.50" width="2.80" height="10.40" fill="#22a957"/><rect x="346.80" y="531.50" width="1.30" height="10.40" fill="#14a04c"/><rect x="348.10" y="531.50" width="2.20" height="10.40" fill="#0b7a35"/><rect x="350.30" y="531.50" width="1.70" height="10.40" fill="#0f8a3e"/><rect x="352.00" y="531.50" width="4.00" height="10.40" fill="#3c3a3a"/><rect x="356.00" y="531.50" width="1.30" height="10.40" fill="#353535"/><rect x="357.30" y="531.50" width="3.40" height="10.40" fill="#2c2c2c"/><rect x="360.70" y="531.50" width="2.20" height="10.40" fill="#0f8a3e"/><rect x="362.90" y="531.50" width="2.20" height="10.40" fill="#0b7a35"/><rect x="365.10" y="531.50" width="1.70" height="10.40" fill="#14a04c"/><rect x="366.80" y="531.50" width="2.80" height="10.40" fill="#14a04c"/><rect x="369.60" y="531.50" width="1.30" height="10.40" fill="#14a04c"/><rect x="370.90" y="531.50" width="1.70" height="10.40" fill="#22a957"/><rect x="372.60" y="531.50" width="1.70" height="10.40" fill="#3c3a3a"/><rect x="374.30" y="531.50" width="2.20" height="10.40" fill="#353535"/><rect x="376.50" y="531.50" width="2.80" height="10.40" fill="#22a957"/><rect x="379.30" y="531.50" width="2.20" height="10.40" fill="#0b7a35"/><rect x="381.50" y="531.50" width="4.00" height="10.40" fill="#353535"/><rect x="385.50" y="531.50" width="4.00" height="10.40" fill="#14a04c"/><rect x="389.50" y="531.50" width="2.20" height="10.40" fill="#22a957"/><rect x="391.70" y="531.50" width="1.30" height="10.40" fill="#14a04c"/><rect x="393.00" y="531.50" width="2.20" height="10.40" fill="#0b7a35"/><rect x="395.20" y="531.50" width="1.70" height="10.40" fill="#0b7a35"/><rect x="396.90" y="531.50" width="2.20" height="10.40" fill="#0f8a3e"/><rect x="399.10" y="531.50" width="3.40" height="10.40" fill="#14a04c"/><rect x="402.50" y="531.50" width="1.00" height="10.40" fill="#cfcfcf"/><rect x="403.50" y="531.50" width="1.30" height="10.40" fill="#3c3a3a"/><rect x="404.80" y="531.50" width="1.00" height="10.40" fill="#cfcfcf"/><rect x="405.80" y="531.50" width="1.70" height="10.40" fill="#0f8a3e"/><rect x="407.50" y="531.50" width="1.30" height="10.40" fill="#22a957"/><rect x="408.80" y="531.50" width="3.40" height="10.40" fill="#2c2c2c"/><rect x="412.20" y="531.50" width="3.40" height="10.40" fill="#3c3a3a"/><rect x="415.60" y="531.50" width="1.00" height="10.40" fill="#cfcfcf"/><rect x="416.60" y="531.50" width="1.30" height="10.40" fill="#14a04c"/><rect x="417.90" y="531.50" width="2.80" height="10.40" fill="#0f8a3e"/><rect x="420.70" y="531.50" width="2.20" height="10.40" fill="#14a04c"/><rect x="422.90" y="531.50" width="1.30" height="10.40" fill="#2a2426"/><rect x="424.20" y="531.50" width="2.20" height="10.40" fill="#0f8a3e"/><rect x="426.40" y="531.50" width="4.00" height="10.40" fill="#14a04c"/><rect x="430.40" y="531.50" width="2.80" height="10.40" fill="#0f8a3e"/><rect x="433.20" y="531.50" width="2.20" height="10.40" fill="#2a2426"/><rect x="435.40" y="531.50" width="2.80" height="10.40" fill="#0f8a3e"/><rect x="438.20" y="531.50" width="4.00" height="10.40" fill="#0f8a3e"/><rect x="442.20" y="531.50" width="3.40" height="10.40" fill="#0f8a3e"/><rect x="445.60" y="531.50" width="2.80" height="10.40" fill="#22a957"/><rect x="448.40" y="531.50" width="3.40" height="10.40" fill="#0f8a3e"/><rect x="451.80" y="531.50" width="2.80" height="10.40" fill="#0f8a3e"/><rect x="454.60" y="531.50" width="1.60" height="10.40" fill="#14a04c"/><rect x="53.50" y="543.00" width="3.40" height="10.70" fill="#0b7a35"/><rect x="56.90" y="543.00" width="3.40" height="10.70" fill="#353535"/><rect x="60.30" y="543.00" width="4.00" height="10.70" fill="#2a2426"/><rect x="64.30" y="543.00" width="2.20" height="10.70" fill="#0b7a35"/><rect x="66.50" y="543.00" width="2.20" height="10.70" fill="#0f8a3e"/><rect x="68.70" y="543.00" width="2.20" height="10.70" fill="#0b7a35"/><rect x="70.90" y="543.00" width="1.00" height="10.70" fill="#9fdcb0"/><rect x="71.90" y="543.00" width="3.40" height="10.70" fill="#22a957"/><rect x="75.30" y="543.00" width="4.00" height="10.70" fill="#22a957"/><rect x="79.30" y="543.00" width="1.00" height="10.70" fill="#9fdcb0"/><rect x="80.30" y="543.00" width="1.30" height="10.70" fill="#22a957"/><rect x="81.60" y="543.00" width="2.80" height="10.70" fill="#0b7a35"/><rect x="84.40" y="543.00" width="2.20" height="10.70" fill="#0b7a35"/><rect x="86.60" y="543.00" width="2.80" height="10.70" fill="#2a2426"/><rect x="89.40" y="543.00" width="1.00" height="10.70" fill="#9fdcb0"/><rect x="90.40" y="543.00" width="2.20" height="10.70" fill="#0f8a3e"/><rect x="92.60" y="543.00" width="1.70" height="10.70" fill="#22a957"/><rect x="94.30" y="543.00" width="1.70" height="10.70" fill="#0b7a35"/><rect x="96.00" y="543.00" width="4.00" height="10.70" fill="#0b7a35"/><rect x="100.00" y="543.00" width="2.20" height="10.70" fill="#14a04c"/><rect x="102.20" y="543.00" width="1.30" height="10.70" fill="#0f8a3e"/><rect x="103.50" y="543.00" width="2.20" height="10.70" fill="#3c3a3a"/><rect x="105.70" y="543.00" width="2.80" height="10.70" fill="#0f8a3e"/><rect x="108.50" y="543.00" width="4.00" height="10.70" fill="#14a04c"/><rect x="112.50" y="543.00" width="1.30" height="10.70" fill="#14a04c"/><rect x="113.80" y="543.00" width="2.80" height="10.70" fill="#0f8a3e"/><rect x="116.60" y="543.00" width="4.00" height="10.70" fill="#14a04c"/><rect x="120.60" y="543.00" width="1.70" height="10.70" fill="#2c2c2c"/><rect x="122.30" y="543.00" width="1.70" height="10.70" fill="#14a04c"/><rect x="124.00" y="543.00" width="3.40" height="10.70" fill="#14a04c"/><rect x="127.40" y="543.00" width="1.70" height="10.70" fill="#14a04c"/><rect x="129.10" y="543.00" width="1.00" height="10.70" fill="#9fdcb0"/><rect x="130.10" y="543.00" width="1.30" height="10.70" fill="#0f8a3e"/><rect x="131.40" y="543.00" width="1.30" height="10.70" fill="#0b7a35"/><rect x="132.70" y="543.00" width="2.20" height="10.70" fill="#14a04c"/><rect x="134.90" y="543.00" width="1.30" height="10.70" fill="#3c3a3a"/><rect x="136.20" y="543.00" width="2.20" height="10.70" fill="#353535"/><rect x="138.40" y="543.00" width="3.40" height="10.70" fill="#0f8a3e"/><rect x="141.80" y="543.00" width="1.70" height="10.70" fill="#0b7a35"/><rect x="143.50" y="543.00" width="1.70" height="10.70" fill="#14a04c"/><rect x="145.20" y="543.00" width="4.00" height="10.70" fill="#14a04c"/><rect x="149.20" y="543.00" width="4.00" height="10.70" fill="#22a957"/><rect x="153.20" y="543.00" width="3.40" height="10.70" fill="#14a04c"/><rect x="156.60" y="543.00" width="1.30" height="10.70" fill="#0b7a35"/><rect x="157.90" y="543.00" width="4.00" height="10.70" fill="#0b7a35"/><rect x="161.90" y="543.00" width="3.40" height="10.70" fill="#22a957"/><rect x="165.30" y="543.00" width="1.70" height="10.70" fill="#2a2426"/><rect x="167.00" y="543.00" width="1.00" height="10.70" fill="#9fdcb0"/><rect x="168.00" y="543.00" width="2.80" height="10.70" fill="#0b7a35"/><rect x="170.80" y="543.00" width="1.00" height="10.70" fill="#9fdcb0"/><rect x="171.80" y="543.00" width="2.80" height="10.70" fill="#0f8a3e"/><rect x="174.60" y="543.00" width="2.80" height="10.70" fill="#14a04c"/><rect x="177.40" y="543.00" width="2.20" height="10.70" fill="#0f8a3e"/><rect x="179.60" y="543.00" width="2.80" height="10.70" fill="#2c2c2c"/><rect x="182.40" y="543.00" width="1.70" height="10.70" fill="#353535"/><rect x="184.10" y="543.00" width="4.00" height="10.70" fill="#14a04c"/><rect x="188.10" y="543.00" width="2.80" height="10.70" fill="#2a2426"/><rect x="190.90" y="543.00" width="4.00" height="10.70" fill="#0b7a35"/><rect x="194.90" y="543.00" width="2.20" height="10.70" fill="#14a04c"/><rect x="197.10" y="543.00" width="1.70" height="10.70" fill="#0b7a35"/><rect x="198.80" y="543.00" width="2.20" height="10.70" fill="#0f8a3e"/><rect x="201.00" y="543.00" width="3.40" height="10.70" fill="#0f8a3e"/><rect x="204.40" y="543.00" width="1.70" height="10.70" fill="#0f8a3e"/><rect x="206.10" y="543.00" width="1.30" height="10.70" fill="#22a957"/><rect x="207.40" y="543.00" width="4.00" height="10.70" fill="#22a957"/><rect x="211.40" y="543.00" width="1.00" height="10.70" fill="#9fdcb0"/><rect x="212.40" y="543.00" width="1.30" height="10.70" fill="#22a957"/><rect x="213.70" y="543.00" width="1.30" height="10.70" fill="#22a957"/><rect x="215.00" y="543.00" width="1.30" height="10.70" fill="#22a957"/><rect x="216.30" y="543.00" width="4.00" height="10.70" fill="#14a04c"/><rect x="220.30" y="543.00" width="1.30" height="10.70" fill="#353535"/><rect x="221.60" y="543.00" width="3.40" height="10.70" fill="#22a957"/><rect x="225.00" y="543.00" width="1.70" height="10.70" fill="#0f8a3e"/><rect x="226.70" y="543.00" width="2.80" height="10.70" fill="#0f8a3e"/><rect x="229.50" y="543.00" width="3.40" height="10.70" fill="#0f8a3e"/><rect x="232.90" y="543.00" width="1.00" height="10.70" fill="#9fdcb0"/><rect x="233.90" y="543.00" width="1.30" height="10.70" fill="#14a04c"/><rect x="235.20" y="543.00" width="1.30" height="10.70" fill="#14a04c"/><rect x="236.50" y="543.00" width="1.70" height="10.70" fill="#14a04c"/><rect x="238.20" y="543.00" width="1.00" height="10.70" fill="#9fdcb0"/><rect x="239.20" y="543.00" width="3.40" height="10.70" fill="#0f8a3e"/><rect x="242.60" y="543.00" width="1.30" height="10.70" fill="#0f8a3e"/><rect x="243.90" y="543.00" width="2.80" height="10.70" fill="#14a04c"/><rect x="246.70" y="543.00" width="2.80" height="10.70" fill="#22a957"/><rect x="249.50" y="543.00" width="1.30" height="10.70" fill="#0f8a3e"/><rect x="250.80" y="543.00" width="3.40" height="10.70" fill="#14a04c"/><rect x="254.20" y="543.00" width="1.30" height="10.70" fill="#0f8a3e"/><rect x="255.50" y="543.00" width="2.20" height="10.70" fill="#22a957"/><rect x="257.70" y="543.00" width="3.40" height="10.70" fill="#0b7a35"/><rect x="261.10" y="543.00" width="2.80" height="10.70" fill="#22a957"/><rect x="263.90" y="543.00" width="2.80" height="10.70" fill="#14a04c"/><rect x="266.70" y="543.00" width="1.30" height="10.70" fill="#0b7a35"/><rect x="268.00" y="543.00" width="1.30" height="10.70" fill="#0b7a35"/><rect x="269.30" y="543.00" width="3.40" height="10.70" fill="#22a957"/><rect x="272.70" y="543.00" width="4.00" height="10.70" fill="#14a04c"/><rect x="276.70" y="543.00" width="4.00" height="10.70" fill="#0f8a3e"/><rect x="280.70" y="543.00" width="1.70" height="10.70" fill="#14a04c"/><rect x="282.40" y="543.00" width="1.70" height="10.70" fill="#22a957"/><rect x="284.10" y="543.00" width="4.00" height="10.70" fill="#14a04c"/><rect x="288.10" y="543.00" width="1.30" height="10.70" fill="#14a04c"/><rect x="289.40" y="543.00" width="1.00" height="10.70" fill="#9fdcb0"/><rect x="290.40" y="543.00" width="1.00" height="10.70" fill="#9fdcb0"/><rect x="291.40" y="543.00" width="1.00" height="10.70" fill="#9fdcb0"/><rect x="292.40" y="543.00" width="1.30" height="10.70" fill="#14a04c"/><rect x="293.70" y="543.00" width="4.00" height="10.70" fill="#22a957"/><rect x="297.70" y="543.00" width="1.70" height="10.70" fill="#14a04c"/><rect x="299.40" y="543.00" width="3.40" height="10.70" fill="#0b7a35"/><rect x="302.80" y="543.00" width="4.00" height="10.70" fill="#0b7a35"/><rect x="306.80" y="543.00" width="3.40" height="10.70" fill="#22a957"/><rect x="310.20" y="543.00" width="1.00" height="10.70" fill="#9fdcb0"/><rect x="311.20" y="543.00" width="2.20" height="10.70" fill="#0b7a35"/><rect x="313.40" y="543.00" width="1.00" height="10.70" fill="#9fdcb0"/><rect x="314.40" y="543.00" width="1.70" height="10.70" fill="#14a04c"/><rect x="316.10" y="543.00" width="1.70" height="10.70" fill="#0b7a35"/><rect x="317.80" y="543.00" width="2.80" height="10.70" fill="#0b7a35"/><rect x="320.60" y="543.00" width="1.30" height="10.70" fill="#22a957"/><rect x="321.90" y="543.00" width="1.30" height="10.70" fill="#0b7a35"/><rect x="323.20" y="543.00" width="2.20" height="10.70" fill="#22a957"/><rect x="325.40" y="543.00" width="3.40" height="10.70" fill="#0f8a3e"/><rect x="328.80" y="543.00" width="1.00" height="10.70" fill="#9fdcb0"/><rect x="329.80" y="543.00" width="3.40" height="10.70" fill="#0f8a3e"/><rect x="333.20" y="543.00" width="3.40" height="10.70" fill="#22a957"/><rect x="336.60" y="543.00" width="2.80" height="10.70" fill="#22a957"/><rect x="339.40" y="543.00" width="2.80" height="10.70" fill="#22a957"/><rect x="342.20" y="543.00" width="3.40" height="10.70" fill="#0f8a3e"/><rect x="345.60" y="543.00" width="2.80" height="10.70" fill="#14a04c"/><rect x="348.40" y="543.00" width="2.80" height="10.70" fill="#0f8a3e"/><rect x="351.20" y="543.00" width="2.20" height="10.70" fill="#353535"/><rect x="353.40" y="543.00" width="2.20" height="10.70" fill="#0f8a3e"/><rect x="355.60" y="543.00" width="1.70" height="10.70" fill="#22a957"/><rect x="357.30" y="543.00" width="1.00" height="10.70" fill="#9fdcb0"/><rect x="358.30" y="543.00" width="3.40" height="10.70" fill="#14a04c"/><rect x="361.70" y="543.00" width="2.80" height="10.70" fill="#22a957"/><rect x="364.50" y="543.00" width="2.20" height="10.70" fill="#0b7a35"/><rect x="366.70" y="543.00" width="2.20" height="10.70" fill="#0f8a3e"/><rect x="368.90" y="543.00" width="1.00" height="10.70" fill="#9fdcb0"/><rect x="369.90" y="543.00" width="1.70" height="10.70" fill="#0f8a3e"/><rect x="371.60" y="543.00" width="2.80" height="10.70" fill="#22a957"/><rect x="374.40" y="543.00" width="1.30" height="10.70" fill="#0b7a35"/><rect x="375.70" y="543.00" width="1.30" height="10.70" fill="#0b7a35"/><rect x="377.00" y="543.00" width="4.00" height="10.70" fill="#0b7a35"/><rect x="381.00" y="543.00" width="1.30" height="10.70" fill="#14a04c"/><rect x="382.30" y="543.00" width="2.20" height="10.70" fill="#0f8a3e"/><rect x="384.50" y="543.00" width="1.30" height="10.70" fill="#0b7a35"/><rect x="385.80" y="543.00" width="2.80" height="10.70" fill="#22a957"/><rect x="388.60" y="543.00" width="1.00" height="10.70" fill="#9fdcb0"/><rect x="389.60" y="543.00" width="2.20" height="10.70" fill="#22a957"/><rect x="391.80" y="543.00" width="2.20" height="10.70" fill="#14a04c"/><rect x="394.00" y="543.00" width="1.00" height="10.70" fill="#9fdcb0"/><rect x="395.00" y="543.00" width="2.20" height="10.70" fill="#14a04c"/><rect x="397.20" y="543.00" width="3.40" height="10.70" fill="#0f8a3e"/><rect x="400.60" y="543.00" width="1.30" height="10.70" fill="#0b7a35"/><rect x="401.90" y="543.00" width="1.70" height="10.70" fill="#14a04c"/><rect x="403.60" y="543.00" width="2.80" height="10.70" fill="#0f8a3e"/><rect x="406.40" y="543.00" width="1.70" height="10.70" fill="#14a04c"/><rect x="408.10" y="543.00" width="2.80" height="10.70" fill="#14a04c"/><rect x="410.90" y="543.00" width="1.00" height="10.70" fill="#9fdcb0"/><rect x="411.90" y="543.00" width="2.20" height="10.70" fill="#0f8a3e"/><rect x="414.10" y="543.00" width="2.80" height="10.70" fill="#0f8a3e"/><rect x="416.90" y="543.00" width="2.20" height="10.70" fill="#14a04c"/><rect x="419.10" y="543.00" width="2.80" height="10.70" fill="#14a04c"/><rect x="421.90" y="543.00" width="4.00" height="10.70" fill="#0f8a3e"/><rect x="425.90" y="543.00" width="1.30" height="10.70" fill="#22a957"/><rect x="427.20" y="543.00" width="1.00" height="10.70" fill="#9fdcb0"/><rect x="428.20" y="543.00" width="1.00" height="10.70" fill="#9fdcb0"/><rect x="429.20" y="543.00" width="1.00" height="10.70" fill="#9fdcb0"/><rect x="430.20" y="543.00" width="2.20" height="10.70" fill="#22a957"/><rect x="432.40" y="543.00" width="4.00" height="10.70" fill="#14a04c"/><rect x="436.40" y="543.00" width="3.40" height="10.70" fill="#0f8a3e"/><rect x="439.80" y="543.00" width="3.40" height="10.70" fill="#22a957"/><rect x="443.20" y="543.00" width="1.30" height="10.70" fill="#22a957"/><rect x="444.50" y="543.00" width="1.30" height="10.70" fill="#14a04c"/><rect x="445.80" y="543.00" width="2.20" height="10.70" fill="#0b7a35"/><rect x="448.00" y="543.00" width="2.20" height="10.70" fill="#0b7a35"/><rect x="450.20" y="543.00" width="4.00" height="10.70" fill="#0b7a35"/><rect x="454.20" y="543.00" width="2.00" height="10.70" fill="#14a04c"/><text x="19.60" y="493.80" font-size="9.61" fill="#3a3a3a" stroke="#3a3a3a" stroke-width="0.25" textLength="30.60" lengthAdjust="spacingAndGlyphs">DHITsig</text><text x="28.80" y="505.40" font-size="9.61" fill="#3a3a3a" stroke="#3a3a3a" stroke-width="0.25" textLength="21.40" lengthAdjust="spacingAndGlyphs">COO</text><text x="1.20" y="516.00" font-size="9.61" fill="#3a3a3a" stroke="#3a3a3a" stroke-width="0.25" textLength="49.00" lengthAdjust="spacingAndGlyphs">Morphology</text><text x="9.80" y="528.40" font-size="8.9" fill="#3a3a3a" stroke="#3a3a3a" stroke-width="0.25" textLength="40.40" lengthAdjust="spacingAndGlyphs"><tspan font-style="italic">MYC</tspan><tspan> FISH</tspan></text><text x="8.70" y="540.20" font-size="8.9" fill="#3a3a3a" stroke="#3a3a3a" stroke-width="0.25" textLength="41.50" lengthAdjust="spacingAndGlyphs"><tspan font-style="italic">BCL2</tspan><tspan> FISH</tspan></text><text x="9.80" y="551.00" font-size="9.61" fill="#3a3a3a" stroke="#3a3a3a" stroke-width="0.25" textLength="40.40" lengthAdjust="spacingAndGlyphs">CD10 IHC</text><text x="464.90" y="257.30" font-size="9.07" fill="#3a3a3a" stroke="#3a3a3a" stroke-width="0.25" textLength="44.90" lengthAdjust="spacingAndGlyphs">Normalized</text><text x="464.90" y="268.00" font-size="9.07" fill="#3a3a3a" stroke="#3a3a3a" stroke-width="0.25" textLength="42.00" lengthAdjust="spacingAndGlyphs">Expression</text><rect x="464.9" y="272.4" width="53.9" height="6.0" fill="url(#g3)"/><text x="462.20" y="287.10" font-size="9.07" fill="#3a3a3a" stroke="#3a3a3a" stroke-width="0.25" textLength="7.70" lengthAdjust="spacingAndGlyphs">−4</text><text x="474.70" y="287.10" font-size="9.07" fill="#3a3a3a" stroke="#3a3a3a" stroke-width="0.25" textLength="8.90" lengthAdjust="spacingAndGlyphs">−2</text><text x="489.20" y="287.10" font-size="9.07" fill="#3a3a3a" stroke="#3a3a3a" stroke-width="0.25" textLength="4.60" lengthAdjust="spacingAndGlyphs">0</text><text x="502.00" y="287.10" font-size="9.07" fill="#3a3a3a" stroke="#3a3a3a" stroke-width="0.25" textLength="4.30" lengthAdjust="spacingAndGlyphs">2</text><text x="514.60" y="287.10" font-size="9.07" fill="#3a3a3a" stroke="#3a3a3a" stroke-width="0.25" textLength="4.80" lengthAdjust="spacingAndGlyphs">4</text><text x="465.70" y="314.10" font-size="9.07" fill="#3a3a3a" stroke="#3a3a3a" stroke-width="0.25" textLength="30.40" lengthAdjust="spacingAndGlyphs">DHITsig</text><rect x="466.10" y="320.30" width="7.20" height="7.00" fill="#e3201f"/><text x="477.30" y="326.50" font-size="9.07" fill="#3a3a3a" stroke="#3a3a3a" stroke-width="0.25" textLength="17.10" lengthAdjust="spacingAndGlyphs">POS</text><rect x="466.10" y="330.40" width="7.20" height="7.00" fill="#aa5860"/><text x="477.30" y="336.50" font-size="9.07" fill="#3a3a3a" stroke="#3a3a3a" stroke-width="0.25" textLength="14.20" lengthAdjust="spacingAndGlyphs">IND</text><rect x="466.10" y="340.50" width="7.20" height="7.00" fill="#1b1b1b"/><text x="477.30" y="346.50" font-size="9.07" fill="#3a3a3a" stroke="#3a3a3a" stroke-width="0.25" textLength="18.60" lengthAdjust="spacingAndGlyphs">NEG</text><text x="465.70" y="363.10" font-size="9.07" fill="#3a3a3a" stroke="#3a3a3a" stroke-width="0.25" textLength="20.90" lengthAdjust="spacingAndGlyphs">COO</text><rect x="466.10" y="367.30" width="7.20" height="7.00" fill="#f08b00"/><text x="477.30" y="373.20" font-size="9.07" fill="#3a3a3a" stroke="#3a3a3a" stroke-width="0.25" textLength="18.60" lengthAdjust="spacingAndGlyphs">GCB</text><text x="465.70" y="388.70" font-size="9.07" fill="#3a3a3a" stroke="#3a3a3a" stroke-width="0.25" textLength="49.30" lengthAdjust="spacingAndGlyphs">Morphology</text><rect x="466.10" y="394.70" width="7.20" height="7.00" fill="#1ca157"/><text x="477.30" y="400.70" font-size="9.07" fill="#3a3a3a" stroke="#3a3a3a" stroke-width="0.25" textLength="26.60" lengthAdjust="spacingAndGlyphs">DLBCL</text><rect x="466.10" y="404.80" width="7.20" height="7.00" fill="#a978c0"/><text x="477.30" y="411.00" font-size="9.07" fill="#3a3a3a" stroke="#3a3a3a" stroke-width="0.25" textLength="11.70" lengthAdjust="spacingAndGlyphs">BL</text><text x="465.70" y="430.70" font-size="9.07" fill="#3a3a3a" stroke="#3a3a3a" stroke-width="0.25" textLength="37.30" lengthAdjust="spacingAndGlyphs">FISH/IHC</text><rect x="466.10" y="437.60" width="7.20" height="7.00" fill="#14a04c"/><text x="477.30" y="443.80" font-size="9.07" fill="#3a3a3a" stroke="#3a3a3a" stroke-width="0.25" textLength="17.10" lengthAdjust="spacingAndGlyphs">POS</text><rect x="466.10" y="448.05" width="7.20" height="7.00" fill="#2a1c20"/><text x="477.30" y="454.30" font-size="9.07" fill="#3a3a3a" stroke="#3a3a3a" stroke-width="0.25" textLength="18.60" lengthAdjust="spacingAndGlyphs">NEG</text><rect x="466.10" y="458.50" width="7.20" height="7.00" fill="#c2c2c2"/><text x="477.30" y="464.80" font-size="9.07" fill="#3a3a3a" stroke="#3a3a3a" stroke-width="0.25" textLength="13.20" lengthAdjust="spacingAndGlyphs">NA</text><text x="1.80" y="590.90" font-size="14.2" fill="#111" stroke="#111" stroke-width="0" font-weight="bold" textLength="9.20" lengthAdjust="spacingAndGlyphs">C</text><text x="51.20" y="595.40" font-size="8.86" fill="#3a3a3a" stroke="#3a3a3a" stroke-width="0.25" textLength="30.70" lengthAdjust="spacingAndGlyphs">DHITsig</text><rect x="51.20" y="601.80" width="7.40" height="7.40" fill="#1b1b1b"/><text x="62.70" y="608.50" font-size="8.86" fill="#3a3a3a" stroke="#3a3a3a" stroke-width="0.25" textLength="18.50" lengthAdjust="spacingAndGlyphs">NEG</text><rect x="88.80" y="601.80" width="7.40" height="7.40" fill="#e3201f"/><text x="100.40" y="608.50" font-size="8.86" fill="#3a3a3a" stroke="#3a3a3a" stroke-width="0.25" textLength="16.90" lengthAdjust="spacingAndGlyphs">POS</text><rect x="51.20" y="615.00" width="7.40" height="7.40" fill="#aa5860"/><text x="62.70" y="621.50" font-size="8.86" fill="#3a3a3a" stroke="#3a3a3a" stroke-width="0.25" textLength="15.30" lengthAdjust="spacingAndGlyphs">IND</text><text x="128.70" y="595.00" font-size="8.86" fill="#3a3a3a" stroke="#3a3a3a" stroke-width="0.25" textLength="64.00" lengthAdjust="spacingAndGlyphs">WHO Diagnosis</text><rect x="128.70" y="601.90" width="7.40" height="7.40" fill="#b3141c"/><text x="139.20" y="608.50" font-size="8.2" fill="#3a3a3a" stroke="#3a3a3a" stroke-width="0.25" textLength="71.20" lengthAdjust="spacingAndGlyphs"><tspan>HGBCL-DH-</tspan><tspan font-style="italic">BCL2</tspan></text><rect x="128.70" y="615.40" width="7.40" height="7.40" fill="#029745"/><text x="139.20" y="621.90" font-size="8.86" fill="#3a3a3a" stroke="#3a3a3a" stroke-width="0.25" textLength="52.30" lengthAdjust="spacingAndGlyphs">DLBCL, NOS</text><polygon points="151.8,747.4 187.9,646 187.9,774.6 151.8,774.6" fill="url(#g4)"/><rect x="55.90" y="646.00" width="36.00" height="128.60" fill="#e3201f"/><rect x="115.00" y="646.00" width="36.80" height="86.00" fill="#1b1b1b"/><rect x="115.00" y="732.00" width="36.80" height="15.40" fill="#aa5860"/><rect x="115.00" y="747.40" width="36.80" height="27.20" fill="#e3201f"/><rect x="187.90" y="646.00" width="36.50" height="49.60" fill="#b3141c"/><rect x="187.90" y="695.60" width="36.50" height="79.00" fill="#029745"/><line x1="151.80" y1="747.40" x2="187.90" y2="646.00" stroke="#4a4a4a" stroke-width="1.3" stroke-dasharray="2.6 1.6"/><line x1="151.80" y1="774.60" x2="187.90" y2="774.60" stroke="#555" stroke-width="1.3" stroke-dasharray="2.6 1.6"/><text x="60.60" y="640.10" font-size="8.86" fill="#3a3a3a" stroke="#3a3a3a" stroke-width="0.25" textLength="27.00" lengthAdjust="spacingAndGlyphs">n = 55</text><text x="117.20" y="640.10" font-size="8.86" fill="#3a3a3a" stroke="#3a3a3a" stroke-width="0.25" textLength="31.70" lengthAdjust="spacingAndGlyphs">n = 431</text><text x="192.40" y="640.00" font-size="8.86" fill="#3a3a3a" stroke="#3a3a3a" stroke-width="0.25" textLength="27.10" lengthAdjust="spacingAndGlyphs">n = 85</text><text x="62.70" y="655.00" font-size="9.18" fill="#ffffff" stroke="#ffffff" stroke-width="0" textLength="22.80" lengthAdjust="spacingAndGlyphs">100%</text><text x="124.00" y="655.00" font-size="9.18" fill="#ffffff" stroke="#ffffff" stroke-width="0" textLength="18.60" lengthAdjust="spacingAndGlyphs">67%</text><text x="124.40" y="741.30" font-size="9.18" fill="#ffffff" stroke="#ffffff" stroke-width="0" textLength="18.30" lengthAdjust="spacingAndGlyphs">12%</text><text x="124.40" y="757.00" font-size="9.18" fill="#ffffff" stroke="#ffffff" stroke-width="0" textLength="18.30" lengthAdjust="spacingAndGlyphs">21%</text><text x="196.80" y="654.40" font-size="9.18" fill="#ffffff" stroke="#ffffff" stroke-width="0" textLength="18.30" lengthAdjust="spacingAndGlyphs">39%</text><text x="196.80" y="703.90" font-size="9.18" fill="#ffffff" stroke="#ffffff" stroke-width="0" textLength="18.30" lengthAdjust="spacingAndGlyphs">61%</text><line x1="39.50" y1="633.10" x2="39.50" y2="782.20" stroke="#1a1a1a" stroke-width="1.4"/><line x1="39.00" y1="781.50" x2="168.00" y2="781.50" stroke="#1a1a1a" stroke-width="1.4"/><line x1="185.40" y1="781.50" x2="226.80" y2="781.50" stroke="#1a1a1a" stroke-width="1.4"/><line x1="74.00" y1="781.50" x2="74.00" y2="784.70" stroke="#1a1a1a" stroke-width="1.0"/><line x1="133.00" y1="781.50" x2="133.00" y2="784.70" stroke="#1a1a1a" stroke-width="1.0"/><line x1="205.80" y1="781.50" x2="205.80" y2="784.70" stroke="#1a1a1a" stroke-width="1.0"/><line x1="36.00" y1="646.40" x2="39.60" y2="646.40" stroke="#1a1a1a" stroke-width="1.0"/><text x="31.80" y="649.60" font-size="9.61" fill="#3a3a3a" stroke="#3a3a3a" text-anchor="end" stroke-width="0.25">100</text><line x1="36.00" y1="678.45" x2="39.60" y2="678.45" stroke="#1a1a1a" stroke-width="1.0"/><text x="31.80" y="681.65" font-size="9.61" fill="#3a3a3a" stroke="#3a3a3a" text-anchor="end" stroke-width="0.25">75</text><line x1="36.00" y1="710.50" x2="39.60" y2="710.50" stroke="#1a1a1a" stroke-width="1.0"/><text x="31.80" y="713.70" font-size="9.61" fill="#3a3a3a" stroke="#3a3a3a" text-anchor="end" stroke-width="0.25">50</text><line x1="36.00" y1="742.55" x2="39.60" y2="742.55" stroke="#1a1a1a" stroke-width="1.0"/><text x="31.80" y="745.75" font-size="9.61" fill="#3a3a3a" stroke="#3a3a3a" text-anchor="end" stroke-width="0.25">25</text><line x1="36.00" y1="774.60" x2="39.60" y2="774.60" stroke="#1a1a1a" stroke-width="1.0"/><text x="31.80" y="777.80" font-size="9.61" fill="#3a3a3a" stroke="#3a3a3a" text-anchor="end" stroke-width="0.25">0</text><text transform="translate(6.30,707.70) rotate(-90)" x="-37.75" y="0" font-size="10" fill="#3a3a3a" stroke="#3a3a3a" stroke-width="0.25" textLength="75.50" lengthAdjust="spacingAndGlyphs" dominant-baseline="central">Percent DHITsigpos</text><text x="69.60" y="796.20" font-size="9.29" fill="#3a3a3a" stroke="#3a3a3a" stroke-width="0.25" textLength="10.20" lengthAdjust="spacingAndGlyphs">BL</text><text x="123.70" y="796.20" font-size="9.29" fill="#3a3a3a" stroke="#3a3a3a" stroke-width="0.25" textLength="19.00" lengthAdjust="spacingAndGlyphs">GCB</text><text x="103.60" y="807.90" font-size="9.29" fill="#3a3a3a" stroke="#3a3a3a" stroke-width="0.25" textLength="60.30" lengthAdjust="spacingAndGlyphs">DLBCL morph</text><text x="172.10" y="800.70" font-size="9.29" fill="#3a3a3a" stroke="#3a3a3a" stroke-width="0.25" textLength="17.80" lengthAdjust="spacingAndGlyphs">GCB</text><text x="194.30" y="800.70" font-size="9.29" fill="#3a3a3a" stroke="#3a3a3a" stroke-width="0.25" textLength="33.90" lengthAdjust="spacingAndGlyphs">DHITsig</text><text x="229.10" y="798.30" font-size="6.97" fill="#3a3a3a" stroke="#3a3a3a" stroke-width="0.25" textLength="10.80" lengthAdjust="spacingAndGlyphs">pos</text><text x="177.30" y="812.20" font-size="9.29" fill="#3a3a3a" stroke="#3a3a3a" stroke-width="0.25" textLength="57.60" lengthAdjust="spacingAndGlyphs">with available</text><text x="196.40" y="823.60" font-size="9.29" fill="#3a3a3a" stroke="#3a3a3a" stroke-width="0.25" textLength="19.30" lengthAdjust="spacingAndGlyphs">FISH</text><text x="260.20" y="590.70" font-size="14.2" fill="#111" stroke="#111" stroke-width="0" font-weight="bold" textLength="10.30" lengthAdjust="spacingAndGlyphs">D</text><text x="340.70" y="609.30" font-size="8.86" fill="#3a3a3a" stroke="#3a3a3a" stroke-width="0.25" textLength="40.50" lengthAdjust="spacingAndGlyphs">CD10 IHC</text><rect x="392.70" y="602.60" width="6.90" height="6.90" fill="#14a04c"/><text x="403.80" y="609.30" font-size="8.86" fill="#3a3a3a" stroke="#3a3a3a" stroke-width="0.25" textLength="19.50" lengthAdjust="spacingAndGlyphs">POS</text><rect x="428.50" y="602.60" width="7.10" height="6.90" fill="#1b1b1b"/><text x="440.20" y="609.30" font-size="8.86" fill="#3a3a3a" stroke="#3a3a3a" stroke-width="0.25" textLength="18.20" lengthAdjust="spacingAndGlyphs">NEG</text><text x="379.70" y="625.60" font-size="8.2" fill="#3a3a3a" stroke="#3a3a3a" stroke-width="0.25" textLength="39.70" lengthAdjust="spacingAndGlyphs"><tspan font-style="italic">P</tspan><tspan> &lt; .0001</tspan></text><rect x="315.30" y="646.00" width="36.60" height="4.80" fill="#1b1b1b"/><rect x="315.30" y="650.80" width="36.60" height="123.80" fill="#04953f"/><rect x="381.50" y="646.00" width="36.30" height="5.70" fill="#1b1b1b"/><rect x="381.50" y="651.70" width="36.30" height="122.90" fill="#04953f"/><rect x="448.20" y="646.20" width="35.90" height="44.80" fill="#1b1b1b"/><rect x="448.20" y="691.00" width="35.90" height="83.60" fill="#04953f"/><text x="319.50" y="639.60" font-size="8.86" fill="#3a3a3a" stroke="#3a3a3a" stroke-width="0.25" textLength="27.50" lengthAdjust="spacingAndGlyphs">n = 49</text><text x="385.70" y="639.60" font-size="8.86" fill="#3a3a3a" stroke="#3a3a3a" stroke-width="0.25" textLength="27.50" lengthAdjust="spacingAndGlyphs">n = 84</text><text x="449.70" y="639.70" font-size="8.86" fill="#3a3a3a" stroke="#3a3a3a" stroke-width="0.25" textLength="32.50" lengthAdjust="spacingAndGlyphs">n = 292</text><text x="324.40" y="660.10" font-size="9.18" fill="#ffffff" stroke="#ffffff" stroke-width="0" textLength="18.40" lengthAdjust="spacingAndGlyphs">96%</text><text x="390.30" y="660.10" font-size="9.18" fill="#ffffff" stroke="#ffffff" stroke-width="0" textLength="18.00" lengthAdjust="spacingAndGlyphs">95%</text><text x="456.70" y="655.00" font-size="9.18" fill="#ffffff" stroke="#ffffff" stroke-width="0" textLength="18.40" lengthAdjust="spacingAndGlyphs">36%</text><text x="456.70" y="700.50" font-size="9.18" fill="#ffffff" stroke="#ffffff" stroke-width="0" textLength="18.40" lengthAdjust="spacingAndGlyphs">64%</text><line x1="297.50" y1="633.00" x2="297.50" y2="782.20" stroke="#1a1a1a" stroke-width="1.4"/><line x1="296.80" y1="781.50" x2="501.60" y2="781.50" stroke="#1a1a1a" stroke-width="1.4"/><line x1="333.30" y1="781.50" x2="333.30" y2="784.70" stroke="#1a1a1a" stroke-width="1.0"/><line x1="399.80" y1="781.50" x2="399.80" y2="784.70" stroke="#1a1a1a" stroke-width="1.0"/><line x1="465.80" y1="781.50" x2="465.80" y2="784.70" stroke="#1a1a1a" stroke-width="1.0"/><line x1="294.00" y1="646.20" x2="297.40" y2="646.20" stroke="#1a1a1a" stroke-width="1.0"/><text x="290.60" y="649.40" font-size="9.61" fill="#3a3a3a" stroke="#3a3a3a" text-anchor="end" stroke-width="0.25">100</text><line x1="294.00" y1="678.30" x2="297.40" y2="678.30" stroke="#1a1a1a" stroke-width="1.0"/><text x="290.60" y="681.50" font-size="9.61" fill="#3a3a3a" stroke="#3a3a3a" text-anchor="end" stroke-width="0.25">75</text><line x1="294.00" y1="710.40" x2="297.40" y2="710.40" stroke="#1a1a1a" stroke-width="1.0"/><text x="290.60" y="713.60" font-size="9.61" fill="#3a3a3a" stroke="#3a3a3a" text-anchor="end" stroke-width="0.25">50</text><line x1="294.00" y1="742.50" x2="297.40" y2="742.50" stroke="#1a1a1a" stroke-width="1.0"/><text x="290.60" y="745.70" font-size="9.61" fill="#3a3a3a" stroke="#3a3a3a" text-anchor="end" stroke-width="0.25">25</text><line x1="294.00" y1="774.60" x2="297.40" y2="774.60" stroke="#1a1a1a" stroke-width="1.0"/><text x="290.60" y="777.80" font-size="9.61" fill="#3a3a3a" stroke="#3a3a3a" text-anchor="end" stroke-width="0.25">0</text><text transform="translate(265.50,706.80) rotate(-90)" x="-27.80" y="0" font-size="10" fill="#3a3a3a" stroke="#3a3a3a" stroke-width="0.25" textLength="55.60" lengthAdjust="spacingAndGlyphs" dominant-baseline="central">CD10 IHC (%)</text><text x="328.30" y="796.60" font-size="9.29" fill="#3a3a3a" stroke="#3a3a3a" stroke-width="0.25" textLength="10.20" lengthAdjust="spacingAndGlyphs">BL</text><text x="390.20" y="797.10" font-size="9.29" fill="#3a3a3a" stroke="#3a3a3a" stroke-width="0.25" textLength="19.60" lengthAdjust="spacingAndGlyphs">GCB</text><text x="376.80" y="807.60" font-size="9.29" fill="#3a3a3a" stroke="#3a3a3a" stroke-width="0.25" textLength="33.30" lengthAdjust="spacingAndGlyphs">DHITsig</text><text x="410.60" y="805.20" font-size="6.97" fill="#3a3a3a" stroke="#3a3a3a" stroke-width="0.25" textLength="11.90" lengthAdjust="spacingAndGlyphs">pos</text><text x="370.20" y="818.90" font-size="9.29" fill="#3a3a3a" stroke="#3a3a3a" stroke-width="0.25" textLength="59.30" lengthAdjust="spacingAndGlyphs">DLBCL morph</text><text x="455.60" y="797.10" font-size="9.29" fill="#3a3a3a" stroke="#3a3a3a" stroke-width="0.25" textLength="20.20" lengthAdjust="spacingAndGlyphs">GCB</text><text x="436.60" y="807.60" font-size="9.29" fill="#3a3a3a" stroke="#3a3a3a" stroke-width="0.25" textLength="34.00" lengthAdjust="spacingAndGlyphs">DHITsig</text><text x="471.20" y="805.20" font-size="6.97" fill="#3a3a3a" stroke="#3a3a3a" stroke-width="0.25" textLength="24.20" lengthAdjust="spacingAndGlyphs">neg/ind</text><text x="435.90" y="818.90" font-size="9.29" fill="#3a3a3a" stroke="#3a3a3a" stroke-width="0.25" textLength="60.10" lengthAdjust="spacingAndGlyphs">DLBCL morph</text>
</svg>
</body></html>
